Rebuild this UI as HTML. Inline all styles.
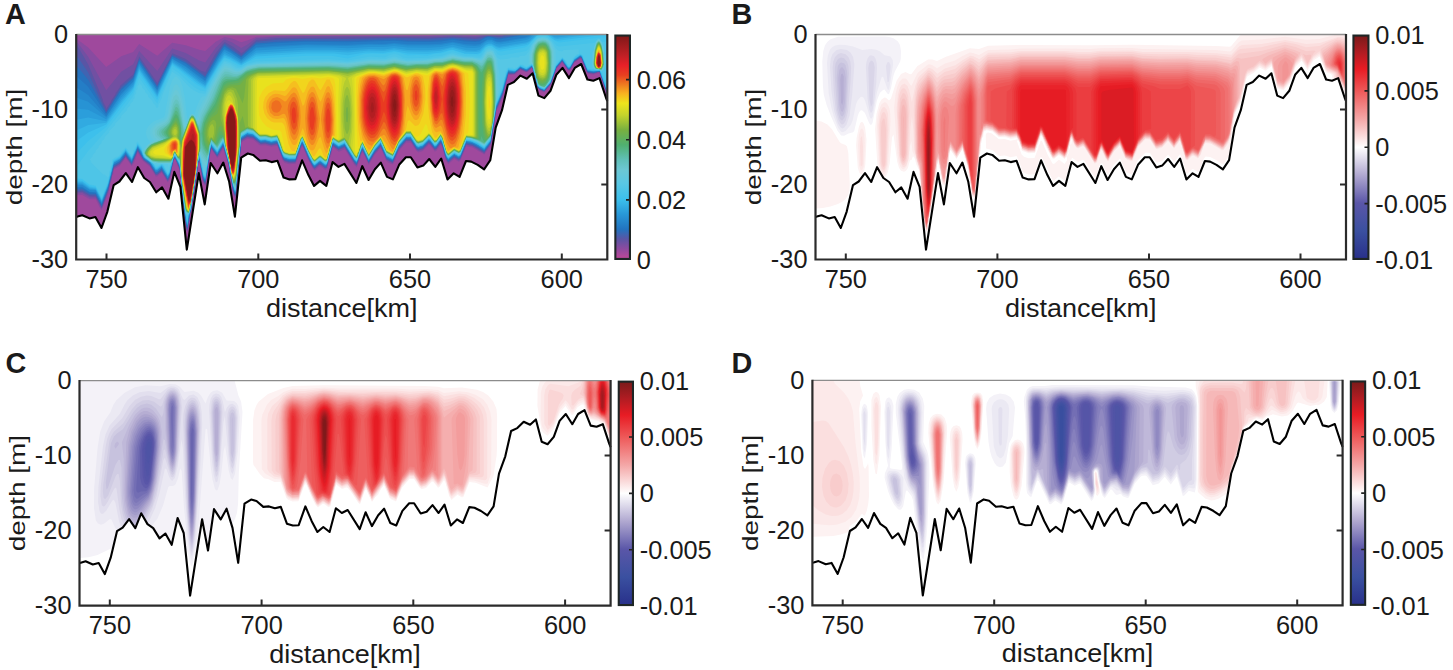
<!DOCTYPE html><html><head><meta charset="utf-8"><style>html,body{margin:0;padding:0;background:#fff;width:1453px;height:670px;overflow:hidden}</style></head><body><svg width="1453" height="670" viewBox="0 0 1453 670" style="display:block;font-family:'Liberation Sans', sans-serif;fill:#1a1a1a">
<rect width="1453" height="670" fill="#fff"/>
<path d="M106.5,259.5 v-6 M258.3,259.5 v-6 M410.0,259.5 v-6 M561.8,259.5 v-6 M76.2,109.5 h6 M607.3000000000001,109.5 h-6 M76.2,184.5 h6 M607.3000000000001,184.5 h-6" stroke="#2b2b2b" stroke-width="2" fill="none"/>
<g transform="translate(76.2,34.5)">
<clipPath id="clipA"><polygon points="0,0 531.1,0 531.1,66.5 531.1,66.5 529.7,63.0 523.3,43.6 517.1,46.2 511.2,45.0 505.0,29.5 498.6,33.4 492.8,43.6 486.3,33.4 480.1,40.3 474.3,56.3 468.1,63.6 462.2,61.1 456.4,38.8 450.6,44.2 444.2,41.1 437.8,47.5 431.6,50.4 425.8,75.7 419.5,93.1 414.1,125.7 407.9,134.8 401.5,130.4 395.0,127.1 389.8,126.5 383.4,142.4 377.5,138.8 371.3,144.9 365.0,124.0 359.1,132.4 353.0,124.5 347.1,131.1 341.2,132.9 334.6,122.7 329.7,122.7 322.9,130.3 316.7,144.9 310.8,142.4 304.6,128.1 298.7,134.7 292.4,145.5 286.1,131.7 280.2,148.5 268.2,129.4 262.3,132.4 256.4,127.6 250.1,151.4 243.8,146.4 237.9,151.4 232.2,140.6 225.9,125.8 219.2,144.6 213.3,144.9 207.4,143.1 201.3,126.3 195.4,127.6 189.5,125.8 183.8,126.3 177.0,120.4 171.6,119.0 165.0,123.1 158.7,182.2 153.0,147.3 147.1,128.1 141.2,138.8 134.5,128.5 128.5,169.9 122.6,138.6 110.6,215.1 104.2,152.4 98.1,137.4 92.2,164.2 85.9,152.9 80.0,157.8 73.7,147.5 68.0,143.5 61.7,132.7 55.8,147.5 49.6,138.6 43.2,147.0 37.5,150.6 31.2,177.1 25.3,193.5 19.2,182.5 13.3,183.9 6.1,180.7 1.3,182.1 0.0,182.3"/></clipPath>
<g clip-path="url(#clipA)">
<rect x="-1" y="-1" width="533.1" height="227.0" fill="#c04898"/><path d="M0.0 0.0l534 0.0 0 226.5 -534 0.0z" fill="#9f499d"/><path d="M0.0 160.8l0 -156.9 12 9.1 18 19.5 15 -10.8 12 -4.3 6 -7.8 18 11.7 15 -13.1 13.5 2.6 13.5 4.5 6 1.2 10.5 -9.2 9 -4.9 7.5 1.7 9 3.7 6 -1.7 9 -3.8 21 -0.9 153 -0.5 22.5 -0.6 22.5 0.6 8.9 -0.7 126.1 0.0 0 60.4 -3 -0.5 -1.3 -1.4 -1.7 -6.6 -0.9 -0.9 -0.6 -3.6 -0.9 -0.9 -0.6 -3.6 -1.3 -2.4 -0.2 -2.2 -4.4 0.7 -1.6 1.0 -6 -1.3 -2.7 -4.3 -3.3 -9.6 -1.5 -1.1 -6 4.4 -0.5 1.8 -4 5.9 -1.6 0.1 -5.9 -8.1 -6 6.5 -0.3 3.1 -1.2 1.2 -0.4 3.3 -1.1 1.1 -1.8 6.4 -7.2 8.3 -3 -1.2 -4.3 -4.0 -0.2 -3.7 -1.4 -2.3 -0.1 -3.4 -1.1 -1.1 -0.4 -4.8 -1.2 -1.2 -0.3 -3.1 -4.5 4.3 -1.5 0.4 -6 -2.2 -4.5 4.2 -7.5 0.8 -0.4 3.1 -1.1 1.5 -0.4 4.5 -1 1.2 -0.5 4.8 -1 1.1 -0.6 4.9 -6.9 15.6 -0.3 5.4 -1.2 2.1 -0.3 6.9 -1.2 2.2 -0.2 6.8 -1.3 2.3 -0.3 6.7 -7.2 10.3 -12.3 -7.3 -5.7 -0.8 -6 14.4 -1.5 0.9 -4.5 -2.7 -6 5.2 -2.5 -3.4 -3.5 -13.7 -1.5 -2.4 -4.5 6.3 -1.5 0.4 -4.5 -5.9 -1.5 -0.7 -6 6.2 -4.5 1.4 -2.5 -2.1 -5 -7.9 -4.5 0.0 -7.5 8.6 -3.8 9.8 -2.2 3.8 -4.5 -1.9 -2.2 -1.9 -5.3 -12.8 -6 6.7 -6 10.2 -6 -12.7 -1.5 2.2 -0.7 3.3 -3.8 9.5 -2.3 -2.0 -9.7 -16.0 -6 2.5 -6 -4.5 -1.9 9.1 -1.1 1.9 -0.5 4.1 -1 1.4 -0.6 4.6 -2.4 1.8 -4.5 -3.7 -1.5 0.1 -4.5 3.9 -2.3 -2.1 -4.7 -9.0 -5 -12.5 -1.5 1.0 -3.6 11.5 -2.1 4.5 -6.3 0.5 -4.5 -1.4 -2.1 -2.1 -5.4 -15.1 -6 1.1 -6 -1.6 -4.5 0.4 -1.5 -0.6 -6 -5.3 -6 -0.9 -6 3.7 -0.2 10.9 -1.3 3.0 -0.3 12.0 -1.2 2.1 -0.3 11.4 -1.2 2.6 -0.2 10.9 -1.3 3.2 -2.6 -6.2 -0.4 -7.0 -1.2 -2.0 -0.3 -6.9 -1.2 -2.1 -0.3 -7.0 -1.3 -2.0 -0.2 -3.3 -1.1 -1.2 -0.4 -3.6 -0.9 -0.9 -2.1 -8.5 -3.5 7.0 -2.5 3.2 -6 -9.1 -0.4 4.4 -1.1 1.3 -0.5 9.2 -1 1.2 -0.3 7.8 -1.2 2.7 -0.3 7.8 -1.2 2.6 -2.6 -4.1 -0.4 -6.2 -1 -1.3 -2 -14.0 -0.2 3.5 -1.3 2.0 -0.4 8.5 -1.1 1.1 -0.2 7.9 -1.3 1.3 -0.2 7.7 -1.3 2.3 -0.4 8.2 -1.1 1.1 -0.3 7.9 -1.2 1.3 -0.4 7.7 -1.1 1.6 -0.3 7.4 -1.2 2.2 -1.2 -2.2 -0.3 -6.5 -1.2 -2.5 -0.3 -12.2 -1.3 -2.8 -0.2 -11.5 -1.2 -2.0 -0.3 -12.5 -1.3 -2.5 -0.2 -7.1 -2.5 -4.9 -2 -6.1 -1.5 1.0 -0.5 5.2 -1.1 1.5 -0.3 4.5 -1.2 1.9 -0.5 5.6 -2.5 3.5 -6 -9.9 -4.5 3.8 -1.5 0.0 -6 -9.8 -6.9 -5.7 -5.1 -8.5 -3.5 10.0 -2.5 3.9 -6 -8.5 -6 8.1 -6 3.6 -0.6 4.9 -0.9 1.2 -0.5 4.8 -1 1.3 -2 10.7 -7 17.7 -2 -2.7 -4 -8.2 -6 -0.0 -7.5 -4.2z" fill="#884ba0"/><path d="M0.0 159.0l0 -152.4 12 15.7 18 33.5 15 -18.6 12 -7.4 6 -13.4 18 20.1 15 -22.5 13.5 4.4 13.5 7.7 6 1.9 10.4 -14.5 7.3 -7.5 1.8 -1.0 7.5 3.1 9 5.5 6 -3.3 9 -6.6 19.5 -1.5 31.5 -0.7 123 -0.0 22.5 -0.7 22.5 0.7 13.5 -1.3 13.5 0.6 0.9 -0.7 107.1 0.0 0 59.7 -3 -0.2 -0.9 -1.0 -2.1 -7.4 -1.1 -1.6 -0.4 -3.0 -1.1 -1.5 -0.4 -3.0 -1.1 -1.5 -0.4 -3.0 -1.9 0.0 -4.1 1.9 -6 -1.0 -2.3 -3.8 -3.7 -10.5 -1.5 -0.7 -6 4.4 -4.5 7.8 -1.5 0.1 -6 -8.7 -6 7.0 -5.2 15.5 -6.8 7.4 -4.5 -1.8 -2.6 -2.6 -0.4 -4.5 -1.2 -1.5 -0.3 -4.1 -1.2 -1.9 -0.3 -3.8 -1.5 -4.1 -4.5 4.1 -1.5 0.4 -6 -2.7 -6 5.2 -6 0.1 -5.2 20.2 -6.8 16.1 -5.3 33.4 -6.7 9.4 -12 -7.3 -6 -1.0 -6 14.5 -1.5 0.8 -4.5 -2.7 -6 5.1 -2.4 -3.8 -3.6 -13.2 -1.5 -2.5 -4.5 6.3 -1.5 0.4 -4.5 -5.8 -1.5 -0.7 -6 6.2 -4.5 1.4 -1.7 -1.0 -5.8 -9.0 -4.5 0.0 -7.5 8.6 -6 13.5 -6 -3.1 -6 -13.5 -6 6.8 -6 10.1 -6 -12.8 -1.5 2.3 -4.5 12.7 -2.3 -2.4 -9.7 -15.7 -6 2.7 -6 -4.4 -6 21.9 -1.5 0.8 -4.5 -3.6 -1.5 0.1 -4.5 3.8 -1.5 -1.1 -4.8 -8.9 -5.7 -13.5 -1.5 1.0 -6 16.3 -6 0.2 -4.5 -1.4 -1.5 -1.5 -6 -15.6 -6 1.1 -6 -1.6 -4.5 0.4 -7.5 -5.8 -6 -1.0 -6 3.8 -0.4 10.4 -1.1 3.5 -0.5 11.5 -1 2.6 -0.4 10.9 -1.1 3.1 -0.4 10.4 -1.1 3.6 -2.5 -6.6 -2 -15.3 -1.2 -2.7 -0.3 -6.3 -0.9 -1.2 -0.6 -3.9 -4.5 -14.5 -6 10.3 -6 -8.9 -0.4 3.5 -1.1 2.2 -0.5 8.3 -1 1.9 -0.4 7.1 -1.1 3.2 -0.7 8.8 -0.8 1.6 -2.4 -4.6 -3.6 -20.8 -0.5 4.3 -1 1.2 -0.4 7.8 -1.1 2.0 -0.3 7.0 -1.2 2.5 -0.4 8.0 -1.1 1.4 -0.3 7.6 -1.2 2.1 -0.3 6.9 -1.2 2.3 -2 15.7 -1 2.7 -2.6 -11.7 -0.4 -11.5 -1.2 -3.5 -0.3 -10.9 -1.1 -2.6 -0.4 -11.7 -1.1 -1.8 -0.4 -8.0 -4.5 -10.6 -1.5 0.5 -3.6 18.1 -2.4 4.0 -6 -9.8 -4.5 3.7 -1.5 0.0 -6 -9.7 -6 -4.8 -6 -9.5 -6 13.9 -6 -8.5 -6 8.0 -6 3.7 -5.2 22.4 -6.8 17.9 -6 -11.0 -6 -0.1 -7.5 -4.3z" fill="#7150a2"/><path d="M534.0 0.0l0 59.3 -3 -0.2 -7.5 -21.9 -2.8 0.3 -3.2 1.3 -6 -0.9 -6 -14.3 -1.5 -0.7 -6 4.3 -4.5 7.9 -1.5 0.1 -6 -8.6 -6 7.0 -5.6 15.9 -6.4 7.2 -4.5 -1.8 -2.3 -2.3 -0.6 -4.5 -1.1 -1.5 -0.5 -4.5 -1.1 -1.5 -0.4 -4.3 -1.5 -3.9 -4.5 4.0 -1.5 0.5 -6 -2.6 -6 5.0 -6 -0.0 -5.6 20.9 -6.4 15.3 -5.2 32.7 -6.8 10.1 -11.4 -7.1 -6.6 -1.3 -6 14.5 -1.5 0.9 -4.5 -2.6 -6 5.0 -2 -2.9 -4 -14.0 -1.5 -2.6 -4.5 6.3 -1.5 0.5 -4.5 -5.9 -1.5 -0.8 -6 6.2 -4.5 1.3 -1.5 -0.8 -6 -9.1 -4.5 0.1 -7.5 8.7 -6 13.5 -6 -3.1 -6 -13.4 -6 6.8 -6 10.1 -6 -12.9 -1.5 2.4 -4.5 12.6 -1.8 -1.5 -10.2 -16.7 -1.5 0.2 -4.5 2.6 -6 -4.3 -6 22.0 -1.5 0.6 -4.5 -3.6 -1.5 0.1 -4.5 3.8 -1.5 -1.1 -3.6 -6.6 -6.9 -15.8 -1.5 0.9 -6 16.3 -6 0.1 -4.5 -1.4 -1.5 -1.5 -6 -15.5 -6 1.1 -6 -1.6 -4.5 0.4 -7.5 -5.9 -6 -1.1 -6 3.9 -0.4 9.6 -1.1 4.2 -0.5 10.8 -1 3.2 -0.4 10.3 -1.1 3.8 -0.4 9.7 -1.1 4.2 -2.4 -7.2 -2.1 -14.3 -1 -2.2 -0.5 -6.8 -6 -19.8 -6 10.2 -6 -8.7 -1.5 5.7 -0.6 7.5 -0.9 2.7 -0.7 7.8 -2.3 12.8 -2.1 -3.8 -3.9 -21.4 -1.5 5.7 -0.6 8.2 -0.9 1.5 -0.4 7.5 -1.1 2.1 -0.4 6.9 -1.1 2.6 -0.5 7.9 -1 1.6 -0.5 7.4 -1 1.9 -3 18.0 -2.5 -12.4 -0.5 -10.5 -1 -3.0 -0.5 -11.4 -1.1 -3.6 -0.3 -10.5 -1.1 -3.0 -0.4 -7.1 -4.5 -10.3 -1.5 0.5 -4 18.4 -2 3.2 -6 -9.8 -4.5 3.7 -1.5 0.0 -6 -9.7 -6 -4.5 -6 -9.8 -6 14.0 -6 -8.5 -6 7.9 -6 3.7 -5.6 23.3 -6.4 16.8 -6 -11.1 -6 -0.2 -7.5 -4.5 -6 0.5 0 -148.5 12 21.0 14.4 34.5 0.6 3.0 2.5 4.5 0.5 3.0 0.2 -1.5 4.3 -6.0 0.2 -1.5 4.3 -6.0 0.3 -1.5 4.2 -6.0 0.3 -1.5 13.2 -11.6 6 -17.8 18 26.7 15 -29.9 13.5 5.9 15 11.6 4.5 1.2 9.6 -17.5 7.7 -10.5 2.2 -1.9 8.6 4.9 7.9 6.4 3 -2.0 12 -11.3 20.7 -2.1 117.3 -0.9 36 0.4 22.5 -0.8 22.5 0.9 12 -1.8 15 0.5 1.5 -1.1z" fill="#5955a5"/><path d="M534.0 0.0l0 59.0 -3.2 -0.5 -7.3 -21.5 -6 1.5 -6 -1.0 -6 -14.2 -1.5 -0.8 -6 4.3 -4.5 7.9 -1.5 0.1 -6 -8.6 -6 7.0 -5.1 14.8 -6.9 8.4 -4.5 -1.8 -2.1 -2.0 -2.3 -10.5 -1 -1.5 -0.6 -4.5 -1.5 -4.0 -4.5 3.9 -1.5 0.5 -6 -2.6 -6 5.0 -6 -0.1 -5.4 19.9 -6.6 16.1 -5.4 33.4 -6.6 9.4 -6 -4.3 -6 -3.1 -6 -1.0 -6 14.5 -1.5 0.8 -4.5 -2.6 -6 5.1 -2.2 -3.8 -3.8 -13.2 -1.5 -2.5 -4.5 6.3 -1.5 0.4 -4.5 -5.8 -1.5 -0.7 -6 6.2 -4.5 1.4 -1.5 -0.9 -6 -9.1 -4.5 0.1 -7.5 8.7 -6 13.5 -6 -3.1 -6 -13.4 -6 6.8 -6 10.1 -6 -12.8 -1.5 2.3 -4.5 12.7 -2.3 -2.4 -9.7 -15.9 -6 2.8 -6 -4.2 -6 21.9 -1.5 0.8 -4.5 -3.7 -1.5 0.1 -4.5 3.8 -1.5 -1.1 -4 -7.4 -6.5 -15.0 -1.5 1.0 -6 16.3 -6 0.1 -4.5 -1.4 -1.5 -1.5 -6 -15.6 -6 1.1 -6 -1.6 -4.5 0.4 -7.5 -5.9 -6 -1.0 -6 3.8 -0.5 10.4 -1 3.5 -2.1 25.0 -0.9 3.1 -0.6 10.4 -0.9 3.4 -2.2 -6.4 -2.3 -14.9 -1.1 -3.1 -0.4 -5.8 -6 -20.0 -6 10.2 -6 -8.6 -1.5 5.7 -4.5 30.4 -2.2 -4.4 -3.8 -20.4 -1.5 5.8 -0.4 7.1 -1.1 2.6 -0.4 6.4 -1.1 3.2 -0.5 7.3 -1 2.2 -1.9 15.8 -1.1 2.9 -3 17.7 -2.3 -11.6 -0.6 -10.5 -1.1 -4.5 -0.5 -10.5 -1 -3.0 -0.4 -10.5 -1 -3.0 -0.6 -7.7 -4.5 -10.1 -1.5 0.6 -3.9 17.2 -2.1 4.0 -6 -9.8 -4.5 3.7 -1.5 0.0 -6 -9.7 -6 -4.4 -6 -10.0 -6 13.9 -6 -8.5 -6 7.9 -6 3.6 -5.6 22.7 -6.4 17.2 -6 -11.2 -6 -0.3 -7.5 -4.6 -6 0.4 0 -136.2 12 17.7 18 39.1 15 -24.5 12 -10.5 6 -18.0 18 26.9 15 -30.4 13.5 6.2 19.5 14.6 11 -19.9 6.8 -10.5 1.8 -1.6 16.5 11.8 15 -13.9 21 -1.9 28.5 -1.1 42 0.3 46.5 -1.0 34.5 0.8 24 -1.3 22.5 1.4 4.5 -0.4 7.5 -2.4 12 0.9 13.8 -2.1z" fill="#4064b2"/><path d="M534.0 0.0l0 58.6 -3 -0.2 -7.5 -21.5 -6 1.3 -6 -1.0 -6 -14.2 -1.5 -0.7 -6 4.3 -4.5 7.9 -1.5 0.1 -6 -8.6 -6 7.0 -5.2 15.1 -6.8 8.1 -4.5 -1.9 -1.9 -1.8 -5.6 -20.8 -4.5 3.8 -1.5 0.5 -6 -2.6 -6 4.9 -6 -0.3 -5.7 20.5 -6.3 15.4 -5.7 34.1 -6.3 8.7 -6 -4.3 -5.7 -2.9 -6.3 -1.1 -6 14.5 -1.5 0.9 -4.5 -2.6 -6 5.0 -2 -3.1 -4 -13.8 -1.5 -2.6 -4.5 6.3 -1.5 0.5 -4.5 -5.9 -1.5 -0.8 -6 6.2 -4.5 1.4 -1.5 -0.8 -6 -9.1 -4.5 0.1 -7.5 8.7 -6 13.4 -6 -3.1 -6 -13.4 -6 6.8 -6 10.1 -6 -12.8 -1.5 2.3 -4.5 12.6 -1.9 -1.7 -10.1 -16.6 -6 2.8 -6 -4.2 -6 22.0 -1.5 0.6 -4.5 -3.6 -1.5 0.1 -4.5 3.8 -1.5 -1.1 -3.7 -6.8 -6.8 -15.6 -1.5 0.9 -6 16.2 -6 0.2 -4.5 -1.4 -1.5 -1.5 -6 -15.6 -6 1.1 -6 -1.6 -4.5 0.4 -7.5 -5.9 -6 -1.1 -6 3.9 -0.5 9.5 -1 4.3 -2.1 24.2 -2.4 17.7 -2 -5.7 -4 -24.2 -6 -20.1 -6 10.2 -6 -8.5 -1.5 5.6 -4.5 30.2 -1.9 -3.7 -4.1 -20.9 -1.5 5.9 -0.6 7.5 -0.9 2.3 -0.5 6.7 -1 2.8 -3.5 25.7 -1 2.6 -3 17.2 -2.3 -12.3 -5.2 -48.8 -4.5 -9.8 -1.5 0.6 -4.1 17.6 -1.9 3.3 -6 -9.8 -4.5 3.7 -1.5 0.0 -6 -9.6 -6 -4.3 -6 -10.2 -6 14.0 -6 -8.5 -6 7.9 -6 3.6 -5.9 23.5 -6.1 16.2 -6 -11.3 -6 -0.4 -7.5 -4.7 -6 0.3 0 -124.0 12 14.4 18 33.2 15 -23.9 12 -11.1 6 -18.0 18 26.8 15 -30.7 13.5 6.7 19.5 14.6 13.1 -23.0 4.9 -7.6 1.5 -1.2 16.5 11.3 15 -13.4 19.5 -1.7 30 -1.2 42 0.3 46.5 -1.2 13.5 0.9 21 0.1 12 -0.5 12 -1.5 12 1.7 10.5 0.4 4.5 -0.5 6 -2.9 3 -0.7 10.5 1.9 22.6 -3.7z" fill="#2672be"/><path d="M534.0 0.0l0 58.2 -3 -0.2 -7.5 -21.4 -6 1.2 -6 -1.0 -6 -14.3 -1.5 -0.7 -6 4.3 -4.5 7.9 -1.5 0.1 -6 -8.6 -6 7.0 -5.4 15.5 -6.6 7.9 -4.5 -1.9 -2.4 -3.0 -3.5 -15.0 -1.7 -4.6 -4.5 3.8 -1.5 0.5 -6 -2.6 -6 4.9 -6 -0.5 -5.9 21.0 -6.1 14.7 -6 35.0 -6 7.9 -10.5 -6.6 -3 -1.2 -4.5 -0.5 -6 14.6 -1.5 0.8 -4.5 -2.6 -6 5.0 -1.8 -2.6 -4.2 -14.3 -1.5 -2.6 -4.5 6.2 -1.5 0.5 -4.5 -5.8 -1.5 -0.8 -6 6.2 -4.5 1.4 -1.5 -0.8 -6 -9.1 -4.5 0.1 -7.5 8.7 -6 13.4 -6 -3.1 -6 -13.3 -6 6.9 -6 10.1 -6 -12.8 -1.5 2.3 -4.5 12.6 -2.5 -2.7 -9.5 -15.6 -6 2.8 -6 -4.2 -6 21.9 -1.5 0.7 -4.5 -3.6 -1.5 0.1 -4.5 3.8 -1.5 -1.1 -4.2 -7.8 -6.3 -14.6 -1.5 0.9 -6 16.3 -6 0.1 -4.5 -1.4 -1.5 -1.5 -6 -15.5 -6 1.1 -6 -1.7 -4.5 0.4 -7.5 -5.9 -6 -1.1 -6 3.8 -0.6 10.1 -1 4.5 -0.5 9.0 -3.9 32.1 -1.8 -5.1 -1.9 -9.0 -2.3 -15.6 -6 -20.4 -6 10.2 -6 -8.4 -1.5 5.6 -4.5 29.9 -1.7 -2.9 -4.3 -21.3 -1.5 6.0 -6.6 45.4 -3.9 19.1 -2.2 -11.6 -5.3 -49.4 -4.5 -9.6 -1.5 0.5 -4.4 17.9 -1.6 2.6 -6 -9.9 -4.5 3.7 -1.5 0.0 -6 -9.5 -6 -4.1 -6 -10.5 -6 13.9 -6 -8.5 -6 7.9 -6 3.5 -6 23.8 -6 15.7 -6 -11.4 -6 -0.5 -7.5 -4.8 -6 0.2 0 -111.8 12 11.0 18 27.3 15 -23.4 12 -11.6 6 -18.0 18 26.7 15 -31.1 13.5 7.1 19.5 14.5 13.5 -23.4 4.5 -6.9 1.5 -1.2 16.5 10.8 15 -12.8 19.5 -1.6 30 -1.4 42 0.4 46.5 -1.4 13.5 1.0 21 0.1 12 -0.5 12 -1.7 12 1.9 10.5 0.4 4.5 -0.5 6 -3.4 3 -0.8 3 0.1 4.5 1.8 3 0.3 29.2 -5.2z" fill="#247dc6"/><path d="M534.0 0.0l0 57.9 -3 -0.2 -7.5 -21.3 -6 1.1 -6 -0.9 -5.9 -14.0 -1.6 -1.0 -6 4.3 -4.5 7.9 -1.5 0.1 -6 -8.6 -6 7.0 -5.5 15.8 -6.5 7.6 -4.5 -1.8 -2.3 -2.8 -3.5 -15.0 -1.7 -4.8 -4.5 3.7 -1.5 0.5 -6 -2.6 -4.5 4.2 -1.5 0.6 -6 -0.6 -6 21.1 -6 14.6 -5.6 33.9 -6.4 9.0 -6 -4.3 -6 -2.9 -6 -1.0 -6 14.5 -1.5 0.9 -4.5 -2.6 -6 5.0 -2.2 -3.7 -3.8 -13.3 -1.5 -2.5 -4.5 6.3 -1.5 0.4 -4.5 -5.9 -1.5 -0.7 -6 6.2 -4.5 1.4 -1.5 -0.9 -6 -9.1 -4.5 0.1 -7.5 8.8 -6 13.4 -6 -3.1 -6 -13.4 -6 6.8 -6 10.0 -6 -12.7 -1.5 2.2 -4.5 12.7 -2.2 -2.2 -9.8 -16.1 -6 2.8 -6 -4.1 -6 21.9 -1.5 0.7 -4.5 -3.7 -1.5 0.1 -4.5 3.9 -1.5 -1.1 -4 -7.3 -6.5 -15.1 -1.5 1.0 -6 16.3 -6 0.1 -4.5 -1.4 -1.5 -1.5 -6 -15.6 -6 1.1 -6 -1.6 -4.5 0.4 -1.5 -0.6 -6 -5.3 -6 -1.1 -6 3.8 -6 55.6 -2 -5.9 -4 -23.4 -6 -20.5 -6 10.2 -6 -8.3 -1.6 6.1 -4.4 29.2 -1.9 -3.7 -4.1 -20.3 -1.5 6.1 -6.7 45.7 -2.3 9.0 -1.5 9.4 -3.9 -25.9 -0.5 -9.0 -1 -4.5 -0.4 -9.0 -1.7 -12.4 -4.5 -9.3 -1.5 0.5 -4.5 17.9 -1.5 2.2 -6 -9.9 -4.5 3.7 -1.5 0.0 -5.9 -9.2 -6.1 -4.1 -3 -6.3 -3 -4.5 -6 13.9 -6 -8.5 -6 7.9 -6 3.5 -6 23.8 -6 15.6 -6 -11.5 -6 -0.6 -7.5 -4.9 -6 0.1 0 -99.7 12 7.7 18 21.4 15 -22.9 12 -12.1 6 -18.0 18 26.6 15 -31.4 13.5 7.5 19.5 14.5 13.5 -23.4 4.5 -6.8 1.5 -1.2 6 3.2 10.5 7.1 15 -12.2 19.5 -1.5 30 -1.5 42 0.5 21 -0.9 15 0.1 10.5 -0.9 13.5 1.2 21 0.1 12 -0.6 12 -1.9 12 2.2 10.5 0.5 4.5 -0.6 7.5 -4.4 4.5 -0.2 4.5 2.0 3 0.4 25.5 -4.2 6.4 -2.6z" fill="#2588cd"/><path d="M534.0 0.0l0 57.6 -3.2 -0.6 -7.3 -20.9 -6 1.0 -6 -1.0 -5.7 -13.7 -1.8 -1.3 -6 4.3 -4.5 7.9 -1.5 0.1 -6 -8.6 -6 7.0 -5.7 16.1 -6.3 7.4 -4.5 -1.8 -2.1 -2.6 -5.4 -20.1 -6 4.1 -6 -2.6 -4.5 4.2 -1.5 0.6 -6 -0.7 -6 20.9 -6 14.6 -6 35.3 -6 7.7 -6 -4.2 -5.8 -2.8 -6.2 -1.1 -6 14.5 -1.5 0.9 -4.5 -2.6 -6 5.0 -2 -3.2 -4 -13.7 -1.5 -2.6 -4.5 6.3 -1.5 0.5 -4.5 -5.9 -1.5 -0.8 -6 6.2 -4.5 1.4 -1.5 -0.8 -6 -9.1 -4.5 0.1 -7.5 8.8 -6 13.4 -6 -3.1 -6 -13.3 -6 6.8 -6 10.1 -6 -12.8 -1.5 2.3 -4.5 12.6 -1.9 -1.8 -10.1 -16.6 -6 2.9 -6 -4.2 -6 21.9 -1.5 0.7 -4.5 -3.6 -1.5 0.1 -4.5 3.8 -1.5 -1.1 -3.8 -6.9 -6.7 -15.5 -1.5 0.9 -6 16.2 -6 0.1 -4.5 -1.4 -1.5 -1.5 -6 -15.6 -6 1.1 -6 -1.6 -4.5 0.4 -7.5 -6.0 -6 -1.1 -6 3.8 -6 55.5 -3.7 -14.4 -2.3 -14.8 -6 -20.7 -6 10.1 -6 -8.1 -1.7 6.5 -4.3 28.5 -1.7 -3.0 -4.3 -20.7 -1.5 6.1 -6.8 46.1 -2.4 9.0 -1.3 8.8 -3.8 -25.3 -3.7 -35.5 -4.5 -9.1 -1.5 0.5 -4.5 17.6 -1.5 2.2 -6 -9.9 -4.5 3.7 -1.5 0.0 -5.6 -8.6 -6.4 -4.5 -2.7 -6.0 -3.3 -5.0 -6 13.9 -6 -8.5 -6 7.9 -6 3.4 -6 23.7 -6 15.5 -6 -11.6 -6 -0.7 -7.5 -5.0 -6 0.0 0 -87.5 12 4.4 18 15.5 15 -22.3 12 -12.7 6 -18.0 18 26.5 15 -31.8 13.5 7.9 13.5 10.5 6 3.8 13.5 -23.3 4.5 -6.7 1.5 -1.2 6 3.0 10.5 6.9 15 -11.6 49.5 -3.0 42 0.6 21 -1.1 15 0.2 10.5 -1.0 13.5 1.4 21 0.2 12 -0.7 12 -2.1 13.5 2.7 9 0.4 4.5 -0.7 7.5 -5.0 4.5 -0.2 4.5 2.2 4.5 0.3 25.5 -4.3 3 -1.2 3.6 -2.7z" fill="#2793d4"/><path d="M534.0 0.0l0 57.3 -3 -0.3 -7.4 -21.0 -6.1 0.8 -6 -1.0 -5.5 -13.3 -2 -1.6 -6 4.3 -4.5 7.9 -1.5 0.1 -6 -8.6 -6 7.0 -5.9 16.4 -6.1 7.1 -4.5 -1.8 -2 -2.4 -5.5 -20.3 -6 4.0 -6 -2.6 -3 3.0 -3 1.7 -6 -0.9 -6 20.8 -6 14.6 -6 35.4 -6 7.7 -6 -4.2 -4.9 -2.3 -7.1 -1.5 -5.5 13.5 -2 1.9 -4.5 -2.6 -6 5.0 -1.8 -2.8 -4.2 -14.1 -1.5 -2.6 -4.5 6.2 -1.5 0.5 -4.5 -5.9 -1.5 -0.8 -6 6.2 -4.5 1.4 -1.5 -0.8 -6 -9.1 -4.5 0.1 -7.5 8.8 -6 13.4 -6 -3.1 -6 -13.3 -6 6.8 -6 10.1 -6 -12.8 -1.5 2.3 -4.5 12.6 -1.7 -1.4 -10.3 -16.9 -6 2.9 -6 -4.2 -6 21.9 -1.5 0.6 -4.5 -3.6 -1.5 0.1 -4.5 3.8 -1.5 -1.1 -3.6 -6.5 -6.9 -15.8 -1.5 0.9 -6 16.3 -6 0.1 -4.5 -1.4 -1.5 -1.5 -6 -15.5 -6 1.1 -6 -1.6 -4.5 0.4 -7.5 -6.0 -6 -1.2 -6 3.8 -6 55.5 -3.6 -13.9 -2.4 -15.1 -6 -20.9 -6 10.1 -6 -8.0 -1.8 6.9 -4.2 27.9 -1.5 -2.3 -4.5 -21.2 -1.5 6.2 -6.6 44.9 -2.8 10.5 -1.1 8.1 -3.9 -26.1 -3.6 -34.5 -4.5 -8.8 -1.5 0.6 -4.5 17.3 -1.5 2.2 -6 -9.9 -4.5 3.7 -1.5 0.0 -5.3 -7.9 -6.7 -4.9 -2.3 -5.6 -3.7 -5.7 -6 13.9 -6 -8.5 -6 7.9 -6 3.4 -6 23.6 -6 15.4 -6 -11.6 -6 -0.8 -7.5 -5.1 -6 -0.1 0 -75.5 12 1.1 18 9.6 15 -21.8 12 -13.2 6 -18.0 18 26.4 15 -32.1 13.5 8.3 13.5 10.5 6 3.7 13.5 -23.2 4.5 -6.6 1.5 -1.2 6 2.8 10.5 6.6 15 -11.0 49.5 -3.0 27 -0.0 15 0.7 21 -1.3 15 0.2 10.5 -1.1 13.5 1.6 21 0.2 12 -0.8 12 -2.3 13.5 3.0 9 0.4 4.5 -0.8 6 -4.8 3 -1.0 3 0.1 4.5 2.4 3 0.5 27 -4.5 3 -1.3 5 -4.2 19.1 0.0 4.4 0.8 6.2 -0.8z" fill="#2b9edb"/><path d="M534.0 0.0l0 57.0 -3 -0.2 -7.3 -20.7 -7.7 0.5 -4.5 -0.9 -6 -14.2 -1.5 -0.7 -6 4.3 -4.5 7.9 -1.5 0.1 -6 -8.6 -6.1 7.2 -5.9 16.5 -6 7.0 -4.5 -1.8 -1.9 -2.1 -5.6 -20.6 -4.5 3.5 -1.5 0.5 -6 -2.6 -3 3.0 -3 1.7 -6 -1.0 -1.9 5.0 -4.1 15.7 -6 14.6 -6 35.5 -6 7.6 -6 -4.1 -7.5 -3.3 -4.5 -0.4 -5.6 13.8 -1.9 1.5 -4.5 -2.5 -6 5.0 -1.7 -2.5 -4.3 -14.4 -1.5 -2.6 -4.5 6.2 -1.5 0.5 -4.5 -5.9 -1.5 -0.8 -6 6.2 -4.5 1.4 -1.5 -0.8 -6 -9.1 -4.5 0.1 -7.5 8.8 -6 13.4 -6 -3.1 -6 -13.3 -6 6.9 -6 10.0 -6 -12.8 -1.5 2.3 -4.5 12.6 -2.4 -2.6 -9.6 -15.8 -6 2.9 -6 -4.1 -6 21.9 -1.5 0.7 -4.5 -3.6 -1.5 0.1 -4.5 3.8 -1.5 -1.1 -4.1 -7.7 -6.4 -14.7 -1.5 0.9 -6 16.3 -6 0.1 -4.5 -1.4 -1.5 -1.5 -6 -15.5 -6 1.1 -6 -1.7 -4.5 0.4 -7.5 -6.0 -6 -1.2 -6 3.7 -6 55.4 -3.5 -13.4 -2.5 -15.4 -6 -21.0 -6 10.1 -6 -8.0 -1.6 5.8 -4.4 28.7 -1.5 -2.3 -4.5 -20.9 -1.5 6.3 -6.7 45.2 -2.9 10.5 -0.9 7.4 -3.8 -25.4 -3.7 -35.0 -4.5 -8.6 -1.5 0.6 -4.5 17.0 -1.5 2.2 -6 -9.9 -4.5 3.6 -1.5 0.0 -4.9 -7.3 -7.1 -5.3 -1.9 -5.2 -4.1 -6.3 -6 13.9 -6 -8.5 -6 7.9 -6 3.3 -6 23.5 -6 15.3 -6 -11.7 -6 -0.8 -7.5 -5.3 -6 -0.1 0 -63.4 12 -2.2 18 3.8 15 -21.2 12 -13.8 6 -18.0 18 26.2 15 -32.5 9.5 6.0 17.5 13.3 6 3.6 13.5 -23.1 4.5 -6.5 1.5 -1.2 6 2.6 10.5 6.4 15 -10.4 49.5 -3.0 27 -0.0 15 0.9 21 -1.5 15 0.3 10.5 -1.3 13.5 1.9 19.5 0.3 13.5 -1.0 12 -2.5 13.5 3.4 9 0.5 4.5 -0.9 6 -5.3 3 -1.1 3 0.1 4.5 2.6 3 0.6 27 -4.5 3 -1.3 6.4 -5.7 15.3 0.0 3.7 2.0 3 0.4 16.5 -2.4z" fill="#31aae1"/><path d="M534.0 0.0l0 56.7 -3 -0.2 -7.1 -20.4 -7.9 0.2 -4.5 -0.9 -6 -14.3 -1.5 -0.7 -6 4.3 -4.5 7.9 -1.5 0.1 -6 -8.6 -6.3 7.6 -5.7 16.3 -6 7.0 -4.5 -1.8 -1.8 -1.9 -5.7 -20.8 -6 3.9 -6 -2.7 -4.5 4.2 -1.5 0.5 -6 -1.1 -2.1 5.5 -3.9 15.1 -6 14.7 -6 35.7 -6 7.6 -9.2 -5.5 -4.3 -1.7 -4.5 -0.4 -5.8 14.2 -1.7 1.2 -4.5 -2.6 -6 5.0 -2.1 -3.7 -3.9 -13.3 -1.5 -2.5 -4.5 6.2 -1.5 0.4 -4.5 -5.9 -1.5 -0.7 -6 6.2 -4.5 1.4 -1.5 -0.9 -6 -9.1 -4.5 0.1 -7.5 8.8 -6 13.4 -6 -3.1 -6 -13.3 -6 6.8 -6 10.0 -6 -12.7 -1.5 2.2 -4.5 12.7 -2.2 -2.2 -9.8 -16.2 -6 2.9 -6 -4.1 -6 21.9 -1.5 0.7 -4.5 -3.7 -1.5 0.1 -4.5 3.9 -1.5 -1.1 -4 -7.3 -6.5 -15.1 -1.5 1.0 -6 16.3 -6 0.1 -4.5 -1.4 -1.5 -1.5 -6 -15.6 -6 1.1 -6 -1.6 -4.5 0.4 -1.5 -0.6 -6 -5.4 -6 -1.2 -6.1 4.1 -5.9 55.0 -2.2 -7.0 -3.8 -21.7 -6 -21.2 -6 10.0 -6 -7.9 -1.7 6.2 -4.3 28.1 -1.5 -2.3 -4.5 -20.7 -1.5 6.4 -6.8 45.6 -2.7 9.0 -1 8.3 -3.7 -24.8 -3.8 -35.5 -4.5 -8.4 -1.5 0.5 -4.5 16.6 -1.5 2.2 -6 -10.0 -4.5 3.6 -1.5 0.0 -4.6 -6.7 -6.4 -4.5 -1.8 -3.0 -0.7 -3.0 -4.4 -7.0 -6 13.9 -6 -8.5 -6 7.9 -6 3.3 -6 23.4 -6 15.3 -6 -11.8 -6 -0.9 -7.5 -5.4 -6 -0.2 0 -51.4 12 -5.6 18 -2.1 15 -20.7 12 -14.3 6 -18.0 18 26.1 15 -32.8 9.6 6.3 17.4 13.4 6 3.5 13.5 -23.1 4.5 -6.5 1.5 -1.2 6 2.4 10.5 6.1 15 -9.6 49.5 -3.0 27 -0.0 15 1.0 21 -1.8 15 0.3 10.5 -1.5 13.5 2.1 19.5 0.3 13.5 -1.1 9 -2.5 3 -0.2 13.5 3.7 10.5 0.4 3 -0.8 6 -5.8 3 -1.2 3 0.1 4.5 2.8 3 0.8 27 -4.5 3 -1.4 8 -7.2 11.9 0.0 5.6 3.5 3 0.5 28.5 -4.0z" fill="#37b6e7"/><path d="M534.0 0.0l0 56.4 -3 -0.2 -7 -20.1 -8 -0.2 -4.5 -0.8 -5.6 -13.9 -1.9 -1.0 -6 4.3 -4.5 7.9 -1.5 0.1 -4 -6.8 -2 -1.9 -6.5 7.9 -5.5 16.1 -6 7.0 -4.5 -1.8 -1.7 -1.7 -5.8 -21.0 -6 3.9 -6 -2.7 -4.5 4.2 -1.5 0.4 -6 -1.2 -2.3 5.9 -3.7 14.5 -6 14.7 -6 35.8 -6 7.5 -6 -4.0 -5.9 -2.6 -6.1 -1.0 -6 14.5 -1.5 0.9 -4.5 -2.6 -6 5.0 -2 -3.3 -4 -13.6 -1.5 -2.5 -4.5 6.3 -1.5 0.5 -4.5 -5.9 -1.5 -0.8 -6 6.2 -4.5 1.4 -1.5 -0.8 -6 -9.1 -4.5 0.1 -7.5 8.8 -6 13.4 -6 -3.1 -6 -13.3 -6 6.8 -6 10.0 -6 -12.8 -1.5 2.3 -4.5 12.6 -2 -1.9 -10 -16.5 -6 2.9 -6 -4.1 -6 21.9 -1.5 0.7 -4.5 -3.6 -1.5 0.1 -4.5 3.8 -1.5 -1.1 -3.8 -7.0 -6.7 -15.3 -1.5 0.9 -6 16.2 -6 0.1 -4.5 -1.4 -1.5 -1.5 -6 -15.6 -6 1.1 -6 -1.6 -4.5 0.4 -1.5 -0.6 -6 -5.4 -6 -1.2 -6 3.7 -6 55.3 -2.4 -8.0 -3.6 -20.5 -6 -21.4 -6 10.0 -6 -7.8 -1.8 6.6 -4.2 27.4 -1.5 -2.3 -4.5 -20.5 -1.5 6.5 -6.9 45.9 -2.9 9.0 -0.7 7.7 -3.7 -24.2 -3.8 -35.9 -4.5 -8.2 -1.5 0.5 -4.5 16.4 -1.5 2.1 -4.2 -7.9 -1.8 -2.0 -4.5 3.5 -1.5 0.0 -2.7 -4.6 -3.3 -3.0 -4.7 -3.0 -2 -3.0 -0.8 -3.5 -4.5 -7.1 -6 13.9 -6 -8.5 -6 7.9 -6.1 3.4 -5.9 23.3 -6 15.2 -6 -11.9 -6 -1.0 -7.5 -5.5 -6 -0.3 0 -39.4 12 -8.9 18 -8.0 15 -20.1 12 -14.8 6 -18.0 18 25.9 15 -33.2 7.8 5.2 17.7 14.0 7.5 4.4 13.5 -23.0 4.5 -6.4 1.5 -1.2 6 2.3 10.5 5.7 15 -8.7 49.5 -3.0 28.5 0.0 13.5 1.7 18 -2.6 18 0.2 10.5 -1.7 13.5 2.4 19.5 0.4 13.5 -1.3 9 -2.7 3 -0.2 12 3.7 12 0.5 3.3 -0.8 5.7 -6.1 3 -1.3 3 0.1 4.5 3.1 3 0.9 27 -4.5 3 -1.5 7 -7.2 3 -1.5 7.9 0.1 7.5 4.9 3 0.7 43 -5.6z" fill="#3dc0ec"/><path d="M534.0 2.8l0 53.3 -3 -0.3 -5.2 -16.8 -2.3 -3.6 -12 -0.8 -5.2 -13.6 -2.3 -1.3 -4.5 2.6 -1.6 1.7 -4.4 7.9 -1.5 0.1 -3.7 -6.5 -2.3 -2.3 -6.7 8.3 -5.3 15.8 -6 7.0 -4.5 -1.8 -1.6 -1.5 -4.1 -16.5 -1.8 -4.8 -6 3.8 -6 -2.8 -4.5 4.3 -3 0.2 -4.5 -1.2 -2.2 5.0 -3.8 15.5 -6 14.7 -6 36.0 -6 7.5 -7.5 -4.6 -6 -2.4 -4.5 -0.5 -6 14.6 -1.5 0.9 -4.5 -2.6 -6 4.9 -1.9 -3.0 -4.1 -13.9 -1.5 -2.6 -4.5 6.3 -1.5 0.5 -4.5 -5.9 -1.5 -0.8 -6 6.2 -4.5 1.4 -1.5 -0.8 -6 -9.1 -4.5 0.1 -7.5 8.8 -6 13.4 -6 -3.1 -6 -13.3 -6 6.8 -6 10.1 -6 -12.8 -1.5 2.3 -4.5 12.6 -1.8 -1.5 -10.2 -16.8 -6 2.9 -6 -4.1 -6 21.9 -1.5 0.6 -4.5 -3.6 -1.5 0.1 -4.5 3.8 -1.5 -1.1 -3.7 -6.7 -6.8 -15.6 -1.5 0.9 -6 16.2 -6 0.1 -4.5 -1.4 -1.5 -1.5 -6 -15.5 -6 1.1 -6 -1.6 -4.5 0.4 -7.5 -6.0 -6 -1.3 -6 3.7 -6 55.2 -2.3 -7.6 -3.7 -20.8 -6 -21.5 -6 10.0 -6 -7.7 -1.9 7.0 -4.1 26.8 -1.5 -2.3 -2.3 -12.6 -2.2 -7.7 -1.5 6.5 -6.9 46.2 -1.5 6.0 -1.2 1.5 -0.8 8.6 -3.6 -23.6 -3.8 -36.0 -4.6 -8.4 -1.5 0.5 -3.6 10.8 -0.9 5.2 -1.5 2.1 -3.9 -7.3 -2.1 -2.4 -4.5 3.4 -1.5 0.0 -2.3 -4.0 -8.2 -6.1 -2 -2.9 -2 -6.0 -3.6 -5.2 -6 13.9 -6 -8.6 -6 7.9 -6.5 4.0 -5.5 22.5 -6 15.1 -6 -12.0 -6 -1.1 -7.5 -5.6 -6 -0.4 0 -25.7 12 -12.3 18 -14.1 27 -35.0 6 -18.0 18 25.9 15 -34.1 6 3.6 18 15.2 9 4.3 13.5 -23.0 4.5 -6.4 1.5 -1.2 4.5 1.4 9 5.0 3 0.9 6 -3.6 9 -3.2 51 -3.0 24 -0.1 16.5 2.8 17 -4.5 7 -0.6 12 0.6 10.5 -2.0 4.5 0.6 9 2.9 9 -0.5 10.5 0.7 7.5 -2.0 7.5 -0.4 6 -2.3 4.5 -0.7 12 3.6 13.5 0.5 3 -1.2 4.5 -5.7 3 -1.4 3 0.1 6 4.5 3 0.9 24 -4.0 3 -1.6 9 -9.7 4.5 -1.6 6 0.5 7.5 5.6 4.5 1.8 37.5 -4.5 1.5 -0.7z" fill="#46c3e9"/><path d="M534.0 6.9l0 48.9 -3 -0.3 -0.4 -3.0 -1.2 -1.5 -0.3 -3.0 -1.2 -1.5 -0.3 -3.0 -1.2 -1.5 -0.2 -3.0 -2.6 -3.7 -9 -0.5 -3 -0.8 -4.5 -10.5 -0.4 -2.5 -2.6 -2.0 -4.5 2.6 -2.3 2.4 -3.7 7.6 -1.5 0.1 -3.3 -6.2 -2.7 -2.6 -6.9 8.6 -5.1 15.6 -6 7.0 -4.5 -1.8 -1.5 -1.4 -4.1 -16.5 -1.9 -5.0 -6 3.7 -4.5 -2.7 -1.5 -0.2 -4.5 4.4 -3 0.1 -4.5 -1.3 -2.6 5.5 -3.4 14.9 -6.1 15.1 -5.9 35.8 -6 7.5 -7.5 -4.5 -6 -2.3 -4.5 -0.5 -6 14.6 -1.5 0.9 -4.5 -2.5 -6 5.0 -1.8 -2.7 -4.2 -14.2 -1.5 -2.6 -4.5 6.2 -1.5 0.5 -4.5 -5.9 -1.5 -0.8 -6 6.2 -4.5 1.4 -1.5 -0.8 -6 -9.1 -4.5 0.1 -7.5 8.8 -6 13.4 -6 -3.1 -6 -13.3 -6 6.8 -6 10.0 -6 -12.8 -1.5 2.3 -4.5 12.6 -1.6 -1.3 -10.4 -17.1 -6 2.9 -6 -4.1 -6 21.9 -1.5 0.7 -4.5 -3.6 -1.5 0.1 -4.5 3.8 -1.5 -1.1 -3.5 -6.4 -7 -15.9 -1.5 0.9 -6 16.3 -6 0.1 -4.5 -1.4 -1.5 -1.5 -6 -15.5 -6 1.1 -6 -1.6 -4.5 0.4 -7.5 -6.1 -6 -1.3 -6 3.6 -6 55.2 -2.3 -7.1 -3.7 -21.1 -6 -21.6 -6 10.0 -6 -7.6 -2 7.4 -3.5 19.5 -0.6 6.7 -1.5 -2.3 -2.4 -13.5 -2.1 -6.6 -8.5 53.1 -1.5 6.0 -1.6 1.5 -0.4 8.0 -0.3 -6.5 -1.2 -2.2 -2 -14.3 -3.8 -36.0 -4.7 -8.6 -1.5 0.5 -3.9 11.1 -0.6 4.7 -1.5 2.1 -4.4 -8.3 -1.6 -1.4 -4.5 3.2 -1.5 0.0 -1.9 -3.4 -8.6 -6.4 -1.8 -2.6 -1.7 -6.0 -4 -5.8 -6 13.9 -6 -8.7 -6.3 8.2 -5.7 3.1 -1 1.4 -0.5 4.2 -1.1 1.8 -3.4 15.7 -6 15.0 -6 -12.0 -6 -1.2 -7.5 -5.7 -6 -0.6 0 -11.2 12 -15.8 18 -20.3 21 -26.4 6 -8.6 6 -18.0 18 25.8 15 -34.7 6 3.6 10.5 10.1 6.1 4.9 5.9 3.2 4.5 0.6 13.3 -23.2 4.7 -6.6 1.5 -1.2 6 2.0 7.5 4.3 3 0.5 6 -3.6 9 -2.3 72 -2.1 19.5 1.5 22.5 -4.1 14.2 1.0 6.8 -3.0 3 -0.5 3.5 0.4 5.2 3.0 4.8 0.9 21 -0.6 6 -1.5 6.3 -0.3 10.2 -3.5 3 0.2 10.5 3.1 15 0.7 1.5 -0.8 4.5 -6.3 1.5 -1.1 3 -0.6 3 1.1 2.6 2.5 1.9 3.2 3 1.2 25.5 -4.6 1.5 -1.2 7.5 -10.7 3 -2.3 4.5 -0.9 3 0.2 3 1.4 5.2 4.8 2.3 3.1 3 1.2 36 -3.9 0.8 -2.0 2.2 -2.1 1.9 0.6 2.6 2.7z" fill="#4ec5e7"/><path d="M502.5 15.0l0 4.5 -1.5 0.0 -4.5 4.5 0 1.5 -3 4.5 -1.5 0.0 -1.5 -1.5 -0 -1.5 -4.5 -4.5 -4.4 4.5 -2.8 4.5 -4.9 15.4 -6 7.0 -4.5 -1.7 -1.5 -1.4 -4 -16.3 -2 -5.2 -6 3.2 -3 -2.3 -3 -0.2 -3 3.0 -1.5 0.0 -1.5 1.5 -1.5 -1.5 -4.5 0.0 -1.5 1.5 -0 1.6 -1.1 1.4 -0.3 4.5 -1.2 1.5 -0.3 3.9 -1.3 2.1 -0.2 3.3 -0.9 1.2 -5.3 15.0 -5.8 35.4 -6 7.4 -7.5 -4.4 -6 -2.3 -4.5 -0.4 -6 14.6 -1.5 0.8 -4.5 -2.5 -6 5.0 -1.7 -2.5 -4.3 -14.5 -1.5 -2.6 -4.5 6.2 -1.5 0.5 -4.5 -5.9 -1.5 -0.8 -6 6.2 -4.5 1.4 -1.5 -0.8 -6 -9.1 -4.5 0.1 -7.5 8.8 -6 13.4 -6 -3.1 -6 -13.3 -6 6.9 -6 10.0 -6 -12.8 -1.5 2.3 -4.5 12.6 -1.5 -1.2 -10.5 -17.2 -6 2.9 -6 -4.1 -6 21.9 -1.5 0.7 -4.5 -3.6 -1.5 0.1 -4.5 3.8 -1.5 -1.1 -4.1 -7.6 -6.4 -14.7 -1.5 0.9 -6 16.3 -6 0.1 -4.5 -1.4 -1.5 -1.5 -6 -15.5 -6 1.1 -6 -1.7 -4.5 0.4 -7.5 -6.1 -6 -1.3 -6 3.6 -6 55.1 -2.2 -6.7 -3.8 -21.3 -6 -21.8 -6 9.9 -6 -7.5 -2.1 7.7 -2.4 16.2 -0.9 1.8 -0.6 7.7 -1.5 -2.3 -2.2 -12.8 -2.3 -6.9 -8.6 53.4 -1.9 6.9 -1.5 0.6 -0 6.0 -0 -6.0 -1.5 -1.5 -2 -13.5 -3.8 -36.0 -4.7 -8.9 -1.5 0.6 -4.1 11.3 -0.4 3.9 -1.5 2.3 -3.3 -7.7 -1.9 -1.5 -1.5 0.0 -2.4 1.5 -3 -0.0 -10.5 -8.2 -2.1 -3.8 -1 -6.0 -4.4 -5.9 -1.4 1.4 -0.1 3.0 -1.5 1.5 -0 1.5 -1.5 1.5 -0 3.0 -1.5 1.5 -3 -3.0 -0 -1.5 -3 -3.0 -4.5 4.5 -0 1.5 -3 3.0 -1.5 0.0 -4.5 3.0 0 4.5 -1.5 1.5 0 4.5 -1.5 1.5 0 4.5 -1.5 1.5 -3 -3.0 -1.5 0.0 -12 -12.0 0 -1.5 -1.5 -1.5 3 -3.0 0 -1.5 3 -3.0 0 -1.5 3 -3.0 0 -1.5 3 -3.0 0 -1.5 3 -3.0 0 -1.5 4.5 -4.5 0 -1.5 6 -6.0 0 -1.5 6 -6.0 0 -1.5 6 -6.0 0 -1.5 3 -3.0 0 -1.5 3 -3.0 0 -1.5 1.5 -1.5 0 -3.0 1.5 -1.5 0 -3.0 1.5 -1.5 0 -3.0 1.5 -1.5 0 -3.0 0 1.5 3 3.0 0 1.5 3 3.0 0 1.5 3 3.0 0 1.5 4.5 4.5 0 1.5 3 3.0 0.2 1.5 1.3 1.1 1.1 -1.1 0.4 -3.0 1.4 -1.5 0.1 -1.7 1.2 -1.3 1.7 -6.0 9.1 -21.7 7.5 4.8 9 9.8 4.5 3.8 6 3.0 6 0.6 12 -22.2 4.5 -6.8 3 -3.1 5.8 1.8 6.2 4.3 3 0.6 1.5 -0.2 6 -3.6 9 -2.1 72 -1.8 19.5 1.1 22.5 -3.1 15 0.5 9 -2.9 12 3.5 19.5 -0.5 16.5 -2.2 7.5 -2.9 3 -0.3 10.5 2.8 16.5 1.4 1.5 -0.5 4.5 -6.7 1.5 -1.1 3 -0.6 3 1.2 4.5 7.6 3 1.7 9 -1.0 1.4 -1.0 7.6 -0.0 1.4 -1.5 4.6 -0.3 1.5 -0.8 3 -4.0 2.2 -5.4 3.8 -5.2 3 -2.4 4.5 -1.0 3 0.2 4 2.4 2.9 3.0 3.6 6.4 3 1.9 3 0.5 1.5 -1.4zM522.0 4.6l1.5 0.2 2.8 4.2 0.2 2.0 1.5 1.0 0 7.5 1.5 1.5 0 10.5 -1.5 1.5 0 1.5 -3 3.0 -1.5 -2.3 -4.5 -0.0 -3 -2.1 0 -15.0 1.5 -1.5 0 -4.5 1.5 -1.9 0.4 -2.6z" fill="#56c7e5"/><path d="M466.5 2.7l4.5 0.9 4.3 3.9 4.2 9.0 0.2 12.0 -3.9 13.5 -1.8 4.7 -6 7.0 -4.5 -1.7 -1.5 -1.4 -3.9 -16.1 -2.1 -5.4 -1.5 1.0 -2.2 -0.0 0.1 -9.0 3.8 -10.5 4.4 -5.8 3 -1.6zM522.0 4.9l1.5 0.2 2.5 3.8 0.5 3.4 0.9 1.1 0.6 7.9 1 2.6 -0.3 7.5 -1.2 3.0 -2.4 2.5 -1.5 -1.9 -5.6 -0.6 -1.5 -3.0 0.1 -10.5 1 -2.9 0.6 -6.1 0.9 -1.0 0.8 -3.5zM421.3 25.5l2 15.0 0.1 15.0 -3.8 13.5 -5.6 35.0 -6 7.4 -7.5 -4.3 -6 -2.3 -4.5 -0.4 -6 14.6 -1.5 0.9 -4.5 -2.5 -6 5.0 -1.6 -2.2 -4.4 -14.7 -1.5 -2.5 -4.5 6.2 -1.5 0.4 -4.5 -5.9 -1.5 -0.7 -6 6.2 -4.5 1.4 -1.5 -0.8 -6 -9.1 -4.5 0.1 -7.5 8.9 -6 13.4 -6 -3.1 -6 -13.3 -6 6.9 -6 10.0 -6 -12.8 -1.5 2.2 -4.5 12.6 -1.5 -1.2 -10.5 -17.2 -6 2.9 -6 -4.1 -6 21.9 -1.5 0.7 -4.5 -3.7 -1.5 0.1 -4.5 3.8 -1.5 -1.1 -4 -7.4 -6.5 -15.0 -1.5 1.0 -6 16.3 -6 0.1 -4.5 -1.4 -1.5 -1.5 -6 -15.6 -6 1.1 -6 -1.6 -4.5 0.4 -1.5 -0.6 -6 -5.5 -6 -1.3 -6.2 4.3 -5.8 54.3 -2.1 -6.3 -3.9 -21.6 -6 -22.0 -6 9.9 -6 -7.5 -1.9 6.6 -2.6 17.2 -1.2 2.3 -0.3 6.4 -1.5 -1.8 -0.3 -4.7 -1.2 -2.5 -0.5 -5.0 -2.5 -7.3 -8.6 53.8 -1.9 6.7 -1.5 0.4 -1.5 -1.6 -5.9 -50.5 -4.6 -7.6 -1.5 0.6 -3 9.0 -1.3 1.1 -0.2 4.6 -1.4 -6.1 -13.6 -0.3 -9 -6.7 -1.9 -3.5 0 -3.0 0.8 -1.5 5.8 -6.0 -0 -1.5 -2.4 -3.0 -1.2 -3.0 -0.3 -3.0 0.6 -3.0 1.6 -3.0 3 -3.2 3 -2.0 9 -3.8 1.5 -1.9 5.3 -29.6 2.2 -6.0 3 -3.4 1.5 0.2 3.3 3.2 2.4 6.0 2.5 12.0 2.3 21.1 1.5 -1.2 0.4 -1.9 2.6 -2.2 2.8 0.7 2.7 -9.0 3.6 -7.7 1.5 -1.3 3 -0.4 12.5 -23.6 4 -6.0 3 -2.8 4.5 1.0 6 4.1 3 0.9 3 -0.4 6 -3.8 10.5 -2.2 70.5 -1.7 19.5 1.0 22.5 -2.8 13.5 0.6 10.5 -2.3 12 2.7 19.5 -0.7 9 -1.6 7.5 -0.5 7.5 -2.7 3 -0.4 10.5 2.5 9 0.3 7.5 1.5 1.5 -0.4 1.3 -1.4 3.2 -5.6 1.5 -1.2 3 -0.6 3.1 1.4z" fill="#5dc8e1"/><path d="M466.5 3.5l4.5 0.9 3.4 3.1 3.6 9.0 0.2 16.5 -4.3 13.5 -6 7.0 -4.5 -1.7 -1.5 -1.4 -5.3 -20.5 -0.7 -1.2 -1.5 0.4 -0.9 -0.7 0.1 -7.5 3.1 -10.5 3.7 -4.9 3 -1.7zM522.0 5.3l1.5 0.3 2.1 3.4 1.7 6.0 1.3 10.5 0 4.5 -1.8 4.5 -1.9 2.0 -1.5 -1.6 -5.3 -0.4 -1.7 -4.5 0.2 -7.5 1.4 -9.0 2.1 -6.0zM420.1 25.5l1.3 12.0 0.5 21.0 -2.4 10.5 -5.5 34.6 -6 7.4 -8.1 -4.5 -5.4 -2.0 -4.5 -0.4 -6 14.5 -1.5 0.9 -4.5 -2.6 -6 5.0 -1.5 -2.1 -4.5 -14.9 -1.5 -2.5 -4.5 6.2 -1.5 0.5 -4.5 -5.9 -1.5 -0.8 -6 6.2 -4.5 1.4 -1.5 -0.8 -6 -9.1 -4.5 0.1 -7.5 8.9 -6 13.4 -6 -3.1 -6 -13.3 -6 6.8 -6 10.0 -6 -12.8 -1.5 2.2 -4.5 12.6 -1.5 -1.2 -10.5 -17.3 -6 2.9 -6 -4.0 -6 21.9 -1.5 0.7 -4.5 -3.7 -1.5 0.1 -4.5 3.8 -1.5 -1.1 -3.9 -7.1 -6.6 -15.2 -1.5 0.9 -6 16.3 -6 0.1 -4.5 -1.4 -1.5 -1.5 -6 -15.6 -6 1.1 -6 -1.6 -4.5 0.4 -1.5 -0.6 -6 -5.5 -6 -1.4 -6 3.6 -6 54.9 -2.1 -5.9 -3.9 -21.8 -6 -22.1 -6 9.9 -6 -7.4 -2 7.0 -2.5 16.7 -1.2 1.3 -0.3 3.2 -3 -5.1 -0.5 -5.7 -2.5 -6.2 -8.4 52.7 -1.8 7.5 -1.7 0.7 -1.5 -1.7 -1.8 -12.5 -4 -37.5 -4.7 -7.8 -1.5 0.5 -3 8.8 -16.5 -0.6 -9 -6.7 -1.7 -3.2 0.2 -2.8 3.4 -4.7 4.1 -3.6 3.1 -0.9 -2.7 -3.0 -1.5 -3.0 -0.1 -4.5 1.3 -3.0 4.4 -4.1 7.8 -3.4 2.8 -3.0 1.3 -4.5 2.5 -16.5 3.6 -10.0 1.5 -1.5 1.5 -0.2 1.5 1.1 2.4 4.7 2.8 12.0 2.3 19.7 1.5 0.4 1.9 -5.1 2.6 -2.8 1.5 0.2 2.9 2.6 0.1 1.2 2.4 -8.7 4.3 -9.0 3.8 -5.2 12 -22.7 3 -4.4 3 -2.8 4.5 1.0 6 3.7 3 0.4 3 -0.6 6 -3.9 10.5 -2.2 70.5 -1.6 19.5 1.0 22.5 -2.7 13.5 0.5 10.5 -2.0 12 2.3 19.5 -0.7 9 -1.6 7.5 -0.4 7.5 -2.5 3 -0.3 12 2.4 7.5 0.1 7.5 1.9 1.5 -0.2 1.5 -1.4 3.1 -5.8 1.4 -1.2 3 -0.7 1.5 0.3 1.5 1.7z" fill="#63c8dc"/><path d="M466.5 4.2l4.5 1.0 2.5 2.3 3.1 7.5 0.7 6.0 -0.3 16.5 -3 8.7 -6 7.2 -4.5 -1.7 -1.5 -1.4 -5.2 -20.3 -0.8 -1.4 -1.1 -0.1 -0 -9.0 2.7 -9.0 4.4 -5.2zM522.0 5.7l1.5 0.3 2.3 4.5 1.5 6.0 1.2 10.5 -1.1 6.0 -2.4 3.1 -1.5 -1.2 -4.9 -0.3 -1.9 -4.5 0.1 -6.0 1.6 -10.5 1.5 -4.5zM419.3 25.5l1.5 15.0 0.3 21.0 -1.7 7.5 -5.3 34.3 -6 7.3 -7.3 -4.1 -6.2 -2.2 -4.5 -0.5 -6 14.6 -1.5 0.9 -4.5 -2.6 -6 5.0 -1.5 -2.1 -4.5 -14.9 -1.5 -2.6 -4.5 6.3 -1.5 0.5 -4.5 -5.9 -1.5 -0.8 -6 6.2 -4.5 1.4 -1.5 -0.8 -6 -9.1 -4.5 0.1 -7.5 8.9 -6 13.4 -6 -3.1 -6 -13.3 -6 6.8 -6 10.0 -6 -12.8 -1.5 2.3 -4.5 12.6 -1.5 -1.2 -10.5 -17.3 -6 2.9 -6 -4.1 -6 21.9 -1.5 0.7 -4.5 -3.6 -1.5 0.1 -4.5 3.8 -1.5 -1.1 -3.7 -6.9 -6.8 -15.5 -1.5 0.9 -6 16.2 -6 0.1 -4.5 -1.4 -1.5 -1.5 -6 -15.6 -6 1.1 -6 -1.6 -4.5 0.4 -1.5 -0.6 -6 -5.5 -6 -1.4 -6 3.6 -0.5 1.3 -5.5 53.5 -2 -5.5 -4 -22.1 -6 -22.3 -6 9.8 -6 -7.3 -3.9 16.3 -0.6 7.0 -1.5 0.9 -3 -4.1 -2.2 -8.2 -0.8 -0.5 -8.5 53.0 -2 7.9 -1.8 -0.4 -1.5 -3.0 -5.5 -48.0 -4.8 -8.1 -1.5 0.5 -3 8.6 -12 -0.2 -6 -1.1 -7.4 -5.8 -1.6 -3.0 0 -2.2 3.8 -5.3 5.2 -3.8 2.6 -0.7 1.1 -1.5 -2.9 -3.0 -1.1 -3.0 0.2 -3.0 1.6 -3.0 3 -2.6 7.5 -3.5 2.5 -2.9 1.4 -4.5 3 -16.5 2.1 -5.4 1.5 -1.7 1.5 -0.2 1.5 1.2 2.6 6.1 1.6 7.5 2.7 21.0 0.6 0.4 0.2 -1.9 1.3 -1.6 2.1 -5.9 2.4 -2.6 1.5 0.2 2.3 2.3 0.7 3.2 1.2 -0.2 3.5 -10.5 15.2 -30.0 4.4 -7.5 4.3 -4.6 4.5 0.9 6 3.2 3 0.1 3 -0.8 6 -4.0 10.5 -2.3 70.5 -1.6 19.5 1.1 22.5 -2.7 15 0.3 9 -1.7 13.5 2.1 21 -1.0 6 -1.4 7.5 -0.4 10.5 -2.7 10.5 2.1 9 0.2 9 2.1 1.5 -1.2 4.5 -7.2 3 -0.6 1.5 0.6 1.5 2.0z" fill="#69c8d7"/><path d="M466.5 5.0l3 0.4 3.2 2.2 3.6 9.0 0.2 21.0 -0.9 4.5 -3 6.0 -4.6 5.2 -4.5 -1.7 -1.5 -1.4 -3.6 -15.6 -3 -7.5 0.3 -7.5 2.6 -9.0 3.8 -4.4zM522.0 6.1l1.5 0.3 2.1 4.1 1.5 6.0 1.1 10.5 -1 6.0 -2.2 2.8 -1.5 -1.1 -4.6 -0.2 -2 -4.5 1.4 -15.0 1.7 -6.0zM418.5 25.5l1.4 12.0 0.6 24.0 -6.5 41.4 -6 7.3 -6.5 -3.7 -7 -2.5 -4.5 -0.5 -6 14.6 -1.5 0.9 -4.5 -2.5 -6 4.9 -1.5 -2.0 -4.5 -14.9 -1.5 -2.6 -4.5 6.2 -1.5 0.5 -4.5 -5.9 -1.5 -0.8 -6 6.2 -4.5 1.4 -1.5 -0.8 -6 -9.1 -4.5 0.1 -7.5 8.9 -6 13.4 -6 -3.1 -6 -13.3 -6 6.8 -6 10.0 -6 -12.8 -1.5 2.3 -4.5 12.6 -1.5 -1.2 -10.5 -17.3 -6 2.9 -6 -4.1 -6 21.9 -1.5 0.6 -4.5 -3.6 -1.5 0.1 -4.5 3.8 -1.5 -1.1 -3.6 -6.6 -6.9 -15.7 -1.5 0.9 -6 16.2 -6 0.1 -4.5 -1.4 -1.5 -1.5 -6 -15.5 -6 1.1 -6 -1.6 -4.5 0.4 -7.5 -6.2 -6 -1.4 -6 3.5 -0.6 1.6 -0.6 10.5 -1 4.5 -3.8 38.2 -1.9 -5.2 -4.1 -22.3 -6 -22.4 -6 9.8 -6 -7.3 -2.2 7.7 -0.8 6.9 -1.1 2.1 -0.4 6.0 -4.4 -6.0 -1.8 -4.5 -1.3 -0.9 -8.5 53.4 -2 7.7 -1.5 -0.3 -1.7 -2.9 -5.8 -49.5 -2.6 -3.0 -2 -3.8 -1.5 0.5 -3 8.5 -12 -0.1 -6 -1.1 -7.1 -5.5 -1.7 -3.0 -0.2 -1.6 4.5 -6.2 4.5 -3.0 7 -2.7 -2.5 -1.7 -2.1 -2.8 -0.2 -4.5 2.3 -3.3 7.5 -4.1 3 -3.0 1.7 -4.6 2.8 -14.3 1.5 -4.0 1.5 -2.0 1.5 -0.3 1.5 1.4 1.8 4.2 1.7 7.5 2.5 18.9 1.5 0.3 3.8 -10.2 2.2 -2.3 1.5 0.2 1.6 2.0 1.4 3.7 1.1 0.8 0.8 3.0 2.8 -10.5 7.5 -15.0 4.3 -10.5 7.1 -13.5 4.9 -5.6 3 0.3 4.7 2.3 4.3 0.8 4.5 -1.0 6 -4.1 10.5 -2.4 70.5 -1.5 19.5 1.1 22.5 -2.8 15 0.3 9 -1.7 13.5 2.1 21 -1.0 6 -1.4 7.5 -0.4 10.5 -2.6 12 2.1 7.5 0.0 9 2.7 1.5 -1.1 4.5 -6.9 3 -0.7 2.4 2.1z" fill="#69c6ce"/><path d="M466.5 5.7l3 0.4 3.3 2.9 2.7 7.5 0.4 6.0 -0.6 19.5 -2.9 5.8 -4.5 5.2 -4.5 -1.7 -1.5 -1.4 -3.5 -15.4 -2.5 -7.5 0.2 -7.5 2.6 -9.0 3.1 -3.6zM522.0 6.5l1.5 0.3 1.5 2.8 2.1 8.4 0.7 12.0 -0.8 3.0 -2 2.6 -1.5 -1.0 -4.5 -0.3 -1.8 -4.3 1.4 -15.0 1.8 -6.0zM417.8 25.5l1.7 13.5 0.5 25.5 -6 38.1 -6 7.3 -6 -3.5 -7.5 -2.6 -4.5 -0.5 -6 14.6 -1.5 0.9 -4.5 -2.5 -6 4.9 -1.5 -2.0 -4.5 -14.9 -1.5 -2.6 -4.5 6.2 -1.5 0.5 -4.5 -5.9 -1.5 -0.8 -6 6.2 -4.5 1.4 -1.5 -0.8 -6 -9.1 -4.5 0.1 -7.5 8.9 -6 13.3 -6 -3.1 -6 -13.3 -6 6.8 -6 10.0 -6 -12.8 -1.5 2.3 -4.5 12.6 -1.5 -1.2 -10.5 -17.3 -6 2.9 -6 -4.0 -6 21.9 -1.5 0.7 -4.5 -3.6 -1.5 0.1 -4.5 3.8 -1.5 -1.1 -4.2 -7.9 -6.3 -14.5 -1.5 0.9 -6 16.3 -6 0.1 -4.5 -1.4 -1.5 -1.5 -6 -15.5 -6 1.1 -6 -1.6 -4.5 0.4 -7.5 -6.2 -6 -1.4 -6 3.5 -0.7 2.0 -0.6 10.5 -1 4.5 -3.7 37.8 -1.8 -4.8 -4.1 -22.5 -6 -22.6 -6 9.8 -6 -7.2 -2 6.5 -0.9 7.5 -1 1.5 -0.6 4.5 -3.3 -4.5 -2.7 -5.9 -0.4 1.4 -1.1 0.3 -8.6 53.7 -1.9 7.5 -1.5 -0.3 -1.6 -2.7 -5.7 -49.5 -2.6 -3.0 -2.1 -4.0 -1.5 0.5 -3 8.3 -12 -0.0 -6 -1.0 -6.7 -5.3 -1.8 -3.0 -0.1 -1.5 1.2 -2.0 4.5 -5.1 9 -4.1 3.4 -0.7 -4.9 -4.5 -0.6 -1.5 0.3 -3.0 2.5 -3.0 5.4 -3.0 3.1 -3.0 1.9 -4.5 3.1 -13.5 2.1 -4.1 1.5 -0.3 1.5 1.6 1.5 3.8 4.5 26.6 0.3 -2.2 1.2 -1.2 4.1 -10.8 1.9 -2.0 1.8 0.5 2 3.0 2.3 6.8 1.5 -0.6 2.6 -9.2 9.1 -18.0 6.4 -15.8 4.5 -7.5 3 -2.9 3 0.3 6 2.3 3 0.1 4.5 -1.3 6 -4.2 10.5 -2.5 70.5 -1.4 19.5 1.2 21 -2.9 15 0.3 10.5 -1.8 13.5 2.0 21 -1.1 6 -1.4 7.5 -0.4 10.5 -2.6 12 2.1 7.5 0.0 9 3.3 1.5 -1.1 4.5 -6.7 1.5 -0.7 3 0.8z" fill="#64c3c1"/><path d="M466.5 6.5l3 0.4 3 2.9 2.5 6.7 0.4 4.5 -0.6 21.0 -0.8 3.1 -6 7.7 -4.5 -1.7 -1.5 -1.4 -5.5 -22.8 0.3 -7.5 2.8 -9.0 2.5 -2.8zM522.0 6.9l1.5 0.3 1.5 3.0 1.9 7.8 0.7 12.0 -0.9 3.0 -1.8 2.4 -1.5 -0.9 -4.5 -0.5 -1.7 -5.5 1.5 -13.5 1.7 -5.9zM417.5 27.0l1.6 13.5 0.5 24.0 -5.6 37.8 -6 7.2 -6 -3.4 -7.5 -2.6 -4.5 -0.4 -6 14.6 -1.5 0.9 -4.5 -2.5 -6 4.9 -1.5 -2.1 -4.5 -14.9 -1.5 -2.6 -4.5 6.2 -1.5 0.5 -4.5 -5.9 -1.5 -0.8 -6 6.2 -4.5 1.4 -1.5 -0.8 -6 -9.1 -4.5 0.1 -7.5 8.9 -6 13.3 -6 -3.1 -6 -13.3 -6 6.9 -6 10.0 -6 -12.8 -1.5 2.3 -4.5 12.6 -1.5 -1.2 -10.5 -17.3 -6 3.0 -6 -4.0 -6 21.9 -1.5 0.7 -4.5 -3.7 -1.5 0.1 -4.5 3.8 -1.5 -1.1 -4.1 -7.7 -6.4 -14.7 -1.5 0.9 -6 16.3 -6 0.1 -4.5 -1.4 -1.5 -1.5 -6 -15.5 -6 1.1 -6 -1.6 -4.5 0.4 -1.5 -0.6 -6 -5.5 -6 -1.4 -6 3.5 -0.8 2.3 -0.5 10.5 -1 4.5 -3.7 37.2 -0.5 -2.7 -1.2 -1.5 -4.2 -22.5 -6.1 -23.0 -6 9.8 -6 -7.2 -2.2 6.9 -0.8 7.7 -1.2 1.3 -0.3 1.8 -3.3 -4.8 -2.7 -7.2 -0.3 4.2 -1.2 1.4 -1.6 7.6 -5.3 36.0 -3.6 17.9 -1.5 -0.4 -1.5 -2.5 -5.6 -49.5 -2.6 -3.0 -2.2 -4.3 -1.5 0.6 -1.5 5.4 -1.5 2.8 -12 0.1 -6 -1.0 -6.4 -5.1 -1.9 -3.0 0.9 -3.0 4.5 -5.2 4.5 -2.4 8.9 -2.9 0.2 -1.5 -3.1 -2.2 -1.4 -2.3 0.4 -3.0 1.2 -1.5 5.9 -3.9 3 -3.6 4.5 -15.4 1.5 -2.6 1.5 -0.4 1.5 1.8 1.1 3.1 4.4 24.0 0.5 0.1 5.8 -15.1 1.7 -1.7 1.5 0.3 2 3.0 2.5 7.4 1.3 1.6 0.2 2.2 1.8 -8.2 2.2 -6.0 9.4 -18.0 7.6 -18.8 1.5 -2.3 3 -2.6 3 -0.0 6 1.7 3 -0.2 4.5 -1.6 6 -4.3 12 -2.7 69 -1.2 19.5 1.2 21 -3.0 15 0.4 10.5 -1.8 13.5 2.1 9 -0.9 12 -0.2 6 -1.4 7.5 -0.4 10.5 -2.6 12 2.0 7.5 0.0 9 4.2 1.5 -1.1 4.5 -6.7 1.5 -0.7 3 0.8z" fill="#5fbfb2"/><path d="M466.5 7.2l3 0.5 3 3.4 1.9 5.4 0.5 6.0 -0.1 13.5 -1.2 9.0 -5.6 7.6 -4.3 -1.6 -1.7 -1.4 -0.7 -4.6 -1 -1.5 -0.2 -3.0 -1.3 -3.0 -0.5 -4.5 -0.9 -1.5 -0.4 -4.5 0.3 -7.5 2.2 -7.5 2.5 -3.5zM522.0 7.3l1.5 0.3 1.5 3.1 1.9 8.8 0.6 10.5 -0.9 3.0 -1.6 2.1 -6 -1.4 -1.4 -3.7 1 -13.5 1.8 -6.9zM417.0 27.5l1.8 14.5 0.5 22.5 -1.9 18.0 -3.3 19.4 -6 7.1 -6 -3.2 -7.5 -2.5 -4.5 -0.4 -6 14.6 -1.5 0.9 -4.5 -2.5 -6 5.0 -1.5 -2.1 -4.5 -14.9 -1.5 -2.6 -4.5 6.2 -1.5 0.4 -4.5 -5.9 -1.5 -0.8 -6 6.2 -4.5 1.4 -1.5 -0.8 -6 -9.1 -4.5 0.1 -7.5 8.9 -6 13.3 -6 -3.1 -6 -13.3 -6 6.9 -6 10.0 -6 -12.8 -1.5 2.2 -4.5 12.6 -1.5 -1.2 -10.5 -17.3 -6 3.0 -6 -4.0 -6 21.9 -1.5 0.7 -4.5 -3.7 -1.5 0.1 -4.5 3.8 -1.5 -1.1 -4.5 -8.4 -6 -14.0 -1.5 0.9 -6 16.3 -6 0.1 -4.5 -1.5 -1.5 -1.5 -6 -15.6 -6 1.1 -6 -1.6 -4.5 0.4 -1.5 -0.6 -6 -5.6 -6 -1.5 -6 3.5 -0.9 2.6 -0.5 10.5 -1 4.5 -3.6 36.2 -0.1 -1.7 -1.6 -1.5 -4.2 -22.5 -6.1 -23.3 -6 9.6 -6 -7.0 -2.3 7.2 -0.7 7.1 -1.5 1.2 -3.9 -6.8 -2.1 -8.6 -0.3 8.6 -1.3 3.0 -1.6 7.5 -5.2 36.0 -3.6 17.7 -1.5 -0.4 -1.5 -2.5 -3.3 -25.3 -2.2 -24.0 -2.6 -3.0 -2.4 -4.5 -1.5 0.6 -1.5 5.4 -1.5 2.7 -12 0.0 -6 -0.9 -6.1 -4.8 -2 -3.0 1.1 -3.0 4.1 -4.8 4.5 -2.5 9.8 -3.2 1.8 -1.5 -3.8 -3.0 -1 -3.0 0.8 -1.7 7.6 -7.3 5.9 -15.7 1.5 -0.4 1.5 2.1 3.7 17.0 0.8 10.2 0.3 -2.7 1.2 -0.9 5.3 -14.1 2.2 -2.9 1.5 0.3 1.7 2.6 3.6 9.0 0.6 3.2 1 -0.2 3.5 -13.0 9.9 -18.5 5.2 -13.5 3.1 -6.0 2.8 -2.6 1.5 -0.4 7.5 0.6 3 -0.4 4.5 -2.2 4.5 -3.6 6 -2.2 7.5 -1.3 69 -1.2 19.5 1.3 21 -3.2 15 0.4 10.5 -1.9 13.5 2.1 9 -1.0 10.5 0.0 7.5 -1.7 7.5 -0.3 10.5 -2.6 12 2.1 7.5 0.0 4.5 1.9 4.5 3.6 1.5 -1.1 4.5 -7.3 1.5 -0.7 1.5 -0.0 1.5 0.9z" fill="#5aba9c"/><path d="M466.5 8.0l3 0.6 2.7 3.4 1.6 4.5 0.6 6.0 -0 12.0 -1 9.0 -0.8 3.0 -3 4.5 -1.5 1.2 -3.7 -1.2 -2.3 -1.8 -0.6 -4.2 -1.1 -1.5 -0.5 -4.5 -0.9 -1.5 -0.4 -4.5 -0.9 -1.5 0.3 -12.0 1.7 -6.0 2.5 -4.1zM522.0 7.7l1.5 0.4 1.5 3.2 1.7 8.2 0.6 10.5 -2.3 4.9 -4.5 -0.6 -1.5 -0.9 -1.2 -3.4 1 -13.5 1.7 -6.3zM416.5 28.5l1.8 12.0 0.6 24.0 -0.4 8.6 -4.5 28.5 -6 6.9 -4.5 -2.6 -9 -2.8 -4.5 -0.4 -6 14.6 -1.5 0.9 -4.5 -2.5 -6 5.0 -1.5 -2.1 -4.5 -14.9 -1.5 -2.5 -4.5 6.2 -1.5 0.4 -4.5 -5.9 -1.5 -0.8 -6 6.2 -4.5 1.4 -1.5 -0.8 -6 -9.1 -4.5 0.1 -7.5 8.9 -6 13.3 -6 -3.1 -6 -13.3 -6 6.8 -6 9.9 -6 -12.8 -1.5 2.3 -4.5 12.5 -1.5 -1.2 -10.5 -17.3 -6 3.0 -6 -4.0 -6 21.9 -1.5 0.7 -4.5 -3.7 -1.5 0.1 -4.5 3.8 -1.5 -1.1 -3.9 -7.2 -6.6 -15.2 -1.5 0.9 -6 16.2 -6 0.1 -4.5 -1.5 -1.5 -1.5 -6 -15.6 -6 1.1 -6 -1.6 -4.5 0.4 -1.5 -0.6 -6 -5.6 -6 -1.5 -6 3.5 -0.8 1.4 -0.7 12.0 -1.1 4.5 -1.9 22.5 -1.6 10.7 -1.5 0.3 -4.3 -23.0 -6.2 -23.7 -2.4 2.7 -3.6 6.6 -6 -6.6 -2.5 7.5 -0.5 6.4 -1.3 -0.4 -1.7 -2.4 -2.7 -6.6 -1.2 -10.5 1.6 -10.5 3.1 -7.5 8.6 -15.0 7.4 -18.0 1.2 -1.7 3 -1.7 9 -0.4 3 -0.9 7.5 -5.8 6 -2.2 7.5 -1.4 69 -1.2 19.5 1.4 21 -3.3 15 0.4 10.5 -2.0 13.5 2.3 9 -1.2 10.5 0.1 7.5 -1.7 7.5 -0.3 10.5 -2.6 12 2.1 7.5 0.1 4.7 2.3 4.3 4.7 1.5 -1.0 4.5 -8.1 3 -0.7 1.5 1.0zM100.5 76.2l1.5 2.4 2.7 11.3 0.7 12.0 1.1 0.4 7 -18.4 2 -2.6 1.5 0.3 1.5 2.3 5.8 15.0 -0.3 15.0 -2.8 10.5 -5.2 36.0 -3.5 17.6 -2 -1.1 -1 -2.3 -3.3 -24.7 -2.1 -24.0 -0.6 -1.6 -2 -1.4 -2.5 -4.7 -1.5 0.5 -1.5 5.5 -1.5 2.5 -12 -0.0 -6 -0.8 -6 -4.7 -1.9 -2.8 2.3 -4.5 4.2 -4.0 16.3 -6.5 -3.1 -3.0 -1.1 -3.0 6 -7.5 5.9 -13.3z" fill="#55b586"/><path d="M466.5 8.7l1.9 0.3 2.1 1.5 2.8 6.0 0.6 16.5 -0.9 9.0 -2 6.0 -3 2.8 -3 0.2 -3 -2.4 -0.4 -3.6 -1.2 -1.5 -0.4 -4.5 -1 -1.5 -0.9 -6.0 0.1 -9.0 0.9 -5.8 1.9 -4.7 2.6 -2.7zM522.0 8.2l1.5 0.4 1.5 3.3 1.6 7.6 0.6 10.5 -2.1 4.7 -4.5 -0.5 -1.6 -1.1 -1 -3.0 1 -13.5 1.5 -5.8zM418.0 43.5l0.5 28.5 -4.5 29.3 -4.5 5.4 -1.5 0.8 -3 -6.1 -0.4 3.6 -1.1 0.3 -9 -2.4 -4.5 -0.4 -6 14.6 -1.5 0.9 -4.5 -2.5 -6 4.9 -1.5 -2.1 -4.4 -14.8 -1.6 -2.7 -4.5 6.2 -1.5 0.5 -4.5 -5.9 -1.5 -0.8 -6 6.2 -4.5 1.4 -1.5 -0.8 -6 -9.1 -4.5 0.1 -7.5 9.0 -6 13.3 -6 -3.2 -6 -13.3 -6 6.8 -6 10.0 -6 -12.8 -1.7 2.5 -4.3 12.3 -1.5 -1.2 -10.5 -17.4 -6 3.0 -6 -4.0 -6 21.9 -1.5 0.7 -4.5 -3.7 -1.5 0.1 -4.5 3.8 -1.5 -1.1 -3.8 -7.0 -6.7 -15.4 -1.5 0.9 -6 16.2 -6 0.1 -4.5 -1.5 -1.5 -1.5 -6 -15.6 -6 1.1 -6 -1.6 -4.5 0.4 -1.5 -0.6 -6 -5.6 -6 -1.5 -6 3.4 -1 1.7 -0.4 10.5 -1.2 6.0 -1.9 22.5 -1.5 9.8 -1.5 0.9 -4.3 -22.7 -6.2 -24.1 -1.5 1.7 -1.5 0.5 -3 6.2 -1.5 -0.2 -4.5 -5.4 -2.7 7.9 -0.3 5.1 -2.6 -3.6 -1.9 -4.5 -1.4 -10.5 1.8 -10.5 4.1 -8.8 6.8 -10.7 8.2 -20.1 1.5 -1.5 3 -1.2 7.5 -0.6 3 -0.9 9 -7.2 12 -2.9 69 -1.2 19.5 1.4 21 -3.4 15 0.4 10.5 -2.1 13.5 2.4 9 -1.2 10.5 0.1 7.5 -1.9 7.5 -0.3 10.5 -2.6 10.5 1.9 9 0.3 5 3.1 4 6.6 1.5 -1.7 4.5 -9.3 3 -0.8 1.5 1.5zM100.5 80.0l1.5 2.5 2.6 10.5 0.3 6.0 -0.6 4.5 0.7 3.9 0.6 -3.9 0.9 -0.7 7.2 -18.8 1.8 -2.3 1.5 0.3 1.5 2.4 5.4 14.5 -0.1 15.0 -2.7 10.5 -5.2 36.0 -3.5 17.4 -1.8 -0.9 -1.2 -2.9 -3.2 -24.1 -2 -24.0 -0.7 -2.1 -1.5 -0.4 -3 -5.4 -1.5 0.5 -1.5 5.5 -1.5 2.4 -16.5 -0.5 -3 -1.2 -4.5 -3.8 -1.7 -2.6 2.5 -4.5 3.7 -3.6 17.3 -6.9 -2.9 -4.5 -0.1 -1.5 5.7 -9.0 4 -8.2z" fill="#50b071"/><path d="M522.0 8.6l1.5 0.4 1.3 3.0 1.7 8.4 0.5 9.6 -2 4.4 -4.5 -0.5 -1.4 -1.0 -1 -3.0 0.9 -12.4 1.5 -6.3zM466.5 9.7l3 1.0 3 5.1 1 12.8 -0.4 9.0 -1.1 6.0 -2.6 5.0 -3 1.2 -3 -0.5 -1.5 -1.2 -0.3 -3.0 -1.3 -1.5 -0.4 -4.5 -1.1 -1.5 -0.5 -9.0 0.3 -9.0 1.7 -5.5 2.7 -3.5zM403.1 37.5l0.5 27.0 -0.4 39.0 -1.3 1.2 -7.5 -2.0 -4.5 -0.4 -6 14.6 -1.5 0.9 -4.5 -2.5 -6 4.9 -1.5 -2.1 -4.3 -14.5 -1.7 -2.9 -4.5 6.2 -1.5 0.5 -4.5 -5.9 -1.5 -0.8 -6 6.2 -4.5 1.4 -1.5 -0.8 -6 -9.1 -4.5 0.1 -7.5 9.0 -6 13.3 -6 -3.2 -6 -13.3 -6 6.8 -6 10.0 -6 -12.8 -1.8 2.7 -4.2 12.0 -1.5 -1.2 -10.5 -17.4 -6 3.0 -6 -4.0 -6 21.9 -1.5 0.7 -4.5 -3.7 -1.5 0.1 -4.5 3.8 -1.5 -1.1 -4.5 -8.4 -6 -13.9 -1.5 0.9 -6 16.2 -6 0.1 -4.5 -1.5 -1.5 -1.5 -6 -15.6 -6 1.1 -6 -1.6 -4.5 0.4 -1.5 -0.6 -6 -5.6 -6 -1.6 -6 3.3 -1.1 2.1 -0.3 10.5 -1.1 4.5 -2.1 24.0 -1.3 9.0 -1.5 1.5 -4.2 -22.4 -6.3 -25.0 -3 -0.7 -4.5 9.3 -4.5 -5.4 -1.5 5.4 -1.1 1.3 -0.4 4.2 -2.7 -4.2 -1.5 -4.5 -0.7 -9.0 1.8 -8.8 3 -6.4 7.5 -10.7 7.9 -20.6 4.1 -2.9 10.5 -1.8 9 -7.6 8.4 -2.7 3.6 -0.6 69 -1.3 19.5 1.5 21 -3.6 15 0.5 10.5 -2.1 13.5 2.5 9 -1.2 10.5 0.2 7.5 -2.1 7.5 -0.3 10.5 -2.6 12 2.1 7.5 0.1 4.5 3.1zM412.5 27.9l1.5 0.2 1.5 2.1 1.6 7.4 0.9 13.5 0.2 21.0 -4.2 29.0 -4.5 4.7 -0.8 -0.7 -1.4 -4.5 -1.6 -13.5 -0.2 -34.5 1.6 -15.0 3.8 -8.7zM115.5 82.0l1.5 0.3 1.5 2.6 5.1 14.1 0.1 15.0 -2.5 10.5 -4.9 34.5 -3.7 18.8 -1.6 -0.8 -1.4 -3.7 -3.2 -23.3 -1.9 -24.0 -0.9 -2.6 -1.5 -0.1 -3 -5.4 -1.5 0.5 -1.5 5.6 -1.5 2.3 -15 -0.3 -4.5 -1.3 -4.5 -3.9 -1.4 -2.3 2.6 -4.5 3.3 -3.2 18.1 -7.3 -2 -4.5 0.3 -3.0 7.6 -12.6 1.5 -0.2 1.5 2.4 1.5 4.9 0.8 6.9 -0.7 6.0 1.4 4.8 0.6 -3.3 8.4 -21.3z" fill="#5cb062"/><path d="M522.0 9.1l1.5 0.4 1.5 3.7 1.4 7.8 0.4 9.0 -1.8 4.1 -4.5 -0.3 -1.2 -0.8 -1 -3.0 0.8 -12.0 1.4 -6.1zM466.5 10.7l3 1.1 2.7 4.8 0.9 12.0 -0.4 9.0 -1.3 6.0 -1.9 3.5 -3 1.3 -3 -0.5 -1.5 -1.4 -0.1 -1.4 -1.4 -1.9 -0.3 -4.1 -0.9 -1.5 -0.4 -9.0 0.3 -9.0 1.2 -4.0 3 -4.1zM402.1 37.5l0.1 66.0 -3.2 0.3 -4.5 -1.4 -4.5 -0.4 -6 14.6 -1.5 0.9 -4.5 -2.5 -6 4.9 -1.5 -2.1 -4.2 -14.3 -1.8 -3.1 -4.5 6.2 -1.5 0.5 -4.5 -5.9 -1.5 -0.8 -6 6.2 -4.5 1.4 -1.5 -0.8 -6 -9.1 -4.5 0.1 -7.5 9.0 -6 13.3 -6 -3.2 -6 -13.2 -6 6.8 -6 10.0 -6 -12.8 -1.9 3.0 -4.1 11.8 -1.5 -1.2 -10.5 -17.4 -6 3.1 -6 -3.9 -6 21.9 -1.5 0.6 -4.5 -3.7 -1.5 0.1 -4.5 3.8 -1.5 -1.1 -4.5 -8.4 -6 -13.9 -1.5 0.9 -6 16.2 -6 0.1 -4.5 -1.5 -1.5 -1.5 -6 -15.5 -6 1.1 -6 -1.6 -4.5 0.4 -1.5 -0.6 -6 -5.6 -6 -1.6 -7 4.2 -0.5 12.1 -1.1 4.4 -3.4 32.0 -1.5 1.9 -9.2 -44.4 -2.8 -6.9 -1.5 -0.4 -1.5 2.3 -3 9.1 -1.5 -0.1 -3 -3.5 -3 8.8 -3 -6.3 -0.8 -8.9 1.5 -7.5 3.7 -7.6 5.4 -5.9 1.8 -3.0 5.7 -18.0 2 -3.6 4.5 -2.5 9 -1.3 3 -1.9 6 -6.2 10.5 -3.7 70.5 -1.5 19.5 1.7 21 -3.8 15 0.5 10.5 -2.2 12 2.6 10.5 -1.3 10.5 0.3 7.5 -2.3 7.5 -0.3 10.5 -2.6 12 2.2 7.5 0.1 4.2 3.3zM412.5 29.9l1.5 0.3 1.5 2.3 1.5 7.7 0.9 31.7 -0.8 10.5 -3 18.1 -3 3.4 -1.3 -0.5 -1.1 -3.0 -1.4 -9.0 -0.5 -36.0 1.2 -16.5 3.2 -8.0zM115.5 82.3l1.5 0.4 1.5 2.7 4.7 13.7 0.2 15.0 -2.4 10.5 -4.9 34.5 -3.6 18.6 -1.5 -0.7 -1.5 -4.3 -2.2 -19.5 -0.9 -3.0 -1.9 -24.0 -1 -3.2 -1.5 0.3 -3 -5.4 -1.5 0.5 -1.5 5.6 -1.5 2.2 -15 -0.4 -4.5 -1.1 -5 -4.4 -0.5 -1.5 2.4 -4.2 3.5 -3.3 13 -4.8 5.2 -2.7 0.1 -1.5 -1.3 -3.0 0.2 -3.0 6.3 -10.1 1.5 0.0 2.5 5.5 0.8 6.0 -0.8 6.0 2 5.9 0.9 -4.4 8.1 -20.9z" fill="#68b054"/><path d="M522.0 9.6l1.5 0.4 1.5 3.9 1.8 14.6 -0.5 3.0 -1.3 2.3 -3 0.2 -2.4 -1.0 -1.2 -4.5 1.2 -12.0zM466.5 11.8l3 1.2 2.1 3.6 1 12.0 -0.3 7.5 -1.3 6.6 -1.5 2.8 -3 1.5 -3 -0.6 -2.7 -4.4 -1.1 -6.0 -0.1 -15.0 1.1 -4.5 2.8 -4.1zM401.3 37.5l0.2 64.5 -0.9 1.7 -10.5 -1.9 -6 14.6 -1.5 0.9 -4.5 -2.5 -6 4.9 -1.5 -2.1 -4.1 -14.1 -1.9 -3.3 -4.5 6.2 -1.5 0.5 -4.5 -5.9 -1.5 -0.8 -6 6.2 -4.5 1.4 -1.5 -0.8 -6 -9.1 -4.5 0.1 -7.5 9.0 -6 13.3 -6 -3.2 -6 -13.2 -6 6.8 -6 9.9 -6 -12.8 -2 3.2 -4 11.6 -1.5 -1.2 -10.5 -17.4 -1.5 0.3 -4.5 2.8 -6 -3.9 -6 21.9 -1.5 0.7 -4.5 -3.7 -1.5 0.1 -4.5 3.8 -1.5 -1.1 -4.5 -8.4 -6 -14.0 -1.6 1.0 -5.9 16.1 -6 0.1 -4.5 -1.5 -1.5 -1.5 -4 -11.7 -2 -3.8 -6 1.1 -6 -1.6 -4.5 0.4 -1.5 -0.6 -6 -5.7 -6 -1.6 -4.5 1.8 -2.9 2.6 -0.3 12.0 -4.3 35.5 -1.5 2.3 -4.1 -21.3 -3.9 -15.0 -2.5 -15.1 -1.5 -3.3 -1.5 -1.5 -1.5 1.5 -3.9 14.0 -0.6 0.3 -3 -3.2 -1 1.3 -0.5 3.7 -1.5 1.3 -2.1 -5.0 -0.6 -6.0 1.2 -7.5 1.5 -3.7 3 -4.6 6 -4.1 5.5 -20.7 2 -4.2 4.5 -3.1 10.5 -0.7 7.5 -8.9 10.5 -4.4 70.5 -1.5 19.5 1.9 21 -4.0 15 0.5 10.5 -2.2 12 2.7 10.5 -1.4 10.5 0.4 7.5 -2.4 7.5 -0.2 10.5 -2.8 12 2.3 7.5 0.1 3.2 2.6zM412.5 32.0l1.5 0.3 1.5 2.6 1 5.5 0.9 12.0 0.2 19.5 -0.5 10.2 -1 3.3 -0.5 6.5 -1 2.5 -0.5 5.7 -3 3.3 -2.1 -6.0 -1.3 -9.0 -0.4 -31.5 1.3 -16.5 2.5 -7.2zM115.5 82.6l1.5 0.4 1.5 2.7 4 11.7 0.9 4.5 -0.2 12.0 -2.3 10.5 -4.9 34.5 -3.6 18.5 -2.1 -2.0 -0.9 -3.9 -4.7 -36.6 -0.3 -10.5 -1 -2.5 -1.5 0.8 -3 -5.4 -1.5 0.5 -1.5 5.6 -1.5 2.0 -13.5 -0.3 -6 -1.3 -4.7 -3.9 -0.2 -1.5 2.7 -4.5 3.5 -3.0 10.7 -3.8 7.3 -3.7 0.5 -1.5 -1.2 -3.0 0.2 -3.0 2.2 -4.5 3 -3.5 1.5 0.3 1.7 3.2 0.9 6.0 -0.7 6.0 1.6 3.0 1 4.8 1.1 -6.3 7.5 -19.5z" fill="#74b045"/><path d="M522.0 10.1l1.5 0.4 1.5 4.1 1.6 13.9 -0.5 3.0 -1.1 2.0 -3 0.4 -2.2 -0.9 -1.3 -4.5 1.3 -12.0zM466.5 12.9l3 1.3 1.5 2.4 1.1 11.9 -1.1 12.0 -1.5 3.3 -3 1.7 -3 -0.7 -1.9 -2.9 -1.2 -4.5 -0.5 -9.0 0.4 -9.0 1.1 -3.0 2.1 -2.9zM400.0 36.0l0.6 3.0 -0 63.0 -1.6 1.1 -9 -1.5 -6 14.6 -1.5 0.9 -4.5 -2.5 -6 4.9 -1.5 -2.1 -4 -13.9 -2 -3.5 -4.5 6.2 -1.5 0.5 -4.5 -5.9 -1.5 -0.8 -6 6.2 -4.5 1.4 -1.5 -0.8 -6 -9.1 -4.5 0.1 -7.5 9.0 -6 13.3 -6 -3.2 -6 -13.2 -6 6.9 -6 9.9 -6 -12.8 -2.2 3.4 -3.8 11.4 -1.5 -1.2 -10.5 -17.4 -1.5 0.2 -4.5 2.9 -6 -3.9 -6 21.9 -1.5 0.7 -4.5 -3.7 -1.5 0.1 -4.5 3.8 -1.5 -1.1 -4.5 -8.4 -6 -14.0 -1.7 1.3 -5.8 15.9 -6 0.1 -4.5 -1.5 -1.5 -1.5 -3.9 -11.5 -2.1 -4.1 -6 1.1 -6 -1.7 -4.5 0.4 -1.5 -0.6 -6 -5.7 -6 -2.2 -2 0.8 -2.5 -11.7 -3 6.8 -0.5 21.3 -4 34.5 -1.5 2.8 -1.9 -7.2 -2.2 -13.5 -3.9 -15.0 -2.6 -18.8 -2.5 -8.2 -0.2 -7.5 1.5 -10.5 2.7 -9.3 3 -3.1 4.5 -1.0 3.8 1.4 6.7 14.6 1.5 -5.8 2 -17.9 2.7 -3.0 4.2 -2.3 6 -1.9 69 -1.4 19.5 2.1 21 -4.4 15 0.6 10.5 -2.3 12 2.8 10.5 -1.5 9 0.5 3 -0.4 6 -2.3 7.5 -0.2 6 -2.1 4.5 -0.8 12 2.5 7.5 0.2 2.1 1.8zM271.5 72.4l-1.5 0.9 -0.4 6.2 0.4 7.4 1.5 1.0 0.6 -8.4zM412.5 34.3l1.5 0.4 2 5.9 1 11.4 0.2 15.6 -0.2 13.8 -0.9 2.7 -0.6 7.7 -1.2 2.8 -0.3 5.1 -1.5 2.4 -1.6 -1.5 -2.2 -9.0 -1 -24.0 1.1 -24.0 2 -7.5zM115.5 83.0l1.5 0.4 1.5 2.8 3.9 11.2 0.9 4.5 -0.1 9.0 -7.1 48.0 -3.6 18.3 -1.5 -1.1 -0.9 -2.2 -2.1 -13.0 -3.1 -26.0 -0.7 -13.5 -0.7 -0.4 -1.5 1.5 -3 -5.4 -1.5 0.5 -1.5 5.6 -1.5 1.9 -13.5 -0.4 -6 -1.3 -4.3 -3.5 -0.1 -1.5 2.7 -4.5 3.2 -2.6 12 -4.4 6.5 -3.5 1 -1.5 -1.2 -3.0 0.1 -3.0 1.3 -3.0 2.8 -3.1 1.5 0.5 1.5 3.3 0.4 3.8 -0.6 6.0 1.9 3.0 1.3 7.8 1.4 -9.3 7.4 -19.5zM138.0 85.5l1.4 1.5 0.7 3.0 -1.1 10.5 -1.2 4.5 -1.3 0.3 -1 -1.8 -0.9 0.0 -0.8 1.5 -0.2 3.1 -1.5 -1.5 -1.3 -4.6 0.4 -7.5 2.4 -6.3 3 -2.9z" fill="#86b73c"/><path d="M522.0 10.6l1.5 0.5 1.5 4.3 1.5 13.1 -1.5 4.7 -3 0.6 -2 -0.9 -1.3 -4.5 1.3 -12.0zM466.5 14.0l3 1.4 1.4 2.5 0.7 10.5 -0.3 7.5 -1.1 4.5 -2 3.0 -1.7 0.6 -3 -0.8 -1.5 -2.3 -1.2 -5.0 -0.4 -7.5 0.3 -7.5 0.8 -3.0 2 -3.2zM399.6 37.5l0.1 64.5 -2.2 0.6 -7.5 -1.2 -6 14.6 -1.5 0.9 -4.5 -2.4 -6 4.9 -1.6 -2.3 -3.8 -13.5 -2.2 -3.7 -4.5 6.2 -1.5 0.4 -4.5 -5.9 -1.5 -0.8 -6 6.1 -4.5 1.4 -1.5 -0.8 -6 -9.1 -4.5 0.2 -7.5 9.0 -6 13.3 -6 -3.2 -6 -13.2 -6 6.9 -6 9.9 -6 -12.8 -2.3 3.6 -3.7 11.1 -1.5 -1.3 -7.9 -14.4 -2.4 -3.0 -1.7 0.2 -4.5 2.9 -6 -3.9 -6 21.8 -1.5 0.7 -4.5 -3.7 -1.5 0.1 -4.5 3.8 -1.5 -1.1 -4.5 -8.4 -6 -14.0 -1.9 1.5 -5.6 15.7 -6 0.1 -4.5 -1.5 -1.5 -1.5 -3.7 -11.3 -2.3 -4.3 -6 1.0 -6 -1.6 -4.5 0.4 -1.5 -0.6 -6 -6.0 -3.2 -0.9 -1.9 -1.5 -0.3 -21.0 0.8 -25.5 2.7 -3.0 6.4 -3.2 70.5 -1.7 9 0.7 10.5 1.8 21 -4.9 15 0.6 10.5 -2.4 12 2.9 10.5 -1.5 10.5 0.6 7.5 -2.7 7.5 -0.1 6 -2.3 4.5 -0.8 12 2.7 7.5 0.3 2.3 2.4zM271.5 60.8l-1.5 0.3 -1.5 5.1 -0.9 13.2 0.9 14.3 1.5 5.2 1.5 0.4 1.6 -4.9 1 -13.5 -0.8 -13.5zM412.5 36.6l1.5 0.4 1.7 5.0 1.2 25.5 -0.2 13.5 -1.2 10.1 -1.1 1.9 -0.4 6.0 -1.5 0.7 -1.5 -1.9 -1.7 -7.8 -1 -22.5 0.9 -21.0 1.5 -7.5zM154.5 54.7l3 1.2 3.4 8.6 0.9 6.0 0.2 16.6 0.8 5.9 -0.1 16.5 -3.7 33.3 -1.5 3.1 -1.8 -6.4 -2.5 -15.0 -3.5 -13.5 -1.1 -13.0 -2.8 -18.5 0.5 -10.5 2 -9.0 3.2 -4.3zM115.5 83.4l1.5 0.4 1.5 2.9 4.1 12.3 0.3 15.0 -2.1 10.5 -4.8 34.5 -3.5 18.2 -1.5 -1.2 -0.7 -1.9 -3.8 -24.5 -0.6 -10.0 -1 -4.5 0.2 -19.5 1 -9.0 7.8 -21.0zM136.5 89.7l1.5 3.3 -0.2 6.0 -1.3 4.8 -1.5 -1.3 -1.3 1.0 -0.2 1.3 -1.4 -4.3 0.2 -4.5 1.1 -3.8 1.5 -2.1zM100.5 92.7l1.1 4.8 -1 4.5 2.8 4.5 0.8 4.5 0.3 6.0 -1.5 4.5 -1 0.8 -3 -5.3 -1.5 0.6 -1.5 5.7 -1.5 1.7 -16.5 -1.0 -3 -0.8 -3.7 -3.1 0.7 -3.2 3.8 -4.3 12.7 -5.0 8.8 -5.5 -1.5 -3.0 0.1 -3.0 1.6 -3.1 1.5 -1.1z" fill="#9dc236"/><path d="M522.0 11.3l1.5 0.5 1.5 4.6 1.3 12.2 -1.4 4.5 -3 0.8 -1.8 -0.8 -1.4 -4.5 1.3 -12.0zM466.5 15.2l1.5 0.3 2.1 2.4 0.9 10.5 -1.2 10.5 -1.8 3.0 -1.5 0.5 -3 -1.0 -1.3 -2.5 -1.1 -10.5 1 -10.2 1.5 -2.2zM398.8 37.5l-0.1 64.5 -8.7 -0.9 -6 14.6 -1.5 0.8 -4.5 -2.4 -6 4.9 -1.5 -2.1 -3.7 -13.5 -2.3 -4.0 -4.5 6.2 -1.5 0.4 -4.5 -5.9 -1.5 -0.7 -6 6.1 -4.5 1.4 -1.5 -0.9 -6 -9.1 -4.5 0.2 -7.6 9.3 -5.9 13.1 -6 -3.2 -6 -13.2 -6 6.9 -6 9.9 -6 -12.8 -2.4 3.8 -3.6 10.9 -1.5 -1.3 -6 -10.8 -0.8 -3.3 2.3 -9.0 0.8 -19.5 -1.1 -16.5 -1.2 -6.1 -1.5 -2.8 -1.5 0.2 -1.5 3.2 -2 13.0 -0.2 18.0 1.7 15.0 -1.2 1.5 -4.3 2.8 -6 -3.7 -6 21.8 -1.5 0.7 -4.5 -3.7 -1.5 0.1 -4.5 3.9 -1.5 -1.1 -4.5 -8.3 -6 -14.0 -2.1 1.7 -5.4 15.5 -6 0.1 -4.5 -1.5 -1.5 -1.5 -3.6 -11.0 -2.4 -4.5 -6 1.0 -6 -1.6 -4.5 0.4 -2.2 -1.2 -5.3 -5.5 -1.8 -0.5 -0.8 -1.5 0.3 -46.5 2.7 -3.0 4.1 -2.2 70.5 -1.8 10.3 1.0 9.2 2.1 9 -3.0 10.5 -2.4 6 -0.5 10.5 0.9 10.5 -2.5 3 0.3 9 2.8 10.5 -1.6 10.5 0.7 7.5 -2.9 7.5 -0.1 7.5 -2.9 3 -0.4 12 3.0 7.5 0.3zM412.5 39.2l1.5 0.5 1.5 4.8 1 22.9 -1 22.8 -1.3 2.7 -0.2 3.3 -1.5 0.5 -1.5 -2.3 -1.4 -7.6 -0.7 -19.5 0.9 -19.5 1.2 -6.6zM153.0 57.3l1.5 -0.0 1.5 1.2 2.6 6.0 1.9 15.0 1.1 1.5 0.8 12.0 0.1 16.5 -3.4 32.2 -1.5 3.4 -1.8 -5.6 -2.2 -13.5 -3.8 -15.0 -2.8 -31.5 0.1 -7.9 1.5 -8.2 1.5 -3.5zM115.5 83.7l1.5 0.5 1.5 3.0 3.9 11.8 0.3 15.0 -6.7 45.0 -3.5 18.0 -1.5 -1.4 -4.5 -26.6 -0.7 -11.0 -0.8 -3.0 0.3 -19.5 1 -9.0 7.7 -20.7zM99.0 94.2l1.5 1.8 0 3.0 -1.5 1.9 -1.5 -1.1 -0.5 -2.3 0.5 -2.0zM103.1 106.5l0.8 9.0 -0.8 4.5 -1.1 2.0 -3 -5.3 -1.5 0.5 -1.5 5.7 -1.5 1.5 -16.5 -1.2 -4.5 -1.7 -1.6 -1.6 0 -1.5 1.5 -2.9 3 -2.9 13.5 -5.4 7.5 -4.7 1.5 -0.3 1.5 0.7z" fill="#b4cc30"/><path d="M522.0 11.9l1.5 0.5 1.5 5.0 1.2 11.1 -1.4 4.5 -2.8 0.7 -1.5 -0.7 -0.9 -1.5 -0.5 -3.0 1.3 -12.0zM466.5 16.6l1.5 0.4 1.5 1.9 0.8 9.7 -0.8 8.7 -1.5 2.7 -1.5 0.7 -1.5 -0.1 -1.5 -1.1 -0.8 -1.9 -1 -9.0 0.7 -9.0 1.1 -1.9zM396.4 34.5l1.7 4.5 -0 61.5 -0.7 1.5 -7.5 -1.1 -2.2 4.1 -3.8 10.5 -1.5 0.8 -4.5 -2.4 -6 4.9 -1.5 -2.2 -3.6 -13.2 -2.4 -4.2 -4.5 6.2 -1.5 0.3 -4.5 -6.0 -1.5 -0.6 -6 6.1 -4.5 1.4 -1.5 -1.0 -6 -9.0 -4.5 0.2 -7.8 9.6 -5.7 12.9 -6 -3.2 -6 -13.2 -6 6.9 -6 9.8 -6 -12.7 -2.6 4.0 -1.9 6.5 -1 1.0 -0.5 3.2 -1.5 -1.3 -3 -5.1 -1.6 -4.3 1.9 -18.0 0.1 -21.0 -1.5 -18.0 -3 -10.5 8.6 -4.4 13.5 -3.1 13.5 1.0 10.5 -2.7 3 0.3 9 3.1 10.5 -1.8 10.5 1.0 7.5 -3.2 7.5 0.0 7.5 -3.0 3 -0.4 3 0.4 9 3.0zM269.7 43.5l0 1.5 -1.3 2.1 -1.5 5.4 -1.7 13.5 -0.4 16.5 0.9 21.0 -3.2 2.3 -6 -3.5 -5.3 17.7 -0.7 4.1 -1.5 0.7 -4.5 -3.8 -1.5 0.1 -4.5 4.0 -1.5 -1.2 -4.5 -8.3 -6 -14.0 -2.2 2.0 -5.3 15.3 -6 0.1 -4.5 -1.5 -1.5 -1.5 -3.4 -10.8 -2.6 -4.9 -6 1.1 -4.5 -1.4 -7.5 -0.3 -6.2 -6.4 -0.2 -46.5 1.1 -3.0 3.8 -2.6 72 -2.0 10.4 1.6zM412.5 42.4l1.5 0.6 1.5 6.3 0.6 18.1 -0.6 19.1 -1.5 6.4 -1.5 0.6 -1.5 -2.8 -0.8 -5.3 -0.7 -18.0 0.8 -18.0 0.7 -4.3zM153.0 60.7l1.5 0.7 1.8 3.1 1.4 6.0 1.1 1.5 0.2 3.0 1.1 1.5 1.6 7.5 0.3 28.5 -3 28.0 -1.5 3.8 -1.7 -4.8 -2.5 -15.0 -3.5 -13.5 -1.6 -22.5 0.3 -19.4 1.5 -5.4 1.5 -2.4zM115.5 84.1l1.5 0.5 1.5 3.1 3.7 11.3 0.3 15.0 -6.6 45.0 -3.5 17.7 -1.9 -2.7 -4.1 -25.5 -1.3 -13.5 0.3 -19.5 1 -9.0 7.5 -20.3zM102.8 106.5l0.7 7.5 -0.7 6.0 -0.8 1.8 -3 -5.2 -1.5 0.5 -1.5 5.7 -1.5 1.3 -15 -1.2 -4.8 -1.3 -1.6 -1.5 0.4 -3.0 3 -3.4 12 -4.9 7.5 -4.7 3 -0.9 3 1.8z" fill="#c9d62a"/><path d="M522.0 12.6l1.5 0.6 1 3.3 1.5 12.0 -1.4 4.5 -2.6 0.7 -1.4 -0.7 -0.9 -1.5 -0.5 -3.0 1.3 -11.8zM466.5 18.0l1.5 0.7 0.9 2.3 0.7 7.5 -1 7.5 -0.6 1.5 -1.5 0.9 -1.5 -0.1 -1.5 -1.6 -1 -8.1 1 -9.0zM396.0 35.2l1.4 3.8 -0 61.5 -1.3 0.7 -6 -0.5 -2.4 4.3 -4 10.5 -1.1 0.6 -4.5 -2.4 -6 5.0 -1.5 -2.2 -3.5 -12.9 -2.5 -4.4 -4.5 6.2 -1.5 0.2 -4.5 -6.0 -1.5 -0.5 -6 6.1 -4.5 1.4 -3 -3.1 -4.5 -7.0 -4.5 0.2 -8 9.9 -5.5 12.7 -6 -3.2 -3.7 -9.5 -2.3 -3.7 -6 6.9 -6 9.7 -6 -12.6 -2.2 2.7 -2.3 7.7 -1.2 1.3 -0.3 2.9 -1.5 -1.2 -3 -6.1 1.4 -13.5 0.3 -19.5 -0.7 -22.5 -1.4 -15.0 1.4 -1.5 7.2 -3.0 8.3 -2.1 4.5 -0.3 10.5 1.1 10.5 -2.8 3 0.3 9 3.3 10.5 -1.9 10.5 1.2 7.5 -3.5 7.5 0.1 7.5 -3.1 3 -0.5 3.9 0.6 9.6 3.4zM179.8 43.5l3.2 -1.7 69 -1.9 9 1.3 2.8 0.9 2 1.5 -2.2 27.0 0.8 33.0 -0.9 1.5 -2.4 0.1 -4.5 -3.0 -3.8 11.9 -0.7 4.4 -1 1.6 -0.5 3.8 -1.5 0.8 -4.5 -3.9 -1.5 0.1 -4.5 4.1 -1.5 -1.2 -4.5 -8.3 -6 -14.0 -2.4 2.2 -5.1 15.1 -6 0.1 -4.5 -1.5 -1.5 -1.5 -2.1 -7.6 -3.9 -8.3 -6 1.2 -4.5 -1.4 -7.5 -0.2 -3.1 -3.2 -1.3 -3.0 0 -46.5zM412.5 46.1l1.5 0.8 0.8 4.1 0.8 16.5 -0.7 16.5 -0.9 5.1 -1.5 0.8 -1.7 -5.9 -0.6 -16.5 0.7 -16.5zM153.0 65.6l3 2.7 2.3 3.7 3.1 12.0 0.3 28.5 -2.8 26.8 -1.5 4.1 -1.7 -3.9 -2.5 -15.0 -3.5 -13.5 -0.6 -6.0 -0.5 -24.0 0.9 -3.0 0.4 -8.0 1.5 -3.7zM115.5 84.5l1.5 0.5 1.5 3.2 3.6 10.8 0.3 15.0 -3.3 25.5 -6.5 36.9 -1.7 -2.4 -4.3 -26.5 -1.1 -12.5 0.3 -19.5 1 -9.0 7.3 -19.8zM102.5 106.5l0.7 6.0 -1.2 8.9 -3 -5.1 -1.6 0.7 -1.4 5.5 -1.5 1.0 -6 -1.3 -10.5 -0.7 -3.3 -1.6 -0.4 -1.5 0.5 -1.5 2.9 -3.0 9.3 -3.6 9 -5.9 3 -0.7 1.5 0.5z" fill="#d8dc24"/><path d="M522.0 13.4l1.5 0.6 2.4 14.5 -1.4 4.5 -2.4 0.6 -2.2 -2.1 -0.6 -3.0 0.4 -6.0zM466.5 20.8l1.5 1.9 0.4 5.8 -0.4 4.8 -1.5 1.9 -1.8 -0.7 -1.2 -6.0 0.8 -6.0 0.7 -1.5zM396.0 36.8l0.6 2.2 -0.2 61.5 -6.4 -0.3 -2.6 4.8 -3.4 9.7 -1.5 1.1 -4.5 -2.4 -6 4.9 -1.5 -2.2 -3.9 -14.1 -2.1 -3.2 -4.5 6.3 -1.5 0.2 -3.4 -4.8 -2.6 -2.2 -6 6.3 -4.5 1.3 -1.5 -0.8 -6 -8.9 -4.5 0.2 -8.1 10.1 -5.4 12.5 -6 -3.2 -3.6 -9.3 -2.4 -3.9 -6.1 6.9 -5.9 9.6 -6 -12.5 -2.5 2.9 -0.5 3.2 -1.3 1.3 -0.2 3.0 -1.4 1.5 -0.1 2.0 -0.7 -0.5 -1.2 -4.5 0.4 -24.0 -0.8 -48.0 1.6 -1.5 12.8 -4.4 6 -0.2 9 1.2 10.5 -3.0 3.2 0.4 8.8 3.7 10.5 -2.2 10.5 1.7 7.5 -4.1 7.5 0.2 7.5 -3.3 3 -0.5 4.5 0.9 9 3.7zM181.5 44.0l1.5 -0.6 24 -0.5 10.5 -1.3 9 0.6 9 -0.9 9 0.6 7.5 -0.9 6.7 1.1 3.5 1.5 0.7 1.5 -0.9 21.0 0.5 37.5 -1.4 0.9 -4.6 -2.4 -2.9 10.7 -0.9 1.3 -0.6 4.1 -1.1 1.9 -0.4 3.5 -1.5 0.6 -4.5 -3.8 -1.5 0.0 -4.5 4.2 -1.5 -1.2 -4.5 -8.4 -6 -13.9 -2.5 2.5 -5 14.6 -4.5 0.4 -5.4 -1.5 -2.1 -2.1 -0.2 -2.4 -1.3 -1.5 -0.2 -3.0 -1.3 -1.3 -0.4 -3.2 -2.6 -4.2 -6 1.3 -3 -1.3 -8.7 -0.3 -1.6 -1.5 -1 -3.0 -0.4 -21.0 0.4 -27.0zM412.5 50.9l1.6 1.6 0.8 15.0 -0.9 16.4 -1.5 1.2 -1.5 -7.2 -0.2 -10.5 0.2 -9.4zM154.5 68.3l1.5 0.9 1.9 2.8 3.2 10.5 0.5 30.0 -2.6 25.5 -1.5 4.5 -1.6 -3.0 -2.5 -15.0 -3.5 -13.5 -1 -18.0 0.1 -12.0 3.1 -10.5zM115.5 84.9l1.5 0.5 4.9 13.5 0.3 15.0 -3.2 25.5 -6.5 36.6 -1.5 -2.1 -4.5 -27.6 -0.9 -11.4 0.3 -19.5 1 -9.0 7.1 -19.4zM102.2 106.5l0.8 4.5 -0.9 9.4 -1.5 -1.1 -1.5 -3.1 -1.8 0.9 -1.2 5.3 -1.5 0.8 -7.5 -2.4 -8 -0.7 -2.2 -1.5 0.3 -1.5 1.5 -1.5 8.4 -3.7 9 -7.0 3 -0.7 1.5 0.5z" fill="#e8e21e"/><path d="M522.0 14.3l1.5 0.6 1.2 4.6 1 9.0 -1.4 4.5 -2.3 0.5 -2 -2.0 -0.6 -3.0 0.4 -6.0zM392.1 39.0l1.5 28.5 -1.5 30.0 -0.5 1.5 -1.7 0.2 -1 1.3 -2 6.2 -1.1 1.3 -0.4 3.0 -1.2 1.5 -0.3 1.8 -1.3 1.2 -4.7 -2.3 -6 4.7 -1.5 -2.0 -0.4 -3.3 -1.2 -1.5 -2.1 -9.0 -2.4 -3.7 -4.5 6.2 -1.5 0.5 -4.5 -6.7 -1.2 -0.8 -1.8 -6.8 -1.5 -1.2 -4.5 9.3 -1.5 1.9 -3 1.8 -1.5 -1.1 -4.5 -6.2 -4.5 0.8 -8.3 10.4 -5.2 12.2 -6 -3.2 -1.9 -6.1 -4.1 -7.1 -6.4 7.1 -5.6 9.3 -6 -12.7 -2.8 3.4 -0.2 2.4 -1.5 0.6 -1.6 -22.6 -0.5 -30.0 0.4 -15.0 0.5 -1.5 1.9 -1.5 9.9 -3.6 6 -0.2 9 1.4 10.5 -3.3 4.5 0.9 7.5 3.8 10.5 -2.6 10.5 2.8 7.5 -5.3 7.5 0.4 6.5 -3.2 4 -0.8 4.5 1.0zM189.9 52.5l6.6 -3.4 10.5 -0.8 2.9 -3.2 6.1 -1.8 4.5 0.0 6 1.3 9 -1.9 9 1.2 7.5 -1.5 4.5 1.0 1.5 1.2 1 5.1 1.1 16.5 0.4 36.0 -1 1.2 -3 -1.7 -1.5 5.5 -0.9 1.1 -0.6 4.5 -1.1 1.5 -0.5 3.8 -1.2 2.2 -0.3 3.3 -1.5 0.3 -4.5 -3.6 -1.5 0.0 -4.5 3.8 -1.5 -0.8 -7.5 -15.1 -1.9 -6.0 -1.1 -1.2 -2.7 2.7 -4.8 14.0 -6 -0.2 -3.8 -1.9 -4 -18.0 -1.6 -1.5 -7.1 -1.1 -6 -3.0 -4.5 -5.0 -2.9 -6.0 -0.6 -9.0 0.6 -8.9 3 -6.1zM412.5 59.6l1.4 7.9 -0.2 4.5 -1.2 4.4zM154.5 69.1l1.5 0.4 2.3 4.0 2.6 9.0 0.4 4.5 0.1 25.5 -2.5 24.1 -1.5 5.3 -1.6 -2.4 -2.4 -15.0 -3.5 -13.5 -1 -18.0 0.2 -12.0 2.7 -9.0zM115.5 85.4l1.5 0.6 4.7 13.0 0.3 15.0 -3 25.5 -6.5 36.4 -1.5 -2.6 -4.5 -27.9 -0.8 -10.4 0.3 -19.5 1 -9.0 6.9 -18.8zM99.0 104.5l1.5 0.5 1.8 3.0 -0.3 10.9 -1.5 0.1 -1.5 -3.1 -1.5 0.5 -1.1 2.0 -0.4 3.5 -1.5 0.3 -5.7 -3.8 -0.8 -3.0 1.1 -3.0 3.5 -4.5 3.4 -2.7z" fill="#f1d51d"/><path d="M522.0 15.3l1.5 0.8 1.1 3.4 1 9.0 -1.5 4.5 -2.1 0.4 -1.8 -1.9 -0.6 -3.0 0.4 -6.0zM376.5 32.8l5.8 1.7 5.9 4.5 1.6 18.0 -0.2 24.0 -2 19.5 -3.7 13.1 -1.5 1.3 -4.5 -2.0 -6 4.5 -1.5 -1.8 -0.2 -3.1 -1.3 -1.7 -1.9 -8.8 -2.6 -4.1 -4.5 5.6 -1.5 -0.8 -2.5 -5.2 -3 -15.0 -1.4 -15.0 -0 -10.5 1.6 -15.0 2 -3.0 3.3 -2.4 7.5 0.6 6 -3.2zM344.9 40.5l1.9 1.5 2.2 12.0 0.2 10.5 -2.1 15.0 -3.7 9.5 -1.5 1.7 -3 0.7 -6 -5.9 -1.5 1.5 -1.5 7.5 -8.4 12.0 -5.1 12.0 -6 -4.0 -1.7 -5.0 -4.3 -7.3 -6.7 7.3 -5.3 8.8 -4.5 -9.2 -0.7 -2.7 -0.8 -1.0 -1.5 1.6 -0.8 -0.7 -1.8 -10.5 -1 -13.5 -0.2 -16.5 0.9 -15.0 1.5 -7.5 4.5 -2.8 4.5 -1.5 6 -0.3 9 1.7 10.5 -3.7 4.5 1.0 7.5 5.0 1.5 0.1 7.5 -3.7 3 0.0zM192.6 58.5l5.4 -2.8 10.5 0.8 2.7 -2.5 3.3 -5.2 3 -2.4 1.5 0.2 1.7 1.4 5.8 10.6 1.5 -0.9 4.5 -10.1 3 -2.7 1.5 0.1 1.5 1.2 4.5 8.4 1.5 1.2 5.9 -10.9 3.1 0.0 3 7.3 1.7 10.6 1 16.5 -0.1 18.0 -0.6 4.5 -2 -0.9 -0.7 0.9 -0.8 4.5 -1.1 1.5 -0.5 4.1 -1.2 1.9 -0.3 3.4 -1.1 1.1 -0.4 4.5 -1.5 0.1 -1.4 -1.6 -3.1 -7.5 -1.5 0.2 -4.5 7.6 -1.5 0.1 -4.5 -7.7 -3.3 -9.2 -2.7 -4.5 -2.4 1.5 -0.6 3.3 -1.1 1.2 -0.4 3.1 -1.3 1.4 -0.2 2.8 -1.4 1.7 -0.1 1.4 -3 -0.4 -1.5 -1.8 -2.1 -5.2 -3.9 -17.7 -1.5 -2.7 -1.5 -0.8 -7.5 0.0 -3 -1.1 -3.9 -3.2 -2.7 -4.5 -1.4 -6.0 0.5 -6.0 1.6 -4.5zM154.5 69.4l1.5 0.4 2.1 3.7 2.6 9.0 0.5 4.5 0.1 25.5 -2.5 24.0 -1.3 4.8 -1.5 -1.5 -2.5 -15.2 -3.4 -13.5 -1 -18.0 0.3 -12.0 2.7 -9.0zM115.5 85.9l1.5 0.6 4.5 12.5 0.3 15.0 -2.9 25.5 -6.4 36.1 -1.5 -3.3 -4.5 -28.1 -0.6 -9.2 0.7 -25.5 1.1 -4.5 6.2 -16.8zM99.0 104.9l1.5 0.7 1.5 2.4 0.3 4.5 -0.7 6.0 -1.1 0.4 -1.5 -3.1 -1.5 0.5 -1.2 2.2 -0.3 3.2 -1.5 -0.2 -3 -3.1 -0.7 -3.0 0.2 -3.0 1.3 -3.0 2.7 -3.0z" fill="#f5bf1f"/><path d="M522.0 16.5l1.5 1.1 0.9 1.9 1 9.0 -1.5 4.5 -1.9 0.4 -1.7 -1.9 -0.7 -3.0 0.5 -6.0zM376.5 33.5l3 0.5 3.7 1.9 3 3.0 1.9 19.5 -0.2 21.0 -1.9 18.0 -3.8 15.0 -1.2 1.0 -3 -0.8 -1.5 0.5 -4.5 3.1 -1.5 -2.2 -0.4 -3.1 -1.1 -1.4 -0.2 -3.1 -1.3 -2.0 -0.1 -2.5 -2.9 -5.3 -4.5 1.2 -1.5 -1.1 -2.3 -5.3 -2.8 -18.0 -0.2 -18.0 1.4 -13.5 1.8 -3.0 3.6 -1.9 6 1.3 6.4 -3.9zM343.5 41.4l1.5 2.1 1.1 4.5 1.1 15.0 -1.6 13.5 -3.1 7.5 -2 1.6 -1.5 -0.1 -1.5 -1.1 -2.1 -3.3 -3.9 -10.1 -1.5 6.7 -2.1 18.4 -1.2 3.0 -5.3 7.5 -4.9 11.0 -3 -2.0 -4.5 -8.0 -1.5 -1.0 -0.3 -1.5 -2.7 -3.0 -7.1 7.5 -0.4 1.6 -3 3.8 -1.5 -0.3 -3 -3.6 -3.5 -7.6 -3 -16.5 -0.6 -12.0 0.3 -13.5 1.2 -10.5 2 -7.5 3.5 -2.3 4.5 -1.3 4.5 0.0 9 2.1 9 -4.1 4.5 0.2 4.1 2.4 2.6 3.0 2.2 11.4 1.5 0.9 3.2 -12.4 1.3 -1.5 3.1 -1.4zM193.5 62.3l3 -2.3 3 -0.8 3 0.3 6 2.1 1.5 -0.5 6 -7.5 1.5 -0.8 1.5 0.3 1.5 1.5 1.9 3.8 4.1 13.2 1.5 -1.6 3.8 -13.1 2.9 -4.5 2.3 -0.4 1.5 1.5 4.5 11.6 1.5 2.2 6 -14.9 1.5 -0.8 1.5 1.0 2.2 5.8 1.7 10.5 0.7 13.5 -0.6 18.0 -2 1.5 -0.6 4.5 -1.2 1.5 -0.3 3.6 -1.3 2.4 -0.2 3.1 -1.4 1.4 -0.1 1.0 -2 -4.0 -4 -13.1 -1.5 1.2 -4.5 10.8 -1.5 1.5 -1.5 0.2 -1.5 -1.1 -2.7 -5.5 -3.3 -13.0 -1.5 -2.8 -6 15.4 -1.5 1.4 -1.5 0.2 -1.5 -1.1 -2.8 -6.1 -3.2 -15.3 -1.5 -3.5 -1.5 -1.0 -6 1.0 -4.5 -0.8 -3 -2.3 -2.3 -3.7 -1.1 -4.5 0.2 -4.5 0.9 -3.0zM154.5 69.7l1.5 0.4 1.9 3.4 2.6 9.0 0.5 4.5 0.1 25.5 -2.3 22.5 -1.4 5.6 -1.5 -1.1 -2.4 -15.0 -3.3 -13.5 -0.9 -16.5 0.1 -12.0 3.1 -10.5zM115.5 86.4l1.5 0.6 4.5 12.7 0 20.2 -1 3.0 -1.6 16.5 -3.1 19.5 -3.3 16.1 -1.5 -4.0 -4.5 -28.1 -0.1 -27.5 1.5 -10.5 6.1 -16.2zM99.0 105.4l1.8 1.1 1.1 3.0 -0.5 7.5 -0.9 1.7 -1.5 -3.2 -2.5 1.5 -0.5 4.4 -2.8 -2.9 -0.8 -6.0 1.8 -4.5 1.8 -1.7z" fill="#f6a620"/><path d="M522.0 17.1l2.2 2.4 1 9.0 -1.5 4.5 -1.8 0.3 -1.5 -1.8 -0.7 -3.0 0.5 -6.0zM376.5 34.2l5.2 1.8 1.8 1.5 1.6 3.0 1.5 15.0 0.2 16.5 -1.1 16.5 -2.8 15.0 -3.5 8.3 -1.5 0.1 -3 1.8 -1.5 -0.4 -3 -5.1 -4.5 -15.3 -1.5 -2.0 -4.5 2.7 -1.5 -1.1 -1.5 -3.1 -2.4 -12.9 -0.6 -16.5 0.9 -13.5 0.8 -4.5 1.3 -2.4 3 -1.6 6 2.0 6 -4.5zM292.5 41.2l6 -0.3 9 3.9 7.5 -5.5 4.5 -0.7 4.3 2.0 2.4 3.0 1.7 10.5 0.8 12.0 -1.2 22.5 -1.7 10.5 -4.6 7.5 -3.3 7.7 -1.5 0.1 -1.5 -1.6 -6 -11.7 -1.5 -0.9 -1.5 1.0 -1.5 -0.0 -9 10.1 -3 -1.4 -1.5 -1.6 -3.8 -7.6 -1.9 -7.5 -1.3 -10.5 0.1 -21.0 1.3 -9.0 2 -7.5 2.1 -2.5zM340.5 41.9l2.2 1.6 1.7 4.5 1.4 13.5 -0.5 7.5 -1.2 6.0 -2 4.5 -1.7 1.4 -1.5 -0.2 -1.5 -1.5 -1.9 -4.3 -1.6 -7.5 -0.3 -6.0 0.5 -7.5 1.8 -8.0 1.5 -2.9zM217.5 58.0l1.5 0.5 1.5 1.9 1.7 4.2 1.8 9.0 0.5 9.0 -0.5 7.5 -1.8 9.0 -1.7 4.3 -1.5 1.8 -1.5 0.2 -1.5 -1.3 -1.5 -3.2 -3.7 -16.7 -1.9 -4.5 -1.9 -0.5 -4.5 2.3 -4.5 0.0 -3.9 -3.3 -1.7 -6.0 1 -4.8 3 -3.7 4.5 -1.1 3 1.1 4.5 3.2 1.5 -0.2 4.8 -6.6zM235.5 57.4l1.5 0.3 1.5 1.8 1.9 5.0 3.3 19.5 -1.3 10.5 -2 9.0 -2 5.1 -1.5 1.8 -1.5 0.2 -2.2 -2.6 -2.1 -6.0 -1.4 -7.5 -0.8 -10.5 0.7 -10.5 1.4 -7.5 2.1 -6.0zM252.0 57.5l1.5 1.2 2.2 7.3 1.5 19.5 -0.6 13.5 -1.4 3.0 -0.3 3.6 -1.3 2.4 -0.2 3.2 -1.3 1.3 -0.2 2.0 -1.5 -1.0 -2.5 -7.0 -3.1 -21.0 0.4 -6.0 2.8 -15.0 2.3 -6.0zM154.5 70.0l1.5 0.4 1.7 3.1 2.6 9.0 0.6 4.5 0.1 25.5 -2.3 22.5 -1.2 4.9 -1.5 -0.8 -2.3 -14.7 -3.2 -13.5 -1 -16.5 0.1 -12.0 3.2 -10.5zM115.5 86.9l1.5 0.7 4.4 12.9 0.1 12.9 -2.6 26.1 -4.7 28.5 -1.3 3.0 -0.4 3.5 -1.5 -4.8 -4.4 -27.2 -0 -25.5 1.4 -11.5 6 -16.1zM99.0 106.0l1.5 0.9 0.9 2.6 -0.9 8.7 -0.9 -2.7 -2.1 0.4 -1.2 1.1 -0.3 3.3 -2 -3.3 -0.3 -6.0 2.3 -3.9z" fill="#f28a20"/><path d="M522.0 17.6l2.1 1.9 1.1 9.0 -0.5 3.0 -1 1.5 -1.6 0.2 -1.4 -1.7 -0.7 -3.0 0.5 -6.0zM376.5 35.0l4.5 1.6 2.4 2.4 2 13.5 0.6 15.0 -0.8 16.5 -2.1 13.5 -3.1 9.0 -1.9 2.7 -1.5 0.8 -1.5 -0.2 -1.5 -1.2 -2.2 -3.7 -5.3 -19.1 -1.5 -0.9 -3 4.2 -1.5 0.8 -1.7 -1.5 -2.5 -9.0 -1.2 -16.5 0.8 -13.5 2.1 -9.0 2.5 -1.5 1.5 0.5 4.5 5.3 1.8 -4.3 2.6 -3.0 3.1 -1.9zM292.5 42.4l4.5 -0.7 4.5 1.6 4.5 6.8 1.5 0.8 1.5 -1.8 2.1 -5.6 3.9 -3.4 3 -0.9 3 0.6 3 2.3 0.9 1.5 1.6 9.0 1 12.0 -0.8 22.5 -2.4 13.5 -4.8 9.7 -1.5 0.7 -3 -2.6 -6 -13.5 -1.5 -1.0 -1.5 1.4 -4.7 8.3 -4.3 3.6 -3 -0.4 -1.5 -1.1 -3.9 -6.5 -1.8 -6.0 -1.5 -9.0 -0.4 -18.0 1 -9.0 1.8 -7.5 1.8 -4.5zM340.5 45.3l1.5 1.5 1.5 4.0 1.1 10.7 -1.1 9.7 -1.5 4.0 -1.5 1.5 -1.5 -0.2 -1.9 -3.0 -1.5 -6.0 -0.4 -6.0 0.3 -6.0 1.3 -6.0 2.2 -3.9zM217.5 62.4l1.5 0.7 2.1 4.4 1.3 6.0 0.5 7.5 -1.4 13.5 -2.5 5.5 -1.5 0.3 -1.5 -1.7 -1.5 -4.2 -3.1 -19.4 0.6 -4.5 1.2 -3.0 2.8 -4.4zM235.5 62.3l1.5 0.3 1.3 1.9 1.5 4.5 1.7 15.0 -0.4 7.5 -1.3 7.5 -1.5 4.5 -1.3 1.9 -1.5 0.3 -1.5 -1.6 -1.8 -5.1 -1.6 -15.0 1.6 -15.0 1.8 -5.1zM252.0 62.7l1.5 1.5 1.5 5.2 1.3 16.1 -1.3 17.2 -1.5 5.1 -1.5 1.5 -1.5 -1.2 -1.9 -6.1 -1.6 -16.5 1.7 -16.5 1.7 -5.1zM199.5 65.7l2.2 0.3 2.1 1.5 1.9 4.5 -1.8 4.5 -3 1.8 -3 -0.5 -1.5 -1.3 -1.3 -3.0 0.5 -4.5 0.9 -1.6zM154.5 70.3l1.5 0.4 1.5 2.8 2.7 9.0 0.6 4.5 0 25.5 -2.3 22.5 -1 4.3 -1.5 -0.5 -2.3 -14.3 -3.1 -13.5 -1 -16.5 0.1 -12.0 2.7 -9.0zM115.5 87.5l1.5 0.7 3.8 10.7 0.6 4.5 -0.2 9.0 -2.4 27.0 -4.7 28.5 -1.4 3.0 -0.3 3.0 -5.9 -33.0 0.2 -24.0 1.2 -10.8 6 -16.2zM99.0 106.6l1.5 1.2 0.4 1.7 -0.4 7.1 -0.2 -1.1 -1.3 -0.7 -2.9 2.2 -0.1 1.6 -1.1 -3.1 -0.3 -4.5 1.2 -3.0z" fill="#ee6e20"/><path d="M522.0 18.1l1.9 1.4 1.1 9.0 -0.5 3.0 -1 1.4 -1.5 0.2 -1.2 -1.6 -0.7 -3.0 0.5 -6.0zM376.5 35.8l4.3 1.7 1.9 3.0 1.9 13.5 0.5 13.5 -0.6 13.5 -2 13.3 -3 8.9 -3 3.0 -1.5 -0.2 -1.5 -1.3 -2.2 -4.2 -5.3 -22.1 -1.5 0.8 -3 6.6 -1.5 1.0 -1.5 -1.1 -2.4 -9.2 -0.8 -13.5 0.9 -13.5 0.9 -5.0 1.5 -3.5 1.5 -0.7 2.1 1.7 3.9 9.9 4.2 -12.9 3.3 -2.6zM293.7 43.5l3.3 -0.3 3 1.5 6 11.4 1.5 1.5 1.5 -2.1 3.7 -12.0 1.2 -1.5 2.6 -1.6 3 -0.2 3 1.6 1.2 1.7 2.6 16.5 0 21.0 -2.7 18.0 -2.6 6.5 -1.5 1.6 -1.5 0.3 -3 -2.8 -6 -16.0 -1.5 -1.3 -5.9 11.8 -3.1 3.8 -3 0.9 -1.5 -0.6 -2.5 -2.6 -2 -3.8 -2 -6.7 -1.2 -7.5 -0.2 -16.5 0.9 -7.5 1.9 -7.5 2.1 -4.8zM340.5 49.8l2 4.2 0.7 7.5 -1 7.5 -1.8 3.2 -1.5 -0.3 -1.4 -2.9 -1 -7.5 0.9 -8.2 1.5 -3.2zM217.5 66.9l1.5 1.0 1.5 3.8 1 9.3 -1 10.3 -1.5 3.5 -1.5 0.4 -1.5 -2.2 -1.2 -4.5 -1.3 -12.0 1 -6.0 1.4 -2.7zM235.5 67.1l1.5 0.4 1.5 3.1 1.6 13.3 -1.6 13.4 -1.5 3.1 -1.5 0.4 -1.5 -2.1 -1.2 -4.2 -0.9 -10.5 0.9 -10.5 1.2 -4.3zM252.0 67.8l1.5 2.0 0.8 3.7 1 12.0 -0.8 12.0 -1 4.7 -1.5 2.0 -1.5 -1.6 -1.3 -5.1 -0.9 -12.0 1.1 -12.0 1.1 -4.1zM154.5 70.6l1.5 0.5 1.5 2.9 3.1 13.0 -0 25.5 -3.1 26.1 -1.5 -0.2 -2.2 -14.0 -2.3 -9.0 -1.7 -19.5 0.1 -13.5 2.7 -9.0zM115.5 88.2l1.5 0.8 3.9 11.5 -0.1 18.0 -2 21.0 -4.7 28.5 -1.1 1.5 -0.5 3.5 -5.7 -32.0 0.3 -22.5 1 -11.3zM99.0 107.5l1.4 2.0 -0.2 4.5 -2.7 1.2 -1.5 -0.4 -0 -5.3 1.5 -1.8z" fill="#ea5220"/><path d="M522.0 18.4l1.5 0.7 0.7 1.9 0.7 7.5 -0.5 3.0 -0.9 1.2 -1.5 0.3 -1.8 -4.6 0.5 -6.0zM376.5 36.7l3 1.0 2 2.8 2 12.0 0.7 15.0 -0.7 13.5 -1.6 10.5 -2.5 7.9 -3 3.3 -1.5 -0.2 -1.5 -1.4 -3 -7.3 -2.4 -12.7 -1.7 -16.5 4.2 -24.0 2.8 -3.0zM318.0 41.0l3 0.8 1.5 1.7 1.9 7.5 1.2 10.5 -0.2 21.0 -1.1 9.0 -1.8 7.2 -3 5.1 -1.5 0.4 -2.4 -2.2 -2.6 -6.0 -3.9 -15.7 -1.5 -3.2 -6 18.3 -3 4.1 -3 1.0 -3 -2.0 -1.5 -2.4 -2.2 -6.0 -1.4 -7.5 -0.3 -16.5 1.1 -7.5 1.7 -6.0 2.3 -4.5 1.8 -1.8 1.5 -0.6 3 1.0 3.9 6.0 5.1 15.2 6 -22.9 2 -2.8zM360.0 42.4l1.5 1.6 1.8 5.4 2.4 15.0 -2 12.0 -2.2 6.0 -1.5 1.4 -1.5 -1.2 -1.5 -4.9 -1.2 -14.7 1.2 -14.7 1.5 -4.8zM340.5 55.8l0.9 5.7 -0.9 4.7 -1.5 -0.8 -0.5 -3.9 0.5 -4.9zM154.5 71.0l1.8 1.0 2.7 7.2 1.4 6.3 0.2 25.5 -0.9 12.0 -2.2 15.0 -1.5 0.1 -5 -27.1 -1.3 -22.5 0.2 -4.5 3.2 -10.9zM217.5 72.5l1.5 1.8 0.8 6.7 -0.8 7.0 -1.5 1.0 -1.5 -3.9 -0.5 -5.6 0.5 -5.1zM235.5 72.6l1.5 0.6 1.7 10.8 -1.7 10.8 -1.5 0.6 -1.5 -3.4 -0.7 -7.9 0.7 -7.9zM252.0 73.5l1.5 3.2 0.7 8.8 -0.7 9.8 -1.5 3.1 -1.5 -2.4 -0.9 -10.5 0.9 -9.5zM115.5 89.0l1.5 0.8 3.6 10.7 -0.2 19.5 -1.7 19.5 -4.8 29.0 -1.2 1.0 -0.3 2.1 -5.6 -30.6 0.3 -22.5 0.9 -10.5zM99.0 109.0l0.5 2.0 -0.4 3.0 -1.6 0.1 -0.2 -4.6z" fill="#e83b21"/><path d="M522.0 18.7l1.5 0.7 0.6 1.6 0.7 7.5 -0.5 3.0 -0.7 1.1 -1.5 0.4 -1.7 -4.5 0.5 -6.0zM376.5 37.7l3 1.4 1.7 4.4 1.7 10.5 0.6 13.5 -0.6 12.0 -1.6 10.5 -1.8 5.7 -1.5 2.6 -1.5 1.1 -1.5 -0.2 -1.5 -1.6 -2.8 -7.6 -2 -12.0 -0.7 -12.0 0.7 -10.5 2.5 -13.5 1.7 -3.0zM318.0 42.2l3.1 1.3 1.7 4.5 1.8 10.5 0.6 12.0 -0.5 12.0 -1.7 10.5 -2 5.9 -1.5 1.9 -1.5 0.4 -1.5 -1.0 -1.5 -2.4 -2.2 -6.3 -1.9 -9.0 -0.9 -10.5 0.8 -10.5 2 -10.5 2.1 -6.5 1.5 -1.8zM360.0 45.3l1.5 2.0 1.4 5.2 1.1 12.0 -1.2 10.5 -1.3 4.2 -1.5 1.8 -1.5 -1.4 -1.2 -4.6 -0.9 -12.0 0.9 -12.0 1.2 -4.4zM295.5 48.6l3 1.1 3.4 5.8 2.1 7.5 1 10.5 -1 9.0 -2.6 8.9 -3 4.8 -3 1.1 -3 -2.3 -2.3 -5.0 -1.7 -7.5 -0.6 -9.0 0.5 -9.0 1.5 -7.5 2.6 -6.0zM154.5 71.3l1.6 0.7 2.9 7.7 1.2 5.8 0.3 7.5 -0.8 28.5 -2.2 15.8 -1.5 0.3 -4.8 -26.6 -1.3 -22.5 1.2 -9.0 2 -6.0zM115.5 89.8l1.5 0.9 3.3 9.8 -0.4 28.5 -5.9 39.0 -1.6 1.7 -2.3 -9.2 -3.2 -19.5 0 -13.5 1.1 -18.0z" fill="#e82c25"/><path d="M522.0 19.0l1.5 0.7 1.1 8.8 -0.5 3.0 -2.1 1.3 -1.5 -4.3zM376.5 38.9l2.3 1.6 2.2 6.7 1.4 9.8 0.4 10.5 -0.5 10.5 -1.3 8.8 -1.5 5.3 -1.5 2.9 -1.5 1.2 -1.5 -0.2 -1.5 -1.7 -2.1 -5.8 -1.8 -10.5 -0.6 -12.0 0.6 -10.5 1.9 -10.5 1.7 -4.5 1.8 -1.4zM318.0 43.8l1.5 0.4 1.5 2.1 1.5 4.4 1.5 9.3 0.5 10.5 -0.6 11.7 -1.5 9.1 -1.5 4.4 -1.5 2.1 -1.5 0.4 -2.2 -2.3 -2.3 -6.2 -1.8 -10.3 -0.4 -7.5 0.5 -9.0 1.8 -10.4 2.1 -6.1zM360.0 48.3l1.9 4.2 1.1 10.5 -1 10.5 -2 4.5 -1.5 -1.6 -0.7 -2.9 -0.9 -10.5 1.6 -13.2zM295.5 51.7l3 1.2 2.9 5.6 1.7 7.5 0.5 7.5 -0.7 7.5 -1.9 7.5 -2.5 4.6 -3 1.3 -3 -2.7 -1.5 -3.4 -1.6 -7.2 -0.5 -7.5 0.4 -7.5 1.5 -7.5 1.7 -4.1zM154.5 71.7l1.5 0.5 3 8.1 1.3 12.7 -0.7 28.5 -2 15.0 -1.5 0.5 -4.5 -24.5 -1.5 -24.0 1.2 -9.0 1.8 -5.5zM115.5 90.9l1.5 0.9 3.1 8.7 -0.2 28.5 -5.8 39.0 -1.5 0.9 -2.1 -8.4 -3.2 -19.5 0.1 -13.5 1.7 -19.5z" fill="#e52028"/><path d="M522.0 19.3l1.5 0.8 0.9 8.4 -0.4 3.0 -2 1.1 -1.4 -4.1zM376.5 40.9l2.1 2.6 1.9 6.0 1.2 9.0 0.3 9.0 -1.5 16.5 -1.8 6.0 -2.3 3.1 -1.5 -0.3 -1.5 -2.0 -1.5 -4.2 -1.5 -8.7 -0.6 -10.5 0.5 -10.5 1.7 -9.7 1.5 -4.2 1.5 -2.0zM318.0 46.6l1.5 0.5 1.5 2.4 1.3 4.6 1.6 16.5 -1.4 16.8 -1.5 5.3 -1.5 2.4 -1.5 0.5 -2.2 -2.5 -2 -6.0 -1.7 -15.0 0.4 -9.0 1.2 -7.5 1.9 -6.0zM360.0 51.5l1.5 3.6 0.7 7.9 -0.7 8.4 -1.5 3.4 -1.5 -2.1 -0.9 -9.7 0.9 -9.6zM295.5 54.8l1.5 0.2 1.5 1.3 1.5 2.7 1.8 7.0 0.5 7.5 -0.7 7.5 -1.7 6.0 -1.8 3.0 -2.7 1.2 -1.7 -1.2 -2.2 -4.5 -1.7 -12.0 1.4 -12.0 1.9 -4.5zM154.5 72.1l1.5 0.5 3 8.3 1.1 12.1 -0.7 28.5 -1.9 14.3 -1.5 0.6 -4.3 -23.9 -1.5 -24.0 1.2 -9.0zM115.5 92.3l1.5 0.8 2.8 8.9 -0.2 27.0 -1 10.5 -1 3.0 -3.7 25.2 -1.5 0.6 -5.2 -27.3 0.1 -13.5 0.9 -15.0 1.2 -5.1z" fill="#d32026"/><path d="M522.0 19.6l1.7 1.4 0.6 7.5 -0.4 3.0 -1.9 0.8 -1.2 -3.8zM376.5 44.0l1.5 1.6 1.8 5.4 1.1 7.5 0.4 9.0 -1.4 15.0 -1.9 5.9 -1.5 1.6 -1.5 -0.3 -2.6 -5.7 -1.3 -7.5 -0.5 -9.0 1.5 -16.5 1.4 -4.5 1.4 -2.2zM318.0 49.4l1.5 0.5 2.2 5.6 1.5 15.0 -0.4 9.0 -1.2 7.5 -2.1 5.1 -1.5 0.6 -1.5 -1.4 -1.6 -4.2 -1.4 -7.5 -0.5 -7.5 1.4 -15.0 2.1 -6.1zM360.0 55.4l1.3 7.6 -1.3 7.8 -1.5 -3.5 -0.2 -4.3 0.2 -4.1zM295.5 58.2l1.5 0.2 1.5 1.6 1.3 3.0 1.4 10.5 -1.7 10.5 -2.4 3.6 -1.5 0.2 -1.5 -1.2 -1.5 -3.1 -1.5 -10.0 1.3 -10.5 1.7 -3.6zM154.5 72.5l1.5 0.5 3 8.6 0.8 11.4 -0.6 28.5 -1.8 13.5 -1.5 0.7 -3.8 -20.2 -1.8 -27.0 1.2 -9.0zM115.5 94.4l1.5 0.7 1.5 3.3 0.6 3.6 0.4 27.0 -0.9 10.5 -2.5 12.0 -0.7 7.5 -1.1 3.0 -0.4 5.2 -1.5 0.5 -5 -26.7 0.2 -13.5 0.9 -15.0z" fill="#c12025"/><path d="M522.0 20.0l1.6 1.0 0.6 7.5 -0.4 3.0 -1.7 0.6 -1 -3.6zM376.5 47.3l1.5 1.9 1.5 5.1 1 13.2 -1 12.2 -1.5 5.1 -1.5 1.9 -1.5 -0.4 -1.8 -3.8 -1.2 -6.0 -0.6 -9.0 0.4 -9.0 1.1 -6.0 2.1 -4.8zM318.0 52.4l1.5 0.6 1.5 3.4 1.6 14.1 -1.6 15.0 -1.5 3.5 -1.5 0.7 -1.5 -1.7 -1.5 -4.6 -1.2 -12.9 1.2 -11.7 1.5 -4.7zM295.5 62.1l1.5 0.3 1.5 2.4 1.2 8.7 -1.2 7.7 -1.5 2.4 -1.5 0.3 -1.9 -2.9 -1.2 -7.5 0.9 -7.5 0.7 -2.2zM154.5 73.0l1.5 0.5 1.5 3.5 2 10.1 -0.2 33.0 -1.8 14.0 -1.5 1.0 -1.5 -5.8 -0.6 -6.2 -1.1 -3.0 -2.3 -31.5 1 -8.4zM117.0 98.8l1.2 4.7 0.2 6.0 1 3.0 -0.1 16.5 -0.8 10.5 -1 3.0 -0.6 6.9 -0.9 2.1 -0.6 7.1 -0.9 1.9 -0.6 6.2 -1.5 0.5 -5 -27.7 1.3 -27.0 2.4 -4.5 4.2 -4.5 0.3 -3.0z" fill="#b21e22"/><path d="M522.0 20.4l1.5 0.8 0.5 7.2 -0.4 3.0 -1.6 0.4 -0.8 -3.4zM376.5 50.9l1.5 2.4 0.9 3.7 0.8 10.5 -1.7 13.2 -1.5 2.4 -1.5 -0.4 -1.5 -3.6 -1.2 -11.6 1.2 -12.6 1.5 -3.5zM318.0 55.6l1.5 0.8 1.5 4.4 0.8 9.7 -0.8 10.8 -1.5 4.5 -1.5 0.8 -1.5 -2.1 -0.9 -3.4 -0.9 -10.5 0.9 -9.0 1 -3.8zM295.5 67.8l1.5 0.6 0.7 5.0 -0.7 4.0 -1.5 0.7 -1.2 -4.7zM154.5 73.4l1.5 0.5 1.5 3.6 1.8 9.5 -0.1 33.0 -1.7 12.9 -1.5 1.3 -1.5 -5.5 -0.5 -5.7 -1.1 -3.0 -2.2 -31.5 0.7 -7.5zM115.5 105.1l2.6 2.9 1.2 4.5 -0.1 16.5 -0.6 10.5 -1.1 3.0 -0.5 6.7 -1 2.3 -0.5 6.8 -1 2.2 -0.5 5.7 -1.5 0.5 -4.8 -27.2 1.3 -27.0 4 -6.0z" fill="#a41c1f"/><path d="M522.0 20.9l1.5 1.0 0.4 6.6 -0.4 2.9 -1.5 0.3 -0.6 -3.1zM376.5 55.2l1.5 3.5 0.7 8.8 -0.7 7.8 -1.5 3.5 -1.5 -0.6 -1.7 -10.7 0.9 -9.0 0.8 -2.7zM318.0 59.3l1.5 1.0 1.5 10.2 -1.5 11.2 -1.5 1.1 -1.6 -3.3 -0.8 -9.0 0.9 -8.3zM154.5 73.9l1.5 0.5 1.5 3.7 1.6 8.8 -0.1 33.0 -1.5 11.5 -1.5 1.8 -1.5 -5.5 -0.4 -4.8 -1.2 -3.0 -2 -31.5 0.6 -7.0zM115.5 105.4l2.3 2.6 1.3 4.5 -0.6 27.0 -1.1 3.0 -0.4 6.0 -1.1 3.0 -0.4 6.5 -1.1 2.5 -0.4 5.0 -1.5 0.6 -4.7 -26.5 1.4 -27.0 4.1 -6.0z" fill="#951b1c"/><path d="M522.0 21.6l1.5 1.0 0.2 6.0 -0.2 2.3 -1.5 0.5zM376.5 61.5l0.6 6.0 -0.6 5.0 -1.5 -1.5 -0.3 -3.5 0.3 -4.5zM318.0 64.3l1.5 2.1 0.3 4.1 -0.3 5.1 -1.5 2.1 -1.1 -7.2zM154.5 74.5l1.5 0.5 2.6 9.0 0.7 18.0 -0.5 18.0 -1.3 9.9 -1.5 2.3 -3 -12.3 -1.9 -31.4 0.4 -6.3zM115.5 105.7l2 2.3 1.4 4.5 -0.4 27.0 -0.9 1.5 -0.6 7.5 -1.2 3.0 -0.4 6.1 -1.2 2.9 -0.3 4.2 -1.5 0.6 -4.6 -25.7 1.5 -27.0 4.2 -6.0z" fill="#871919"/>
</g>
<polyline points="0.0,182.3 1.3,182.1 6.1,180.7 13.3,183.9 19.2,182.5 25.3,193.5 31.2,177.1 37.5,150.6 43.2,147.0 49.6,138.6 55.8,147.5 61.7,132.7 68.0,143.5 73.7,147.5 80.0,157.8 85.9,152.9 92.2,164.2 98.1,137.4 104.2,152.4 110.6,215.1 122.6,138.6 128.5,169.9 134.5,128.5 141.2,138.8 147.1,128.1 153.0,147.3 158.7,182.2 165.0,123.1 171.6,119.0 177.0,120.4 183.8,126.3 189.5,125.8 195.4,127.6 201.3,126.3 207.4,143.1 213.3,144.9 219.2,144.6 225.9,125.8 232.2,140.6 237.9,151.4 243.8,146.4 250.1,151.4 256.4,127.6 262.3,132.4 268.2,129.4 280.2,148.5 286.1,131.7 292.4,145.5 298.7,134.7 304.6,128.1 310.8,142.4 316.7,144.9 322.9,130.3 329.7,122.7 334.6,122.7 341.2,132.9 347.1,131.1 353.0,124.5 359.1,132.4 365.0,124.0 371.3,144.9 377.5,138.8 383.4,142.4 389.8,126.5 395.0,127.1 401.5,130.4 407.9,134.8 414.1,125.7 419.5,93.1 425.8,75.7 431.6,50.4 437.8,47.5 444.2,41.1 450.6,44.2 456.4,38.8 462.2,61.1 468.1,63.6 474.3,56.3 480.1,40.3 486.3,33.4 492.8,43.6 498.6,33.4 505.0,29.5 511.2,45.0 517.1,46.2 523.3,43.6 529.7,63.0 531.1,66.5" fill="none" stroke="#000" stroke-width="2.1" stroke-linejoin="round"/>
</g>
<line x1="76.2" y1="34.5" x2="607.3000000000001" y2="34.5" stroke="#8c8c8c" stroke-width="1.3"/>
<path d="M76.2,33.9 V259.5 H607.3000000000001 V33.9" fill="none" stroke="#2b2b2b" stroke-width="2.2"/>
<text transform="translate(106.55,288.00) scale(1.015,1)" text-anchor="middle" font-size="25.0" font-weight="normal" >750</text>
<text transform="translate(258.29,288.00) scale(1.015,1)" text-anchor="middle" font-size="25.0" font-weight="normal" >700</text>
<text transform="translate(410.03,288.00) scale(1.015,1)" text-anchor="middle" font-size="25.0" font-weight="normal" >650</text>
<text transform="translate(561.78,288.00) scale(1.015,1)" text-anchor="middle" font-size="25.0" font-weight="normal" >600</text>
<text transform="translate(68.20,42.70) scale(1.015,1)" text-anchor="end" font-size="25.0" font-weight="normal" >0</text>
<text transform="translate(68.20,117.70) scale(1.015,1)" text-anchor="end" font-size="25.0" font-weight="normal" >-10</text>
<text transform="translate(68.20,192.70) scale(1.015,1)" text-anchor="end" font-size="25.0" font-weight="normal" >-20</text>
<text transform="translate(68.20,267.70) scale(1.015,1)" text-anchor="end" font-size="25.0" font-weight="normal" >-30</text>
<text transform="translate(341.75,316.50) scale(1.08,1)" text-anchor="middle" font-size="25.0" font-weight="normal" >distance[km]</text>
<text transform="translate(21.800000000000004,147.0) rotate(-90) scale(1.27,1)" text-anchor="middle" font-size="22">depth [m]</text>
<text x="5.0" y="24.0" font-size="28.8" font-weight="bold">A</text>
<linearGradient id="cbgA" x1="0" y1="1" x2="0" y2="0"><stop offset="0.0000" stop-color="#c04898"/><stop offset="0.0440" stop-color="#8f4a9f"/><stop offset="0.0893" stop-color="#5a55a5"/><stop offset="0.1333" stop-color="#2274c0"/><stop offset="0.2000" stop-color="#2898d8"/><stop offset="0.2667" stop-color="#3cc0ec"/><stop offset="0.3400" stop-color="#5ac8e4"/><stop offset="0.4000" stop-color="#6cc8d4"/><stop offset="0.4440" stop-color="#60c0b8"/><stop offset="0.5107" stop-color="#50b070"/><stop offset="0.5773" stop-color="#78b040"/><stop offset="0.6440" stop-color="#c4d42c"/><stop offset="0.6973" stop-color="#eee41c"/><stop offset="0.7427" stop-color="#f8b020"/><stop offset="0.7773" stop-color="#f08020"/><stop offset="0.8227" stop-color="#e84020"/><stop offset="0.8667" stop-color="#e82028"/><stop offset="0.9107" stop-color="#c02025"/><stop offset="1.0000" stop-color="#801818"/></linearGradient><rect x="615.3499999999999" y="35.55" width="14.600000000000046" height="223.4" fill="url(#cbgA)" stroke="#1e2626" stroke-width="2.1"/>
<text transform="translate(636.80,269.00) scale(1.015,1)" text-anchor="start" font-size="25.0" font-weight="normal" >0</text>
<text transform="translate(636.80,208.87) scale(1.015,1)" text-anchor="start" font-size="25.0" font-weight="normal" >0.02</text>
<text transform="translate(636.80,148.73) scale(1.015,1)" text-anchor="start" font-size="25.0" font-weight="normal" >0.04</text>
<text transform="translate(636.80,88.60) scale(1.015,1)" text-anchor="start" font-size="25.0" font-weight="normal" >0.06</text>
<path d="M630.0,199.9 h-4 M630.0,139.7 h-4 M630.0,79.6 h-4" stroke="#222" stroke-width="1.6" fill="none"/>
<path d="M845.8,259.5 v-6 M997.4,259.5 v-6 M1149.0,259.5 v-6 M1300.5,259.5 v-6 M815.5,109.5 h6 M1346.0,109.5 h-6 M815.5,184.5 h6 M1346.0,184.5 h-6" stroke="#2b2b2b" stroke-width="2" fill="none"/>
<g transform="translate(815.5,34.5)">
<clipPath id="clipB"><polygon points="0,0 530.5,0 530.5,66.5 530.5,66.5 529.1,63.0 522.7,43.6 516.5,46.2 510.6,45.0 504.4,29.5 498.0,33.4 492.2,43.6 485.8,33.4 479.6,40.3 473.8,56.3 467.6,63.6 461.7,61.1 455.9,38.8 450.1,44.2 443.7,41.1 437.3,47.5 431.1,50.4 425.3,75.7 419.0,93.1 413.6,125.7 407.4,134.8 401.0,130.4 394.6,127.1 389.4,126.5 383.0,142.4 377.1,138.8 370.9,144.9 364.6,124.0 358.7,132.4 352.6,124.5 346.7,131.1 340.8,132.9 334.2,122.7 329.3,122.7 322.5,130.3 316.3,144.9 310.4,142.4 304.3,128.1 298.4,134.7 292.1,145.5 285.8,131.7 279.9,148.5 267.9,129.4 262.0,132.4 256.1,127.6 249.8,151.4 243.5,146.4 237.6,151.4 231.9,140.6 225.6,125.8 219.0,144.6 213.1,144.9 207.2,143.1 201.1,126.3 195.2,127.6 189.3,125.8 183.6,126.3 176.8,120.4 171.4,119.0 164.8,123.1 158.5,182.2 152.8,147.3 146.9,128.1 141.0,138.8 134.3,128.5 128.4,169.9 122.5,138.6 110.5,215.1 104.1,152.4 98.0,137.4 92.1,164.2 85.8,152.9 79.9,157.8 73.6,147.5 67.9,143.5 61.6,132.7 55.7,147.5 49.5,138.6 43.2,147.0 37.5,150.6 31.2,177.1 25.3,193.5 19.2,182.5 13.3,183.9 6.1,180.7 1.3,182.1 0.0,182.3"/></clipPath>
<g clip-path="url(#clipB)">
<rect x="-1" y="-1" width="532.5" height="227.0" fill="#ffffff"/><path d="M532.5 0.0l0 59.8 -1.5 0.1 -3 -3.0 -3 3.7 -1.5 0.2 -2.5 -2.2 -2.6 -6.0 -2.1 -12.0 -2 -1.5 -2.7 -0.8 -1.8 -2.2 -5.7 -14.0 -6 3.7 -6 9.9 -6 -9.6 -6 6.4 -5.7 15.7 -6.3 7.6 -3 -0.7 -3 -1.4 -0.8 -1.1 -5.2 -21.2 -6 4.8 -6 -3.1 -6 5.5 -6 3.1 -1.5 3.0 -5.2 22.9 -5.3 10.1 -0.5 3.4 -1 1.3 -0.2 6.2 -1.2 4.5 -0 6.0 -1.2 3.0 -0.1 6.0 -1.3 3.0 -0.4 7.5 -1.6 4.0 -4.5 6.7 -1.5 0.2 -6 -4.1 -6 -3.0 -4.5 -0.4 -2 2.6 -3.8 10.5 -1.7 2.3 -4.5 -2.7 -1.5 0.0 -4.5 4.4 -1.5 -0.2 -2 -8.3 -4 -11.1 -6 8.1 -6 -7.6 -6 6.5 -4.5 1.4 -1.5 -0.1 -6 -9.2 -4.5 -0.6 -8 8.1 -5.5 13.8 -6 -2.1 -6 -13.9 -6.6 6.7 -5.4 9.6 -1.7 -2.1 -4.3 -9.5 -1.5 0.8 -0.9 1.2 -3.6 11.5 -1.5 0.4 -10.5 -16.8 -1.5 -0.5 -4.5 2.4 -6 -4.3 -2.6 5.7 -0.1 3.0 -1.1 1.5 -0.5 4.5 -1.1 1.5 -0.5 4.5 -1.6 2.0 -6 -4.0 -4.5 3.9 -1.6 -0.4 -10.4 -22.3 -1.5 -0.5 -1 1.7 -5 15.4 -6 0.2 -6 -2.3 -2.2 -7.3 -3.8 -8.8 -6 1.2 -6 -1.8 -4.5 0.5 -1.5 -0.6 -6 -5.1 -6.5 -1.9 -0.4 -13.5 0.9 -2.0 1.5 -0.4 3.8 0.9 6.7 5.5 1.5 0.4 4.5 -0.3 6 1.7 6 -1.3 0.2 -1.5 -6.2 0.9 -4.5 -1.5 -7.5 -0.2 -6 -5.5 -6 -1.4 -3 1.6 -0.3 4.6 -1.2 1.3 -0.5 4.7 -1 1.2 -0.3 9.3 -1.2 3.0 -0.4 12.0 -1.1 2.1 -0.3 11.4 -1.3 3.0 -0.2 10.5 -1.3 3.5 -2.1 -2.0 -0.6 -1.5 -0.3 -7.0 -1.2 -2.0 -0.3 -7.2 -1.2 -1.8 -0.3 -7.5 -1.1 -1.5 -0.4 -3.9 -1.2 -2.1 -0.3 -3.0 -1.1 -1.5 -1.9 -8.3 -6 10.0 -6 -9.0 -1.5 5.2 -0.4 8.1 -1.1 1.8 -0.3 7.2 -1.2 2.7 -0.3 7.8 -1.2 2.7 -1.5 -0.6 -1.1 -2.1 -0.4 -6.0 -0.9 -1.5 -0.6 -6.2 -1.2 -2.8 -0.3 -4.8 -1.5 3.1 -0.4 7.7 -1.1 2.1 -0.3 6.9 -1.2 3.0 -0.3 7.5 -1.2 2.7 -0.3 7.8 -1.2 2.4 -0.3 6.6 -1.2 2.0 -0.3 7.0 -1.2 2.4 -0.2 6.6 -1.3 2.7 -1 -1.2 -0.5 -5.5 -1.1 -2.0 -0.4 -13.0 -1.3 -3.5 -0.2 -11.5 -1.2 -3.5 -0.3 -11.6 -0.9 -1.9 -0.6 -8.4 -2.5 -5.1 -2 -7.0 -1.5 -1.6 -1.5 3.8 -1.5 0.2 -2.1 7.6 -2.1 3.0 -1.8 0.9 -3 -1.1 -1.9 -2.8 -1.9 -6.0 -3.7 -27.4 -1.5 2.9 -2.3 26.0 -1.9 9.0 -1.8 3.7 -1.5 1.3 -1.5 0.2 -2.5 -2.2 -1.4 -3.0 -1.8 -9.0 -2.2 -34.5 1.4 -15.0 2.7 -10.5 2.3 -4.0 3 -2.0 1.5 0.3 3 2.8 1.9 -1.7 5.7 -18.0 4.4 -6.9 4.5 -1.8 4.5 2.1 1.5 -0.1 6 -8.1 10.5 -6.5 4.5 -0.0 4.5 1.5 9 -4.3 24 -8.5 9 0.9 9 -3.3 33 -0.9 69 0.4 42 -0.6 84 1.2 13.5 0.8 1.5 -0.4 9 -10.9 1.5 -0.6 21.9 -0.7zM201.4 106.5l4.7 13.5 2.4 2.3 4.5 1.4 6 -0.3 3.7 -9.4 0.5 -3.0 1.1 -1.5 0.7 -3.3 1.5 0.4 5.5 13.4 5 8.9 1.5 0.5 4.5 -3.9 1.5 0.3 4.5 3.7 2.5 -3.5 -0 -3.0 -1 -0.4 -1.5 1.9 -4.5 -3.4 -1.5 -0.3 -4.5 3.6 -1.5 -0.3 -7.1 -13.1 -3.4 -9.3 -1.5 -0.3 -0.6 3.6 -0.9 0.7 -0.7 3.8 -0.8 0.5 -0.3 2.5 -1.2 1.6 -0.4 2.9 -1.1 1.4 -6 0.3 -6 -2.2 -1 -1.0 -0.5 -3.2 -1.1 -1.3 -0.4 -3.0 -1.5 -2.4zM252.0 116.9l0 5.0 1.1 -3.4 -0.4 -1.5zM253.5 111.2l0 5.0 1.1 -3.7zM256.5 104.5l-1.5 1.2 0 4.8 0.8 -1.0zM0.0 86.1l6 0.8 6 3.0 4.5 4.9 7.5 12.5 1.5 1.5 4.5 1.7 1.5 1.4 1.3 6.6 1.5 31.5 -0.4 6.0 -1.3 4.5 -2.7 4.2 -3 2.5 -4.5 2.3 -7.5 2.4 -7.5 1.6 -7.5 0.6zM46.5 87.3l1.5 1.4 1.6 4.3 1.4 12.0 -1.2 25.5 -1.2 6.0 -2.1 3.3 -1.5 -0.2 -1.2 -1.6 -1.5 -4.5 -1.7 -22.5 0.5 -7.5 2.3 -11.2 1.5 -4.0z" fill="#fdf2f2"/><path d="M532.5 1.4l0 57.3 -1.8 -0.2 -2.1 -3.0 -0.6 -2.1 -3 2.0 -1.5 0.2 -1.5 -1.0 -2.4 -5.0 -1.8 -9.0 -1.4 -1.5 -4.9 -2.0 -1.5 -1.8 -6 -14.9 -6 3.8 -6 10.0 -6 -9.6 -6 6.6 -5.6 15.5 -6.4 8.0 -1.5 -0.1 -4.5 -2.2 -6 -22.3 -6 4.7 -6 -3.2 -6 5.5 -6 3.0 -1.5 3.0 -5.4 23.0 -5.1 10.1 -1.5 4.5 -2 13.9 -1 1.5 -0.5 7.5 -1 1.2 -0.6 3.3 -5.4 7.4 -1.5 0.5 -10.5 -6.5 -6 -1.0 -1.5 2.0 -3.3 9.5 -2.7 4.0 -4.5 -2.8 -1.5 0.1 -4.5 4.5 -1.5 -0.2 -1 -1.0 -0.5 -3.8 -1.3 -2.2 -0.2 -3.1 -1.2 -1.4 -0.3 -3.5 -1 -1.0 -0.5 -3.5 -6 7.9 -6 -7.5 -6 6.8 -4.5 1.4 -2 -0.6 -5.5 -9.0 -4.5 -0.4 -7.5 7.7 -1.9 6.2 -1.1 1.1 -2.1 6.4 -0.9 0.9 -4.5 -1.4 -2.7 -2.5 -4.8 -12.3 -6 6.0 -6 10.3 -2.5 -2.6 -3.9 -9.0 -1.1 0.9 -1.8 6.6 -1.2 1.6 -0.3 2.9 -1.2 1.3 -1.5 0.3 -10.5 -16.8 -1.5 -0.3 -4.5 2.1 -2.6 -1.6 -2.9 -6.0 -0.5 -2.9 -1.5 1.2 -3.4 15.2 -2.6 3.9 -4.5 -3.6 -1.5 -0.4 -4.5 3.9 -1.9 -0.8 -4.8 -9.0 -5.3 -12.9 -1.5 -0.5 -5.4 16.4 -0.6 0.8 -6 0.2 -6.1 -2.5 -2.9 -8.1 -3 -5.1 -6 1.0 -6 -1.7 -4.5 0.3 -1.5 -0.4 -6 -5.2 -6 -1.4 -3 1.6 -0.5 4.0 -2.5 7.7 -0.4 8.8 -1.2 4.5 -0.4 10.5 -1.1 3.0 -0.3 10.5 -1.2 4.5 -0.3 10.5 -1.1 2.6 -2.3 -2.6 -0.7 -7.8 -1.1 -2.7 -0.4 -6.5 -1.1 -2.5 -0.4 -6.7 -6 -20.5 -6 9.9 -6 -9.2 -1.5 4.8 -0.6 8.2 -0.9 2.1 -2 17.4 -1 3.0 -1.5 -0.6 -0.9 -2.4 -3.6 -21.2 -1.5 3.2 -2.1 18.0 -0.9 1.9 -0.4 7.1 -1.1 3.0 -0.4 7.5 -1.1 2.5 -0.3 6.5 -1.2 2.6 -0.3 6.4 -1.2 3.0 -0.5 7.5 -1 1.9 -2.5 -9.4 -0.4 -12.0 -1.1 -3.0 -0.4 -12.0 -1.2 -4.5 -0.3 -10.5 -1.5 -10.5 -4.7 -14.2 -1.9 -3.8 -1.1 -10.4 -1.5 5.3 -1.1 12.7 -2.3 7.5 -2.6 2.7 -1.5 -0.2 -2.1 -2.5 -1.6 -4.5 -1.4 -9.0 -3.2 -45.0 1.6 -15.0 1.5 -6.0 2.3 -5.4 3 -3.1 3 -0.1 1.5 1.1 3 5.0 1.5 1.2 6 -12.9 10.5 -8.4 1.5 -0.2 3 1.0 4.5 2.9 7.5 -4.5 10.5 -3.3 7.5 -4.4 7.5 -3.4 3 0.3 6 2.0 9 -5.0 22.5 -0.4 10.5 -1.1 43.5 0.0 25.5 0.7 10.5 -0.9 31.5 -0.1 10.5 1.0 73.5 1.0 13.5 1.3 1.5 -0.3 7.5 -8.7 3 -1.9 19.5 -0.9 24 -2.9 21 3.0 13.5 -0.6 16.3 -4.4 5.4 0.0zM69.0 67.7l1.5 0.4 1.5 1.6 1.8 3.7 0.9 4.5 0.3 9.0 -2.5 43.5 -2 7.5 -1.5 2.0 -1.5 0.3 -2.6 -3.8 -1.4 -6.0 -2 -39.0 0.6 -9.0 1.6 -7.5 2.3 -5.2zM46.5 93.8l1.5 2.3 0.7 2.9 0.6 9.0 -0.7 21.0 -0.6 3.5 -1.5 3.5 -1.5 -0.4 -1.5 -5.0 -0.9 -19.5 0.8 -10.8 1.5 -5.1z" fill="#fce9e9"/><path d="M532.5 4.1l0 53.9 -1.5 0.1 -4.5 -7.6 -1.5 1.7 -1.5 0.2 -1.5 -1.2 -2 -4.5 -1.9 -7.5 -6.6 -2.9 -1.5 -1.9 -6 -15.6 -6 4.0 -6 10.2 -6 -9.7 -6 6.9 -6 16.2 -6 7.4 -1.5 -0.1 -4.7 -2.5 -5.8 -22.1 -6 4.7 -6 -3.3 -6 5.4 -6 3.0 -1.5 3.0 -5.4 22.8 -6.6 15.2 -2 13.3 -1.1 3.0 -0.4 6.0 -3.3 7.5 -3.6 5.3 -1.5 0.3 -12 -6.9 -4.5 -0.5 -1.5 2.2 -3.7 10.2 -2.3 3.2 -4.5 -2.7 -1.5 0.1 -4.5 4.5 -1.5 -0.3 -6 -19.5 -6 8.0 -6 -7.5 -6 6.5 -4.5 1.4 -1.5 -0.1 -6 -9.2 -4.5 -0.4 -1.5 0.8 -6 6.9 -6 14.2 -4.5 -1.3 -2.4 -1.7 -5.1 -12.8 -6 6.0 -6 10.2 -2.6 -3.5 -3.4 -8.1 -1.4 0.6 -3.8 12.0 -2.2 1.0 -10.5 -16.8 -1.5 -0.5 -4.5 2.3 -1.5 -0.5 -2.4 -3.5 -2.1 -6.4 -1.5 1.2 -3.7 15.7 -2.3 3.3 -4.5 -3.6 -1.5 -0.3 -4.5 3.8 -1.5 -0.4 -6.9 -13.3 -3.6 -9.1 -1.5 -0.4 -5.9 16.9 -6.1 0.5 -6 -2.3 -3 -8.3 -3 -5.1 -6 1.0 -6 -1.7 -4.5 0.4 -1.5 -0.4 -6 -5.3 -6 -1.5 -3 1.5 -3.1 12.3 -0.5 9.0 -1.1 4.5 -0.3 9.0 -1.1 4.5 -0.4 10.5 -1 3.0 -0.4 10.5 -1 3.4 -1.5 -1.2 -0.9 -2.1 -2.1 -16.1 -1.1 -3.4 -0.4 -5.9 -6 -20.5 -6 9.7 -6 -9.3 -1.5 4.9 -0.6 7.5 -1 3.0 -2.9 20.1 -1.5 -0.7 -4.5 -23.6 -1.5 3.3 -3.6 28.0 -0.9 2.3 -0.4 6.7 -1.1 3.2 -0.5 7.3 -1 2.1 -2 15.9 -1 2.7 -2.5 -10.2 -0.3 -10.5 -1.1 -4.5 -0.3 -10.5 -1 -4.5 -0.4 -10.5 -1.4 -10.5 -5.6 -19.5 -0.8 -20.1 -1.5 -13.6 -1.5 10.9 -1.4 25.9 -1.1 7.5 -1.6 4.5 -1.9 2.0 -1.8 -0.5 -2.3 -4.5 -1.4 -7.5 -2.3 -46.5 1.3 -13.5 1.6 -6.0 1.9 -3.6 3 -1.6 3 2.5 1.8 4.2 2.7 11.6 3.4 -16.1 2.6 -7.3 1.5 -2.2 9 -8.3 1.5 -0.1 2.7 1.4 4.8 4.4 7.5 -5.2 10.5 -3.2 7.5 -5.4 7.5 -4.1 3 0.5 6 3.0 9 -6.5 22.5 -0.5 10.5 -1.4 43.5 0.0 13.5 1.0 12 0.0 10.5 -1.1 31.5 -0.2 10.5 1.3 45 0.2 28.5 1.1 15 1.6 7.5 -8.1 3 -1.6 19.5 -1.2 24 -4.0 21 4.1 13.5 -0.9 18 -6.2 3 0.1zM69.0 72.5l2.2 2.5 1.3 4.5 0.7 15.0 -1.8 36.0 -2.4 6.9 -1.5 0.4 -1.8 -2.8 -1.3 -6.0 -1.5 -37.5 1.6 -13.1 1.5 -3.8 1.5 -1.8zM46.5 101.6l1 10.9 -0.3 16.5 -0.6 2.9 -1.5 -1.0 -0.6 -18.4 0.6 -9.0z" fill="#fbdfdf"/><path d="M532.5 6.4l0 50.8 -1.7 -0.2 -4.3 -8.2 -3 0.8 -1.5 -1.4 -3 -9.5 -7.5 -3.4 -1.5 -1.9 -6 -16.7 -6 4.5 -6 10.6 -6 -10.0 -6 7.3 -6 16.3 -6 7.4 -1.5 -0.1 -4.5 -2.2 -6 -22.6 -6 4.6 -6 -3.4 -6 5.4 -6 3.0 -1.5 3.0 -5.8 24.0 -6.2 14.4 -3.9 23.1 -2.5 6.0 -4.1 6.2 -1.5 0.3 -12 -6.9 -4.5 -0.5 -1.5 2.1 -4.1 10.8 -1.9 2.6 -4.5 -2.7 -1.5 0.1 -4.5 4.5 -1.5 -0.2 -6 -19.5 -6 8.0 -6 -7.5 -6 6.6 -4.5 1.4 -1.5 -0.1 -6 -9.2 -4.5 -0.5 -7.5 7.8 -6 14.3 -1.5 -0.1 -5 -2.5 -5.5 -13.3 -6 6.0 -6 10.2 -2.3 -2.9 -3.7 -8.6 -1.5 0.7 -4.2 12.4 -1.8 0.6 -10.5 -16.9 -1.5 -0.5 -4.5 2.3 -1.5 -0.6 -2.1 -2.9 -2.4 -6.9 -1.5 1.1 -4 16.3 -2 2.8 -4.5 -3.5 -1.5 -0.4 -4.5 3.8 -1.5 -0.3 -5.3 -9.9 -5.2 -12.5 -1.5 -0.4 -6 17.1 -6 0.2 -6 -2.3 -3 -8.3 -3 -5.0 -6 0.9 -6 -1.8 -4.5 0.4 -1.5 -0.5 -6 -5.2 -6 -1.5 -3 1.4 -3.3 12.9 -2 22.5 -1 4.5 -0.3 9.0 -1.1 4.5 -0.4 10.5 -0.9 2.7 -2.2 -2.7 -3.8 -25.9 -6 -20.6 -6 9.7 -6 -9.4 -1.7 5.7 -4.3 29.7 -1.5 -0.7 -4.5 -23.7 -1.6 3.6 -5 37.5 -0.9 2.6 -3.7 25.9 -0.8 2.2 -2.4 -9.7 -0.4 -10.5 -1.2 -6.0 -0.2 -9.0 -1.1 -6.0 -0.2 -9.0 -1.3 -10.5 -3.2 -10.5 -1.7 -9.0 -1 -40.5 1.1 -15.0 2.3 -10.5 1.8 -3.6 9 -9.8 1.5 -0.0 3 2.1 4.5 5.6 7.5 -6.0 10.5 -3.0 7.4 -6.2 7.6 -4.8 3 0.7 6 3.9 9 -7.9 22.5 -0.6 10.5 -1.7 43.5 0.0 13.5 1.2 12 0.0 10.5 -1.4 31.5 -0.2 10.5 1.6 18 0.6 27 -0.3 9 0.9 19.5 0.4 15 2.1 6 -6.3 3 -2.0 21 -1.9 24 -5.1 10.5 2.0 10.5 3.2 13.5 -1.2 7.5 -3.8 10.5 -4.0 3 0.1zM88.5 53.7l1.5 1.0 1.3 2.3 1.4 4.5 1.4 15.0 -1.8 43.5 -1.6 7.5 -2.1 3.0 -1.5 -0.3 -1.5 -2.4 -1.5 -6.3 -2.1 -43.5 0.5 -10.5 1.3 -7.5 1.7 -4.4 1.5 -1.7zM69.0 77.8l1.5 2.5 0.8 3.6 0.6 12.0 -1.2 33.0 -1.7 5.8 -1.5 0.5 -1.5 -2.7 -0.7 -3.6 -1.2 -36.0 0.4 -6.1 1.5 -6.7 1.5 -2.3z" fill="#fad5d5"/><path d="M520.5 5.7l4.5 -0.2 7.5 3.1 0 47.9 -1.5 0.1 -4.5 -8.7 -1.5 -0.8 -1.5 0.3 -1.5 -1.7 -1.9 -6.7 -1.1 -1.3 -7.5 -3.2 -1.5 -2.0 -4.6 -14.6 -0.2 -3.0 1.4 -1.5zM500.2 16.5l-2.2 2.5 -6 11.6 -6 -10.5 -6 8.1 -6 16.5 -6 7.5 -1.5 -0.1 -4.5 -2.3 -6 -22.8 -6 4.6 -6 -3.7 -6 5.5 -6 2.9 -2 4.2 -5.5 23.2 -6 14.5 -3.8 22.3 -2.1 6.0 -4.7 7.1 -1.5 0.3 -12 -6.8 -4.5 -0.5 -7.5 15.6 -4.5 -2.7 -1.5 0.1 -4.5 4.6 -1.5 -0.3 -6 -19.5 -6 8.0 -6 -7.5 -6 6.6 -4.5 1.4 -1.5 -0.1 -6 -9.2 -4.5 -0.4 -7.5 7.8 -6 14.4 -6.2 -2.2 -5.8 -13.7 -6 6.0 -6 10.2 -2.1 -2.6 -3.9 -9.1 -1.5 0.8 -4.5 12.6 -1.5 0.2 -10.5 -16.9 -1.5 -0.5 -4.5 2.2 -1.5 -0.5 -1.8 -2.5 -2.7 -7.4 -1.5 1.2 -3.7 15.2 -2.3 4.0 -4.5 -3.6 -1.5 -0.4 -4.5 3.9 -1.5 -0.4 -3.5 -6.5 -7 -15.9 -1.5 -0.4 -6 17.1 -6 0.3 -6 -2.3 -3 -8.3 -3 -5.1 -6 0.9 -6 -1.7 -4.5 0.3 -1.5 -0.4 -6.4 -5.4 -5.6 -1.4 -3 1.3 -3.4 13.5 -1.8 21.0 -1.2 6.0 -0.3 9.0 -1 4.5 -0.3 9.0 -0.9 3.7 -2 -2.2 -4 -26.3 -6 -20.7 -6 9.6 -6 -9.5 -1.8 6.4 -4.2 29.0 -1.5 -0.7 -4.5 -23.7 -1.5 3.2 -6.6 47.8 -1 3.0 -2.3 16.5 -0.7 1.5 -2.3 -10.5 -0.2 -9.0 -1.1 -6.0 -0.3 -9.0 -2.8 -27.0 -2.5 -7.5 -1.5 -7.5 -0.8 -40.5 0.7 -13.5 2 -10.9 1.5 -3.6 9 -11.4 1.5 0.0 3 2.6 4.5 7.0 4.5 -4.8 3 -2.0 10.5 -2.7 7.4 -7.2 7.6 -5.4 3 0.9 6 4.8 9 -9.2 22.5 -0.7 10.5 -2.0 43.5 0.0 13.5 1.4 12 0.0 10.5 -1.6 31.5 -0.2 10.5 1.8 18 0.7 27 -0.3 9 1.1 19.5 0.4 15 2.6 7.5 -6.6 22.5 -2.6 24 -6.5 10.5 2.5 10.5 4.1 7.5 -0.8zM88.5 58.6l1.5 1.5 1.6 4.4 1.3 15.0 -1.5 40.5 -1.3 6.0 -1.6 2.5 -1.5 -0.4 -1.1 -2.1 -1.3 -6.0 -1.5 -40.5 1.4 -15.0 2.5 -5.6zM67.5 84.1l1.5 0.4 1.6 10.0 -0.8 33.0 -0.8 4.2 -1.5 0.7 -1.3 -4.9 -0.7 -31.5 0.5 -7.8z" fill="#f8cccc"/><path d="M522.0 6.9l3 0.1 7.5 3.7 0 45.2 -1.5 0.1 -6 -11.0 -1.5 0.2 -1.3 -1.7 -1.3 -4.5 -1.1 -1.5 -8.8 -4.5 -4.2 -12.0 -0.2 -3.0 0.6 -1.8 12 -8.2zM485.0 18.0l-1.8 4.5 -3.2 4.7 -6 16.7 -6 7.5 -1.5 -0.1 -4.5 -2.4 -6 -23.1 -6 4.6 -6 -4.2 -6 5.8 -6 2.8 -2.3 4.2 -5.2 23.3 -6.2 15.7 -3.8 22.5 -2.1 5.8 -4.5 6.8 -1.5 0.3 -12 -6.8 -4.5 -0.5 -7.5 15.6 -4.5 -2.6 -1.5 0.1 -4.5 4.6 -1.5 -0.3 -6 -19.5 -6 8.0 -6 -7.5 -6 6.5 -4.5 1.4 -1.5 -0.1 -6 -9.2 -4.5 -0.4 -1.5 0.9 -6 7.0 -6 14.4 -6 -2.0 -6 -13.9 -6 6.0 -6 10.2 -1.8 -2.2 -4.2 -9.4 -1.5 0.7 -4.5 12.6 -1.5 0.2 -10.5 -16.9 -1.5 -0.5 -4.5 2.3 -1.5 -0.5 -2.2 -3.6 -2.3 -6.3 -1.5 1.2 -3.9 15.6 -2.1 3.6 -4.5 -3.6 -1.5 -0.3 -4.5 3.8 -1.5 -0.4 -10.5 -22.3 -1.5 -0.4 -6 17.1 -6 0.3 -6 -2.3 -3 -8.3 -3 -5.1 -6 0.9 -6 -1.8 -4.5 0.4 -1.5 -0.5 -6 -5.3 -6 -1.5 -3 1.2 -3.6 14.1 -1.8 21.0 -1.1 6.0 -0.2 7.5 -1.2 6.0 -0.3 9.0 -0.8 3.2 -1.5 -1.1 -0.7 -2.1 -3.8 -25.3 -6 -20.7 -6 9.4 -6 -9.6 -1.7 5.6 -4.3 29.7 -1.6 -1.2 -4.4 -23.3 -2 5.3 -4.6 36.0 -5.4 31.2 -2.3 -10.2 -0.3 -9.0 -1.1 -6.0 -2.9 -36.0 -2.8 -9.0 -1 -6.0 -0.6 -37.5 0.7 -15.0 1.6 -9.0 4 -8.0 6 -8.0 1.5 0.1 3 3.1 4.5 8.7 4.5 -5.6 3 -2.2 7.5 -1.2 3 -1.2 7.3 -8.0 7.7 -6.1 3.7 1.6 5.3 5.3 9 -10.6 22.5 -0.8 10.5 -2.3 43.5 0.0 13.5 1.5 12 0.0 10.5 -1.8 31.5 -0.2 10.5 2.1 18 0.8 27 -0.4 9 1.3 19.5 0.5 15 3.1 6 -5.1 1.5 -0.4 3 1.1 18 -3.0 9 -3.5 16.5 -5.1 9.8 2.7zM487.5 19.3l3 1.4 4.5 -0.8 0.7 1.0 -0.7 3.0 -3 5.2zM88.5 63.9l1.5 2.2 1 4.4 0.8 10.5 -1.2 39.0 -0.6 3.6 -1.5 2.8 -1.5 -0.5 -1.7 -5.8 -1.2 -39.0 1.3 -13.3 1.5 -3.4z" fill="#f7c2c2"/><path d="M522.0 8.3l3 0.1 7.5 4.3 0 42.5 -1.5 0.1 -1.5 -2.1 -3 -6.6 -3.7 -4.6 -2.1 -4.5 -9.1 -4.4 -1.5 -2.1 -2.1 -7.0 -0.7 -4.5 1.1 -1.5 10.7 -8.4zM469.5 14.6l9.8 3.4 2.8 1.5 0.4 1.5 -3 6.0 -5.6 16.1 -6 7.5 -1.5 -0.2 -4.5 -2.5 -6 -23.7 -6 4.7 -3.3 -3.4 1.2 -1.5 5.3 -3.0zM108.9 184.5l-4.3 -52.5 -2.6 -7.9 -0.8 -5.6 -0.4 -34.5 0.6 -15.0 1.5 -9.0 4.1 -9.0 5.4 -7.9 1.5 0.1 3 3.5 4.5 10.6 4.5 -6.6 3 -2.4 7.5 -0.9 3 -1.3 7.1 -8.8 7.9 -7.0 1.5 0.2 2.8 2.2 4.7 5.7 7 -10.2 2 -1.9 22.5 -0.9 10.5 -2.6 43.5 0.0 13.5 1.7 12 0.0 10.5 -2.0 31.5 -0.3 10.5 2.3 18 0.8 27 -0.4 9 1.4 19.5 0.6 12 2.4 3 1.3 3 -2.6 3 -1.5 1.5 0.4 0.7 1.2 0.8 4.5 -0.1 27.0 -6.3 18.0 -3.8 22.5 -1.9 5.2 -4.5 6.8 -1.5 0.3 -12 -6.8 -4.5 -0.5 -7.5 15.6 -4.5 -2.7 -1.5 0.1 -4.5 4.6 -1.5 -0.3 -6 -19.5 -6 8.0 -6 -7.5 -6 6.5 -4.5 1.4 -1.5 -0.1 -6 -9.2 -4.5 -0.4 -1.5 0.9 -6 7.0 -6 14.4 -6 -2.0 -6 -13.9 -6 6.0 -6 10.2 -1.5 -1.8 -4.5 -9.8 -1.5 0.7 -4.2 12.1 -1.8 0.8 -10.5 -16.9 -1.5 -0.5 -4.5 2.3 -1.5 -0.5 -2 -3.1 -2.5 -6.7 -1.5 1.2 -4 16.0 -2 3.2 -4.5 -3.6 -1.5 -0.4 -4.5 3.8 -1.5 -0.4 -10.5 -22.4 -1.5 -0.4 -6 17.1 -6 0.3 -6 -2.3 -3 -8.3 -3 -5.1 -6 0.8 -6 -1.8 -4.5 0.4 -1.5 -0.5 -6 -5.2 -6 -1.6 -3 1.1 -3.5 13.2 -5.5 53.7 -1.5 -1.1 -4.4 -27.1 -6.1 -21.0 -6 9.3 -6 -9.6 -1.9 6.3 -4.1 28.9 -1.5 -0.7 -4.6 -23.6 -1.8 4.5 -6.2 46.5 -3.9 21.8zM88.5 70.1l1.5 4.0 0.6 8.4 -0.7 36.0 -1.4 5.3 -1.5 -0.7 -0.7 -3.1 -0.9 -37.5 0.9 -9.0 0.8 -2.8z" fill="#f6b8b8"/><path d="M522.0 9.6l3 0.1 7.5 5.1 0 39.8 -1.5 0.1 -9.4 -17.2 -10.1 -5.2 -1.5 -2.2 -1.5 -5.2 0 -3.9 10.5 -9.9zM469.5 17.1l6.6 2.4 4.3 3.0 -6.4 19.7 -6 7.6 -1.5 -0.2 -4.5 -2.7 -4.5 -17.1 -0.3 -5.8 0.3 -1.0zM110.9 193.5l-2.1 -10.5 -3.9 -51.0 -2.7 -9.0 -0.5 -4.5 -0.4 -28.5 0.5 -16.5 1.6 -10.5 3.7 -9.0 5.4 -8.8 1.5 0.2 3 4.1 4.5 12.9 6 -9.5 3 -1.5 6 0.1 3 -1.3 6.9 -9.6 8.1 -7.9 1.5 0.3 3 2.8 4.5 6.6 6.5 -10.8 2.5 -2.9 22.5 -1.1 10.5 -2.9 43.5 0.0 13.5 1.9 12 0.0 10.5 -2.3 31.5 -0.3 10.5 2.6 18 0.9 27 -0.5 9 1.6 19.5 0.7 12 2.7 3 1.6 4.5 -2.8 1.9 0.7 1.2 4.5 -0.2 27.0 -5 15.0 -3.8 22.5 -1.7 4.7 -4.5 6.9 -1.5 0.3 -12 -6.7 -4.5 -0.5 -7.5 15.6 -4.5 -2.6 -1.5 0.1 -4.5 4.6 -1.5 -0.3 -6 -19.5 -6 8.0 -6 -7.5 -6 6.6 -4.5 1.4 -1.5 -0.1 -6 -9.2 -4.5 -0.4 -1.5 0.9 -6 7.0 -6 14.4 -6 -2.0 -6 -13.9 -6 6.0 -6 10.2 -1.5 -1.7 -4.5 -9.9 -1.5 0.7 -4.4 12.4 -1.6 0.4 -10.5 -17.0 -1.5 -0.5 -4.5 2.3 -1.5 -0.5 -1.5 -2.0 -3 -7.7 -1.5 1.2 -4.2 16.4 -1.8 2.8 -4.5 -3.6 -1.5 -0.4 -4.5 3.8 -1.5 -0.4 -10.5 -22.4 -1.5 -0.4 -6 17.1 -6 0.3 -6 -2.3 -3 -8.3 -3 -5.1 -6 0.8 -6 -1.8 -4.5 0.3 -1.5 -0.5 -6 -5.3 -6 -1.6 -3 1.1 -3.7 13.7 -5.3 53.2 -1.5 -1.1 -4.3 -26.7 -6.2 -21.5 -6 9.2 -6 -9.7 -2.1 7.0 -3.9 28.0 -1.5 -0.8 -4.5 -23.8 -2.2 5.5 -4.7 37.5zM88.5 80.9l0 37.7 -0.5 -34.6z" fill="#f5aeae"/><path d="M522.0 10.8l3 0.1 7.5 6.0 0 37.0 -1.5 0.1 -1.5 -2.1 -7.5 -14.9 -10.4 -5.6 -1.7 -3.0 -0.5 -4.5 0.6 -1.5 9 -9.9zM469.5 19.7l3.6 1.3 5.4 3.8 0.1 2.2 -4.6 14.3 -6 7.7 -1.5 -0.3 -4.5 -2.9 -2.1 -9.8 -0.9 -1.5 -0.6 -6.0 0.7 -1.5 3.2 -3.0zM420.9 36.0l0.8 4.5 -0.1 24.0 -3.6 12.0 -3.7 22.5 -1.8 5.7 -4.5 6.9 -1.5 0.3 -12 -6.7 -4.5 -0.5 -7.5 15.6 -4.5 -2.6 -1.5 0.1 -4.5 4.6 -1.5 -0.3 -6 -19.5 -6 8.0 -6 -7.5 -6 6.6 -4.5 1.4 -1.5 -0.1 -6 -9.2 -4.5 -0.4 -1.5 0.9 -6 7.0 -6 14.5 -6 -2.0 -6 -13.9 -6 6.0 -6 10.2 -1.5 -1.7 -4.5 -9.9 -1.5 0.8 -4.5 12.6 -1.5 0.2 -10.5 -17.0 -1.5 -0.5 -4.5 2.3 -1.5 -0.5 -1.5 -2.1 -3 -7.7 -1.5 1.2 -4.3 16.7 -1.7 2.5 -4.5 -3.6 -1.5 -0.4 -4.5 3.8 -1.5 -0.4 -3.5 -6.5 -7 -15.9 -1.5 -0.4 -6 17.1 -6 0.3 -6 -2.3 -3 -8.3 -3 -5.2 -6 0.7 -6 -1.8 -4.5 0.3 -1.5 -0.5 -6 -5.3 -6 -1.6 -3 0.9 -3.9 14.3 -5.1 52.7 -1.7 -1.7 -4 -25.5 -6.2 -22.0 -6 9.0 -6 -9.8 -2.1 6.3 -2.3 18.0 -1.1 3.0 -0.6 7.6 -1.5 -0.9 -3.8 -21.7 -0.7 -2.0 -0.6 0.5 -1.6 4.5 -4.8 39.0 -5 29.9 -2.1 -10.4 -0.3 -9.0 -2.3 -21.0 -1.4 -24.0 -1.5 -3.0 -1.2 -7.5 -0.4 -25.5 0.5 -16.5 1.1 -8.9 3.6 -10.6 5.4 -9.8 1.5 0.2 3.2 5.1 4.3 15.4 3.5 -7.9 2.5 -3.6 3 -1.5 6 0.6 3 -1.4 6.7 -10.6 8.3 -8.8 1.5 0.3 2.5 2.5 5 8.5 6.9 -13.0 2.1 -2.5 22.5 -1.2 10.5 -3.2 43.5 0.0 13.5 2.1 12 0.0 10.5 -2.5 31.5 -0.3 10.5 2.8 18 1.0 27 -0.5 9 1.8 19.5 0.7 12 3.1 3 2.0 3 -1.7 1.5 0.1z" fill="#f4a5a5"/><path d="M522.0 12.0l3 0.1 1.5 0.9 6 6.1 0 34.1 -1.5 0.2 -1.5 -2.0 -7.5 -15.1 -10.5 -5.9 -1.4 -3.4 3.3 -6.0 5.6 -6.9zM469.5 22.7l1.5 0.3 3.3 2.5 2.5 3.0 0.3 1.5 -3 10.2 -6 7.9 -3.1 -1.5 -2.6 -3.0 0 -12.0 2 -4.5zM419.9 40.5l0.2 27.0 -2.4 9.0 -3.5 22.5 -1.7 5.1 -4.5 6.9 -1.5 0.4 -12 -6.7 -4.5 -0.5 -7.5 15.6 -4.5 -2.6 -1.5 0.1 -4.5 4.7 -1.5 -0.3 -6 -19.5 -6 8.0 -6 -7.5 -6 6.5 -4.5 1.4 -1.5 -0.1 -6 -9.2 -4.5 -0.4 -1.5 0.9 -6 7.1 -6 14.5 -6 -2.0 -6 -13.9 -6 6.0 -6 10.2 -1.5 -1.7 -4.5 -9.9 -1.5 0.8 -4.5 12.6 -1.5 0.2 -10.5 -17.0 -1.5 -0.5 -4.5 2.3 -1.5 -0.5 -1.5 -2.1 -3 -7.7 -1.5 1.2 -4 15.6 -2 3.7 -4.5 -3.6 -1.5 -0.4 -4.5 3.8 -1.5 -0.4 -3.3 -6.2 -7.2 -16.2 -1.5 -0.4 -6 17.1 -6 0.3 -6 -2.3 -3 -8.3 -3 -5.2 -6 0.7 -6 -1.8 -4.5 0.3 -1.5 -0.5 -6 -5.3 -6 -1.7 -3 0.8 -4 13.4 -5 53.7 -1.6 -1.2 -4.1 -25.5 -6.3 -22.5 -6 8.8 -6 -10.0 -2.3 7.1 -2.2 17.7 -1.2 3.3 -0.3 6.4 -1.5 -1.1 -0.3 -5.2 -1.2 -2.5 -2.3 -14.0 -1.9 -3.0 -0.4 -4.7 -0.2 7.7 -2.5 22.5 -4.1 30.0 -3.6 20.5 -2 -10.0 -0.3 -9.0 -1 -6.0 -2 -37.5 -0.7 -4.6 -1.5 -2.9 -0.8 -5.9 -0.2 -19.5 1.1 -24.0 3.6 -13.5 5.4 -10.9 1.6 0.4 3.3 6.0 4.1 19.6 3 -9.4 3 -5.6 3 -1.6 6 1.3 3 -1.5 6.5 -11.9 8.5 -9.8 1.5 0.4 2.9 3.4 4.6 9.7 6.5 -14.2 2.5 -3.6 22.5 -1.3 10.5 -3.5 43.5 0.0 13.5 2.3 12 0.0 10.5 -2.7 31.5 -0.4 10.5 3.1 18 1.2 27 -0.6 9 2.0 19.5 0.8 12 3.5 3 2.4 3 -0.6z" fill="#f39c9c"/><path d="M522.0 13.2l3 0.0 1.5 1.0 6 7.3 0 30.9 -1.5 0.2 -1.5 -1.9 -7.5 -15.1 -6 -2.9 -4.3 -4.2 1.8 -4.5 4.8 -7.5zM469.5 26.7l1.5 0.5 1.7 2.8 0.4 7.5 -0.5 3.0 -1.6 3.0 -3 3.1 -1.1 -1.6 0 -13.5zM418.5 44.1l0.1 27.9 -4.6 27.0 -1.5 4.6 -4.5 7.0 -1.5 0.4 -12 -6.6 -4.5 -0.5 -7.5 15.6 -4.5 -2.6 -1.5 0.1 -4.5 4.7 -1.5 -0.3 -6 -19.5 -6 8.0 -6 -7.5 -6 6.5 -4.5 1.4 -1.5 -0.1 -6 -9.2 -4.5 -0.4 -1.5 0.9 -6 7.1 -6 14.5 -6 -2.0 -6 -13.9 -6 6.0 -6 10.2 -1.5 -1.7 -4.5 -9.9 -1.5 0.7 -4.5 12.5 -1.5 0.2 -10.5 -17.0 -1.5 -0.5 -4.5 2.3 -1.5 -0.5 -1.5 -2.0 -3 -7.7 -1.5 1.2 -4.1 15.9 -1.9 3.3 -4.5 -3.6 -1.5 -0.4 -4.5 3.8 -1.5 -0.4 -10.5 -22.3 -1.5 -0.4 -6 17.1 -6 0.3 -6 -2.3 -3 -8.3 -3 -5.2 -6 0.7 -6 -1.8 -4.5 0.3 -1.5 -0.5 -6 -5.3 -6 -1.7 -3.4 1.2 -2.6 10.3 -1 1.7 -5 54.8 -1.5 -0.9 -4.1 -25.4 -6.4 -23.0 -6 8.6 -6 -10.2 -2.3 6.6 -2.2 18.1 -1.2 1.4 -0.3 1.8 -3 -4.6 -2.4 -13.7 -1.6 -27.0 0.6 -9.0 2.1 -10.5 1.7 -4.5 2.6 -3.2 1.5 -0.3 6 2.5 3 -1.8 6.5 -13.7 8.5 -10.9 1.5 0.5 3 4.1 4.5 12.1 6.2 -16.3 2.8 -4.7 22.5 -1.4 10.5 -3.8 43.5 0.0 13.5 2.5 12 0.0 10.5 -3.0 31.5 -0.4 10.5 3.4 18 1.3 19.5 0.0 7.5 -0.7 9 2.2 19.5 0.9 12 3.9 3 3.1 1.5 -0.1zM112.5 51.0l1.5 0.3 1.5 2.3 3.1 9.4 2.2 15.0 0.5 13.5 -1.3 39.3 -3.9 31.2 -5.1 30.6 -1.9 -9.6 -0.3 -9.0 -1.1 -7.5 -1.5 -36.0 -1.3 -7.8 -1.7 -5.7 -0.2 -18.0 0.6 -16.5 2 -13.5 2.6 -9.0z" fill="#f29494"/><path d="M522.0 14.3l3 0.0 1.5 1.1 6 8.9 0 27.0 -1.5 0.3 -1.5 -1.7 -7.5 -14.9 -6.6 -3.5 -1.9 -3.0 4.9 -10.5 2.2 -2.8zM164.1 60.0l5.4 -18.0 3 -5.8 22.5 -1.6 10.5 -4.2 43.5 0.0 13.5 2.8 12 0.0 10.5 -3.2 31.5 -0.4 10.5 3.7 18 1.4 19.5 0.0 7.5 -0.7 9 2.4 18 0.8 13.5 4.7 4.5 5.6 0.4 2.0 -0.3 30.0 -3.1 18.9 -1.5 4.5 -4.5 7.1 -1.5 0.4 -12 -6.5 -4.5 -0.5 -7.5 15.6 -4.5 -2.6 -1.5 0.1 -4.5 4.7 -1.5 -0.3 -6 -19.6 -6 8.0 -6 -7.5 -6 6.5 -4.5 1.4 -1.5 -0.1 -6 -9.2 -4.5 -0.4 -1.5 0.9 -6 7.2 -6 14.5 -6 -2.0 -6 -13.9 -6 6.0 -6 10.2 -1.5 -1.7 -4.5 -9.9 -1.5 0.7 -4.5 12.5 -1.5 0.2 -10.5 -17.0 -1.5 -0.5 -4.5 2.3 -1.5 -0.5 -1.5 -2.0 -3 -7.7 -1.5 1.2 -4.2 16.2 -1.8 3.0 -4.5 -3.6 -1.5 -0.4 -4.5 3.8 -1.5 -0.4 -10.5 -22.4 -1.5 -0.4 -6 17.1 -6 0.3 -6 -2.3 -3 -8.3 -3 -5.2 -6 0.6 -6 -1.8 -4.5 0.3 -1.5 -0.5 -6 -5.3 -6 -1.7 -3 0.5 -2.6 7.2 -0.4 3.3 -1.3 -0.3 -0.2 -34.5zM154.5 40.6l2.2 1.4 3.2 6.0 2.7 10.5 0.8 6.0 0 46.5 -1.1 4.5 -0.3 11.8 -1 4.7 -0.2 9.0 -1.1 6.0 -0.6 10.8 -1.5 -0.8 -4.3 -26.4 -6.2 -22.0 -6 8.2 -6 -10.9 -2.4 6.6 -0.6 9.0 -1.2 3.0 -0.3 4.2 -1.5 0.9 -1.5 -1.0 -1.5 -3.7 -1.1 -8.0 -0.9 -30.0 0.5 -7.5 1.5 -7.5 1.5 -3.4 1.5 -1.6 1.5 -0.1 4.5 4.2 1.5 0.6 1.5 -0.7 1.5 -1.7 3.1 -9.4 3.4 -7.5 3.7 -6.0zM112.5 52.9l1.5 0.4 1.5 2.5 2.8 8.8 1.5 10.5 0.8 16.5 -0.9 39.0 -1 10.5 -4.2 31.5 -3.4 19.6 -1.8 -9.1 -0.4 -10.5 -1 -6.0 -1.1 -36.0 -2.6 -15.0 -0.3 -13.5 0.6 -15.0 1.7 -16.5 2.4 -9.0z" fill="#f28b8b"/><path d="M523.5 15.1l1.5 0.4 2.5 2.6 5 10.5 -0.2 21.0 -1.3 0.7 -1.5 -1.1 -7.5 -14.6 -5.5 -2.9 -1.3 -1.5 0.2 -3.0 3 -7.5 2.1 -3.1zM165.9 58.5l4 -15.0 2.6 -5.3 22.5 -1.8 10.5 -4.6 43.5 0.0 13.5 3.0 12 0.0 10.5 -3.5 31.5 -0.5 10.5 4.0 18 1.5 19.5 0.0 7.5 -0.8 9 2.7 19.5 1.2 12 5.3 2.6 4.7 1 4.5 0.1 25.5 -0.6 8.4 -1.1 3.6 -0.4 6.2 -1.5 4.6 -4.5 7.2 -1.5 0.4 -12 -6.4 -4.5 -0.5 -7.5 15.6 -4.5 -2.6 -1.5 0.2 -4.5 4.7 -1.5 -0.3 -6 -19.6 -6 8.0 -6 -7.5 -6 6.6 -4.5 1.4 -1.5 -0.1 -6 -9.2 -4.5 -0.4 -1.5 0.9 -6 7.2 -6 14.6 -6 -2.0 -6 -13.9 -6 6.0 -6 10.2 -1.5 -1.7 -4.5 -9.9 -1.5 0.7 -4.5 12.5 -1.5 0.2 -10.5 -17.1 -1.5 -0.5 -4.5 2.3 -1.5 -0.5 -1.5 -2.0 -3 -7.7 -1.5 1.3 -4.3 16.5 -1.7 2.7 -4.5 -3.6 -1.5 -0.4 -4.5 3.8 -1.9 -1.0 -10.1 -21.7 -1.5 -0.4 -6 17.1 -6 0.3 -6 -2.3 -3 -8.4 -3 -5.2 -6 0.5 -6 -1.8 -4.5 0.3 -1.5 -0.5 -6 -5.3 -6 -1.8 -3.7 0.7 -0.8 4.6 -0.6 -0.1 -0.6 -1.5 0 -28.5zM154.5 42.6l1.7 0.9 3.1 6.0 1.9 7.5 0.7 7.5 0 60.1 -1.1 5.9 -0.3 10.5 -1 4.5 -0.6 11.7 -1.5 -0.7 -4.1 -26.0 -6.4 -22.5 -6 7.6 -0.7 -3.1 -0.2 -33.0 1.4 -10.5 4.5 -13.5 3.3 -6.0zM112.5 54.7l1.5 0.4 1.5 2.7 2.7 9.7 1.4 12.0 0.3 15.0 -1.3 46.5 -4 30.0 -3.6 20.7 -1.7 -8.7 -0.3 -10.5 -1.1 -6.0 -0.7 -33.0 -1.9 -18.0 -0.3 -18.0 0.5 -15.0 1.2 -10.5 2.3 -9.0zM129.0 72.3l1.5 0.2 1.7 2.5 1.4 7.5 -2.1 34.5 -1 5.2 -1.5 2.6 -1.5 -0.8 -1.5 -7.0 -0.5 -28.5 0.9 -10.5 1 -3.7z" fill="#f18282"/><path d="M523.5 16.1l1.5 0.4 2.6 3.0 3.3 9.0 0 12.0 -1.4 7.4 -7.5 -14.0 -4.4 -2.4 -1.3 -1.5 0.6 -4.5 2.1 -5.5 1.5 -2.4zM168.7 51.0l2 -7.5 1.7 -3.2 22.5 -2.0 10.5 -5.0 43.5 0.0 13.5 3.3 12 0.0 10.5 -3.8 31.5 -0.5 10.5 4.4 18 1.7 19.5 0.0 7.5 -0.9 9 3.0 19.5 1.3 11.7 6.3 2 4.5 0.6 4.5 0 28.5 -0.7 11.0 -1.5 4.9 -4.5 7.3 -1.5 0.5 -12 -6.4 -4.5 -0.4 -7.5 15.6 -4.5 -2.5 -1.5 0.2 -4.5 4.8 -1.5 -0.3 -6 -19.6 -6 8.0 -6 -7.5 -6 6.5 -4.5 1.4 -1.5 -0.1 -6 -9.1 -4.5 -0.4 -1.5 0.9 -6 7.2 -6 14.6 -6 -2.0 -6 -13.9 -6 6.0 -6 10.2 -1.5 -1.7 -4.5 -9.9 -1.5 0.7 -4.5 12.5 -1.5 0.1 -10.5 -17.1 -1.5 -0.5 -4.5 2.3 -1.5 -0.5 -1.5 -2.0 -3 -7.7 -1.7 1.7 -4.2 16.5 -1.6 2.4 -4.5 -3.6 -1.5 -0.4 -4.5 3.8 -1.7 -0.7 -10.3 -22.0 -1.5 -0.4 -6 17.1 -6 0.3 -6 -2.3 -3 -8.4 -3 -5.3 -6 0.5 -6 -1.8 -4.5 0.3 -1.5 -0.4 -6 -5.4 -9 -2.1 -0.9 -1.5 0 -24.0zM154.5 44.6l1.5 0.8 3 6.3 2.2 12.9 0.1 60.0 -2.3 32.1 -1.5 -0.6 -4 -25.5 -6.5 -23.1 -4.5 5.3 -0.5 -1.7 -0 -33.0 0.8 -7.5 4.2 -13.5 3.1 -6.0zM112.5 56.5l1.5 0.4 1.5 3.0 2.4 9.1 1.3 12.0 0.3 15.0 -1 44.1 -4 30.9 -3.5 20.2 -1.6 -8.2 -1.1 -16.5 -0.7 -33.0 -1.6 -19.5 -0.4 -18.0 1.6 -22.5 2.2 -9.0zM129.0 81.6l0.9 3.9 -0.9 32.2 -0.7 -2.2 -0.4 -27.0z" fill="#f07979"/><path d="M523.5 17.2l1.5 0.4 1.8 1.9 2.1 4.5 1.1 4.5 -0.6 15.0 -1.4 1.5 -6 -11.7 -3.5 -1.9 -1.3 -1.5 0.1 -3.0 1.9 -6.0 1.2 -2.1zM169.6 51.0l2.9 -8.5 22.5 -2.3 10.5 -5.5 43.5 0.0 13.5 3.6 12 0.0 10.5 -4.2 31.5 -0.5 10.5 4.7 18 1.9 19.5 0.0 7.5 -1.0 9 3.4 18 1.3 8.2 4.1 3.5 3.0 2 3.0 0.4 40.5 -0.6 5.8 -4.5 7.8 -1.5 0.4 -12 -6.1 -4.5 -0.4 -2 3.1 -4 10.3 -1.5 2.2 -4.5 -2.5 -1.5 0.2 -4.5 4.8 -1.5 -0.3 -6 -19.6 -6 8.0 -6 -7.5 -6 6.5 -4.5 1.5 -1.5 -0.1 -6 -9.1 -4.5 -0.3 -1.5 0.9 -6 7.3 -6 14.7 -6 -2.0 -6 -13.9 -6 6.0 -6 10.2 -1.5 -1.7 -4.5 -9.9 -1.5 0.7 -4.5 12.4 -1.5 0.1 -10.5 -17.1 -1.5 -0.5 -4.5 2.3 -1.5 -0.5 -1.5 -2.0 -3 -7.6 -1.8 2.0 -4.2 16.5 -1.5 2.0 -4.5 -3.6 -1.5 -0.4 -4.5 3.8 -1.5 -0.4 -10.5 -22.3 -1.5 -0.4 -6 17.1 -6 0.3 -6 -2.3 -3 -8.4 -3 -5.3 -6 0.4 -6 -1.9 -4.5 0.3 -1.5 -0.5 -6 -5.3 -7.5 -2.1 -1 -1.0 -0.1 -25.5zM154.5 46.7l1.5 0.9 2.7 6.4 1.8 12.0 0 73.5 -1.1 4.5 -0.4 12.0 -1.5 -0.5 -3.9 -25.0 -6.6 -23.7 -3 3.0 -0.5 -1.9 -0 -30.0 0.7 -7.5 3.5 -12.0zM112.5 58.3l1.5 0.5 1.3 2.7 2.3 9.0 1.3 12.0 0.3 15.0 -0.8 42.0 -2.6 22.5 -4.7 28.8 -1.6 -9.3 -3.2 -85.5 1.5 -21.0 2 -9.0z" fill="#f07171"/><path d="M523.5 18.2l1.5 0.5 1.5 1.7 2.4 6.6 0.3 10.5 -1.2 6.6 -6 -11.3 -4 -2.8 -0 -3.0 1.3 -4.5 1.8 -3.0zM170.7 49.5l1.8 -4.6 22.5 -2.6 4.6 -3.3 5.9 -2.9 43.5 0.0 13.5 4.0 12 0.0 10.5 -4.6 31.5 -0.6 10.5 5.2 18 2.1 19.5 0.0 7.5 -1.1 9 3.9 18 1.5 3.2 1.4 3.8 3.0 2.4 3.0 1.1 3.0 0 46.5 -1.5 3.3 -1.5 0.7 -12 -5.8 -4.5 -0.5 -2.3 3.7 -3.7 9.7 -1.5 2.3 -4.5 -2.5 -1.5 0.2 -4.5 4.9 -1.5 -0.3 -6 -19.6 -6 8.0 -6 -7.5 -6 6.6 -4.5 1.5 -1.5 -0.1 -6 -9.1 -4.5 -0.4 -1.5 0.9 -6 7.4 -6 14.7 -6 -2.0 -6 -13.9 -6 6.0 -6 10.2 -1.5 -1.7 -4.5 -9.9 -1.5 0.8 -4.5 12.4 -1.5 0.1 -10.5 -17.2 -1.5 -0.5 -4.5 2.3 -1.5 -0.5 -1.5 -2.0 -3 -7.6 -1.9 2.4 -4.1 16.2 -1.5 2.1 -4.5 -3.6 -1.5 -0.4 -4.5 3.8 -1.5 -0.4 -10.5 -22.3 -1.5 -0.4 -6 17.1 -6 0.3 -6 -2.3 -3 -8.4 -3 -5.3 -6 0.3 -6 -1.9 -4.5 0.3 -1.5 -0.5 -6 -5.4 -7.4 -2.6 -0.3 -27.0zM154.5 48.8l1.5 1.0 1.7 4.1 2 12.0 0 73.5 -0.8 15.6 -1.5 -0.1 -3.8 -24.5 -6.7 -24.5 -1.5 1.0 -0.4 -0.5 -0 -30.0 0.6 -6.0 3.5 -12.0zM112.5 60.1l1.5 0.6 1.1 2.4 2.3 9.0 1.3 13.5 -0.6 54.0 -0.8 10.5 -6.1 40.3 -1.5 -8.8 -2.8 -85.5 1.6 -21.0 2 -9.0z" fill="#ef6868"/><path d="M523.5 19.3l1.5 0.5 1.5 1.9 1.8 5.3 0.5 6.0 -0.8 9.3 -1.5 -0.9 -4.5 -9.1 -3 -2.0 -0.6 -1.7 2.1 -6.9zM171.0 52.3l1.5 -4.6 22.5 -3.2 5 -4.0 5.5 -2.9 43.5 0.0 13.5 4.4 12 0.0 10.5 -5.1 31.5 -0.6 4.5 1.9 6 3.8 18 2.5 19.5 0.0 7.5 -1.3 9 4.7 18 2.0 2.2 1.1 2.6 3.0 1.3 4.5 0 46.5 -1.5 0.1 -9 -4.1 -4.5 -0.3 -2.1 2.9 -3.9 10.6 -1.5 2.1 -4.5 -2.3 -1.5 0.2 -4.5 4.9 -1.5 -0.3 -6 -19.7 -6 8.0 -6 -7.5 -6 6.6 -4.5 1.5 -1.5 -0.1 -6 -9.1 -4.5 -0.3 -1.5 1.0 -6 7.4 -6 14.7 -6 -2.0 -6 -13.9 -6 6.0 -6 10.2 -1.5 -1.7 -4.5 -9.9 -1.5 0.7 -4.5 12.4 -1.5 0.1 -10.5 -17.3 -1.5 -0.5 -4.5 2.3 -1.5 -0.5 -1.5 -2.0 -3 -7.6 -2.1 2.8 -3.9 15.8 -1.5 2.1 -4.5 -3.6 -1.5 -0.4 -4.5 3.8 -1.5 -0.4 -4.5 -8.5 -6 -13.8 -1.5 -0.4 -6 17.1 -6 0.3 -6 -2.3 -2.9 -8.1 -3.1 -5.6 -6 0.1 -6 -1.9 -6 -0.2 -6 -5.5 -5.6 -2.0 -1.1 -1.5 0 -27.0zM154.5 51.1l1.5 1.2 1.5 4.3 1.5 10.9 -0 85.5 -1.5 1.4 -0.4 -5.9 -1.1 -2.4 -2.5 -17.1 -6.9 -25.5 0.5 -33.0 2.9 -10.5zM112.5 61.8l1.5 0.6 3.3 12.6 1 12.0 0.1 18.0 -1.3 45.0 -4.5 31.4 -1 1.6 -0.5 6.7 -1.2 -9.7 -2.6 -84.0 1.4 -19.5 1.5 -7.5z" fill="#ee5f5f"/><path d="M523.5 20.4l1.5 0.6 1.5 2.1 1.5 5.4 -0.2 10.5 -1.4 1.8 -4.5 -9.1 -2.5 -1.7 -0.5 -1.5 1.5 -5.4 1.5 -2.0zM171.8 54.0l0.7 -2.8 22.5 -4.2 5.4 -5.0 5.1 -2.9 43.5 0.0 13.5 4.9 12 0.0 10.5 -5.7 31.5 -0.7 5.7 2.8 4.8 3.6 18 2.9 19.5 0.0 7.5 -1.6 9 6.1 13.8 2.5 4.2 1.3 1.3 1.7 0.2 43.5 -1.5 1.5 -4.5 -2.3 -4.5 -0.2 -2.7 4.0 -1.8 6.0 -3 6.0 -4.5 -2.3 -1.5 0.3 -4.5 5.1 -1.5 -0.3 -6 -19.8 -6 8.1 -6 -7.5 -6 6.5 -6 1.5 -6 -9.0 -4.5 -0.3 -1.5 0.9 -6 7.5 -6 14.8 -6 -2.0 -6 -13.9 -6 6.0 -6 10.2 -1.5 -1.7 -4.5 -9.9 -1.5 0.7 -4.5 12.3 -1.5 0.1 -10.5 -17.3 -1.5 -0.5 -4.5 2.2 -1.5 -0.4 -1.5 -1.9 -3 -7.5 -1.7 1.7 -4.3 17.0 -1.5 2.0 -4.5 -3.6 -1.5 -0.4 -4.5 3.8 -1.5 -0.4 -10.5 -22.4 -1.5 -0.4 -6 17.1 -6 0.3 -6 -2.3 -2.7 -7.8 -3.3 -6.0 -6 0.0 -6 -2.0 -4.5 0.3 -1.5 -0.6 -6 -5.4 -4.5 -1.6 -1.1 -1.2zM154.5 53.5l1.5 1.5 1.1 3.5 1.2 9.0 0 84.0 -0.8 2.0 -0.4 -6.5 -1.1 -1.4 -2.3 -16.6 -5.2 -19.3 -0.3 -6.2 0.3 -33.0 2.3 -9.0zM112.5 63.6l1.5 0.7 3 12.2 1 12.0 0 18.0 -1.1 43.5 -4.4 30.9 -1.2 2.1 -0.3 6.1 -3.3 -93.1 1.2 -18.0z" fill="#ee5757"/><path d="M523.5 21.5l1.5 0.6 1.2 1.9 1.3 4.5 0.1 7.5 -1.1 4.0 -4.5 -8.9 -1.7 -1.1 -0.6 -1.5 1.2 -4.5zM175.2 57.0l4.7 -3.0 15.2 -4.0 4.2 -5.0 6.3 -4.3 43.5 0.0 4.4 1.3 9.1 4.3 12 0.0 10.5 -6.4 31.5 -0.8 5.4 2.9 5.1 4.3 18 3.7 19.5 0.0 7.5 -2.0 5.2 4.6 2.1 4.5 0.1 54.0 -2.8 1.7 -4.5 5.3 -1.5 -0.3 -3.7 -14.2 -2.3 -5.6 -6 8.0 -6 -7.5 -6 6.7 -6 1.5 -6 -9.0 -4.5 -0.3 -2.3 1.8 -5.2 6.8 -6 14.9 -6 -2.0 -6 -13.9 -6 6.0 -6 10.2 -1.5 -1.7 -4.5 -9.9 -1.5 0.7 -4.5 12.3 -1.5 0.1 -10.5 -17.4 -1.5 -0.6 -4.5 2.3 -1.5 -0.4 -1.5 -2.0 -3 -7.5 -1.9 2.1 -4.1 16.6 -1.5 2.0 -4.5 -3.5 -1.5 -0.4 -4.5 3.8 -1.5 -0.4 -10.5 -22.4 -1.5 -0.4 -6 17.1 -6 0.3 -6 -2.3 -2.5 -7.5 -3.5 -6.4 -4.5 -0.0 -7.5 -2.3 -5.8 -0.3 -8.3 -7.5zM154.5 56.1l1.6 2.4 1.3 9.0 0 84.2 -0.1 -6.2 -1.4 -0.5 -2.1 -16.0 -3.9 -14.7 -0.2 -42.3 1.4 -7.5zM112.5 65.4l1.5 0.7 2.8 11.9 0.9 12.0 0 18.0 -1 42.0 -4.2 30.5 -1.3 1.0 -0.2 6.4 -2.9 -91.9 1.1 -16.5z" fill="#ed4e4f"/><path d="M523.5 22.7l1.9 1.3 1.6 4.5 0.2 6.0 -0.7 4.6 -4.5 -8.7 -1.7 -1.9 1.5 -4.5zM191.3 57.0l3.7 -2.5 1.5 -3.5 3.4 -4.5 5.6 -4.1 43.5 0.0 6 2.2 7.5 4.3 12 0.0 10.5 -7.5 31.5 -0.8 5 2.9 5.5 5.4 10.5 2.6 7.5 3.0 19.5 0.0 7.5 -3.5 2.4 2.9 1.1 3.0 -0.3 55.5 -3.3 4.8 -1.5 -0.3 -1.9 -9.0 -1.1 -1.3 -0.3 -3.2 -2.7 -7.0 -6 8.3 -6 -7.6 -6 6.5 -6 1.7 -6 -8.8 -4.5 -0.2 -2.8 2.5 -4.7 6.4 -6 15.0 -6 -2.0 -6 -13.9 -6 6.0 -6 10.2 -1.5 -1.7 -4.5 -9.9 -1.5 0.8 -4.5 12.2 -1.5 0.0 -10.5 -17.6 -1.5 -0.5 -4.5 2.3 -1.5 -0.4 -1.5 -1.8 -3 -7.4 -2.1 2.6 -3.9 16.2 -1.5 2.1 -4.5 -3.6 -1.5 -0.4 -4.5 3.8 -1.5 -0.4 -10.5 -22.3 -1.5 -0.5 -6 17.1 -7.3 -0.1 -4.7 -1.9 -2.4 -7.1 -3.6 -6.9 -5.7 -0.6 -3.4 -1.5 -1 -1.5zM154.5 59.0l1.5 2.7 0.8 7.3 0 73.5 -0.8 1.8 -0.3 -6.3 -1.2 -2.3 -0.4 -6.7 -2.6 -10.1 -0.2 -46.9 0.9 -6.0zM112.5 67.2l1.5 0.8 2.1 8.5 1.3 21.0 -0.9 51.0 -1 12.0 -3 19.5 -1.3 -1.5 -1.1 -18.0 -1.7 -60.0 0.9 -18.0z" fill="#ec4548"/><path d="M523.5 24.0l1.5 0.9 1.4 3.7 0.1 7.7 -1.5 0.2 -3.9 -7.9 0.7 -3.0zM335.3 57.0l0.3 37.5 -5.6 1.0 -3 2.9 -5.3 8.2 -5.2 13.5 -6 -2.1 -6 -13.9 -6 6.0 -6 10.2 -1.5 -1.7 -4.5 -9.9 -1.5 0.8 -4.5 12.1 -1.5 -0.0 -3.8 -7.4 -6.7 -10.4 -1.5 -0.7 -4.5 2.4 -1.5 -0.2 -1.5 -1.8 -3 -7.3 -2.3 3.0 -3.7 15.8 -1.5 2.1 -4.5 -3.6 -1.5 -0.4 -4.5 3.8 -1.5 -0.4 -4.5 -8.5 -5.7 -13.4 -1.8 -0.9 -6 17.1 -6 0.3 -6 -2.4 -2.8 -8.1 -3.2 -5.9 -3 -0.4 -1.5 -1.2 0.3 -37.5 2.8 -6.0 2.9 -3.3 3 -2.1 43.5 0.0 6 2.6 7.5 5.7 12 0.0 5.6 -5.8 4.9 -3.4 31.5 -0.9 6.2 4.3 4.3 5.8 4.3 1.7zM154.5 62.7l1.5 6.3 -0 73.6 -0 -6.1 -1.5 -1.4 -1.7 -16.6 0 -46.5zM112.5 69.0l1.5 0.9 1.9 8.1 1.2 22.5 -0.9 49.5 -0.7 10.0 -3 19.4 -0.9 -2.4 -1.4 -19.5 -1.4 -57.0 1 -18.0z" fill="#eb3d40"/><path d="M523.5 25.4l1.5 1.1 1 3.6 -0 4.5 -0.9 1.1 -2.9 -7.1 -0.1 -1.5zM285.0 44.8l31.5 -1.0 5.4 4.2 3.6 5.6 0.9 4.9 -0 39.0 -4.3 7.5 -5.6 14.6 -6 -2.0 -6 -13.9 -6 6.0 -6 10.2 -1.5 -1.8 -4.5 -9.9 -1.9 1.3 -4.1 11.4 -1.5 -0.1 -3 -6.4 -0.3 -57.3 2.6 -6.0zM205.5 46.0l43.5 0.0 1.9 0.5 4.6 3.0 4.2 4.5 1.2 4.5 -0 43.5 -1.4 0.3 -0.2 -1.8 -2.8 -5.3 -1.5 1.4 -4.5 17.7 -1.5 2.0 -4.5 -3.5 -1.5 -0.3 -4.5 3.7 -1.5 -0.4 -4.5 -8.5 -6 -13.8 -1.5 -0.4 -6 17.0 -6 0.3 -6 -2.3 -2.5 -7.7 -3.1 -6.0 -2.9 -1.5 0 -36.0 2.1 -6.0zM112.5 70.9l1.5 1.0 1.7 7.7 1.2 22.5 -1.4 57.0 -3 19.8 -2.2 -24.3 -1.1 -54.0 0.9 -16.5z" fill="#ea3439"/><path d="M523.5 27.1l1.5 1.5 0.3 1.4 -0.3 4.7 -1.9 -4.7zM285.0 46.8l31.5 -1.2 4.5 3.9 2.6 4.5 0.8 4.5 -0 40.5 -7.9 20.2 -6 -2.0 -6 -13.9 -6.2 6.3 -5.8 9.8 -1.5 -1.7 -4.5 -9.9 -2.3 1.8 -3.7 10.7 -1.5 -0.2 -0.9 -4.5 0.1 -58.5 2.4 -5.7zM205.5 48.2l43.5 0.0 2.9 1.3 4.4 4.5 1.3 4.5 0 34.5 -3.6 4.5 -0.5 4.5 -0.9 1.5 -2.1 10.4 -1.5 2.0 -4.5 -3.5 -1.5 -0.4 -4.5 3.9 -1.5 -0.3 -6 -11.8 -4.5 -10.6 -1.5 -0.5 -6 17.1 -6 0.2 -6 -2.3 -2.2 -7.2 -4.3 -9.0 0 -34.5 1.4 -4.5zM112.5 72.8l1.5 1.0 1.5 7.2 1.1 22.5 -1.2 54.0 -2.9 19.8 -2 -22.8 -1 -52.5 0.7 -16.5z" fill="#e92b31"/><path d="M316.5 47.6l2.4 1.9 2 3.0 1.5 6.0 0 43.5 -5.9 16.8 -6 -2.1 -6 -14.0 -6.6 6.8 -5.4 9.4 -1.5 -1.7 -4.5 -10.0 -2.6 2.3 -1.9 6.2 -1.5 1.3 -0 1.6 -0.1 -60.1 0.9 -4.5 3.7 -5.0zM205.5 50.8l43.5 0.0 1.5 0.4 2.4 2.7 1.3 4.5 0 36.0 -0.7 6.3 -1.3 2.7 -1.7 9.6 -1.5 2.2 -4.5 -3.7 -1.5 -0.3 -4.5 3.8 -1.5 -0.4 -4.5 -8.4 -5.4 -13.3 -2.1 -1.0 -2.4 5.5 -3.6 11.6 -6 0.4 -6 -2.5 -4.5 -12.5 0 -37.5 1.4 -4.5zM112.5 74.7l1.5 1.2 1.5 8.0 0.8 22.6 -1.1 51.0 -1.2 11.8 -1 1.7 -0.5 3.5 -1.9 -21.5 -0.9 -51.0 0.7 -15.0z" fill="#e9232a"/><path d="M285.0 51.8l31.5 -2.0 3 4.0 0.9 4.6 0 46.5 -0.9 5.0 -3 8.2 -6 -2.1 -6 -13.9 -1.9 1.3 -5.1 6.0 -5 8.7 -1.5 -1.8 -4.5 -9.8 -2.6 1.4 -0.6 3.0 -0.6 -1.5 0 -51.0 0.4 -3.0zM205.5 54.9l43.5 0.0 1.5 1.1 0.4 49.0 -0.4 6.6 -1.5 2.6 -6 -4.2 -4.5 4.1 -1.5 -0.2 -3.3 -7.5 -1.2 -1.3 -0.2 -1.7 -1.3 -1.4 -3.2 -9.1 -2.8 -2.2 -1.4 2.2 -0.1 2.0 -1 1.0 -0.5 3.4 -1.1 1.1 -0.4 3.3 -1.2 1.2 -0.3 3.2 -7.5 -0.1 -4.5 -2.2 -0.2 -2.4 -1.3 -1.4 -0.8 -4.6 -0 -39.0zM112.5 76.7l1.5 1.3 1.5 9.0 0.6 21.0 -0.9 48.0 -1.1 12.4 -1.5 3.6 -1.7 -19.1 -0.8 -48.0 0.6 -16.5z" fill="#e61c24"/><path d="M287.1 57.0l6.3 -1.5 23.1 -2.5 1.5 2.4 0.4 54.2 -1.9 7.9 -6 -2.0 -1.9 -5.9 -1.1 -1.1 -0.3 -1.9 -2.7 -5.4 -7.1 6.9 -0.4 1.6 -4.2 5.9 -0.3 1.6 -1.5 -1.6 -1.7 -6.0 -1.3 -1.4 -0.1 -1.6 -2 -1.5 0 -46.5zM112.5 78.8l1.5 1.5 1 6.7 0.8 22.5 -0.9 46.5 -0.9 10.9 -1.5 3.1 -1.5 -18.4 -0.7 -45.0 0.4 -15.0z" fill="#db1c24"/><path d="M112.5 81.0l1.5 1.7 0.8 5.8 0.7 22.5 -0.8 45.0 -0.7 8.8 -1.5 3.2 -1.3 -16.5 -0.6 -42.0 0.4 -16.5z" fill="#d11c23"/><path d="M112.5 83.4l1.5 1.9 0.6 4.7 0.7 21.0 -0.6 43.5 -0.6 8.2 -1.5 3.4 -1.1 -14.6 -0.5 -40.5 0.3 -15.0z" fill="#c61c23"/><path d="M112.5 85.9l1.5 2.3 1 24.3 -1 48.0 -1.5 3.6 -0.9 -12.7 -0.5 -39.0 0.3 -15.0z" fill="#bc1c22"/><path d="M112.5 88.7l1.6 4.3 0.6 21.0 -0.7 44.1 -1.5 4.1 -0.7 -10.7 -0.4 -37.5z" fill="#b11c22"/><path d="M112.5 91.9l1.5 4.4 0.4 19.2 -0.4 39.0 -1.5 5.6 -0.8 -44.6z" fill="#a71c21"/><path d="M112.5 96.1l1.5 9.5 -0.2 44.4 -1.3 7.8 -0.5 -40.8z" fill="#9d1b1f"/><path d="M112.5 103.7l0.9 14.8 -0.9 36.2z" fill="#931b1e"/><path d="M78.0 3.7l4.5 3.4 2 3.4 1 6.0 -0.2 7.5 -0.6 3.0 -5.2 9.8 -1.5 4.3 -2.6 13.0 -1.9 5.7 -1.5 -0.5 -3 -4.3 -1.5 0.4 -3 2.8 -3 7.6 -4.5 22.7 -1.5 2.2 -1.8 -2.0 -4.4 -10.5 -2.8 -2.5 -1.5 0.4 -1.5 1.9 -1.2 3.3 -3.5 15.0 -1.2 1.5 -4.5 1.2 -4.5 2.3 -3 -0.3 -3.6 -4.8 -6.1 -13.5 -4.7 -12.0 -2.9 -10.5 -0.9 -9.0 -0.6 -24.0 0.9 -10.5 1.8 -6.0 2.5 -3.5 3 -2.4 7.5 -2.6 46.5 -0.2 4.5 0.4z" fill="#f4f2f8"/><path d="M75.0 22.1l2.2 3.4 0.4 4.5 -4 25.3 -1.5 -0.3 -4.5 -12.8 -1.5 0.6 -4.5 14.5 -4.5 25.0 -1.5 2.2 -1.3 -1.9 -4.7 -16.3 -1.5 -3.0 -1.5 -1.1 -1.5 0.4 -3 3.3 -1.5 3.5 -3.4 16.3 -1.8 4.5 -5.3 6.2 -3 1.4 -1.5 -0.5 -3 -4.1 -4.1 -10.5 -2.5 -9.0 -2.8 -15.0 -1.7 -30.0 0.8 -7.5 2.1 -6.0 2.2 -2.5 3 -1.6 4.5 -0.8 6 0.1 7.5 1.5 9 3.7 9 -1.0 5.1 0.6 3.6 1.5 4.8 4.1z" fill="#ebe9f3"/><path d="M25.5 14.4l6 1.1 3.5 2.5 2.6 4.5 1.3 7.5 -2.2 30.0 -2.6 21.0 -3 9.0 -2.2 3.0 -1.9 1.0 -1.9 -1.0 -2.6 -4.1 -3.8 -12.4 -2.7 -19.5 -1.5 -25.5 0.8 -7.5 1.7 -4.5 4 -4.0zM55.5 20.8l3 1.0 1.5 2.1 1.2 4.5 0.3 4.5 -0.7 15.0 -2.2 19.5 -1.6 8.9 -1.5 2.4 -1.7 -3.8 -1.7 -10.5 -1.7 -31.5 0.3 -4.5 1.3 -4.5 2 -2.6zM73.5 27.5l1.4 2.5 0.2 3.0 -1.6 14.0 -1.5 0.5 -1.6 -15.9 1.6 -3.9z" fill="#e2dfee"/><path d="M25.5 18.6l4.5 1.1 2.9 2.8 1.9 4.5 0.8 6.0 -0.5 13.5 -2.5 30.0 -2.1 9.0 -2 3.6 -1.5 1.0 -1.5 -0.5 -2.5 -4.1 -2.8 -10.5 -1.9 -18.0 -1.2 -24.0 0.7 -6.0 1.7 -4.5 3 -3.0zM55.5 26.1l1.5 0.3 1.4 2.2 0.8 4.5 -2.2 36.2 -1.5 3.1 -1.6 -7.8 -1.1 -31.5 0.8 -4.5z" fill="#d9d5e8"/><path d="M25.5 23.0l3 0.7 3 3.5 1.4 4.3 0.5 7.5 -2.2 36.0 -1.8 7.5 -2.5 3.5 -1.5 -0.4 -1.5 -2.2 -2.3 -8.4 -2.3 -33.0 0.1 -9.0 0.8 -4.5 2.2 -3.9z" fill="#d0cce3"/><path d="M25.5 27.9l3 0.9 1.5 1.9 1.4 5.3 0.5 6.0 -1.6 30.0 -1.6 7.5 -1.7 2.4 -1.5 -0.5 -1 -1.9 -1.5 -6.0 -1.8 -30.0 1.1 -12.0 1.8 -2.8z" fill="#c7c2de"/><path d="M27.0 32.8l2.2 3.2 1.2 7.5 -0.9 24.0 -1 6.8 -1.5 3.1 -1.5 -0.8 -1.5 -6.1 -1.2 -27.0 1.2 -8.3 1.5 -2.3z" fill="#bfb8d9"/><path d="M27.0 39.1l1.2 2.9 -0.2 22.5 -1 6.1 -1.5 -2.4 -0.7 -23.2 0.7 -5.0z" fill="#b6aed3"/>
</g>
<polyline points="0.0,182.3 1.3,182.1 6.1,180.7 13.3,183.9 19.2,182.5 25.3,193.5 31.2,177.1 37.5,150.6 43.2,147.0 49.5,138.6 55.7,147.5 61.6,132.7 67.9,143.5 73.6,147.5 79.9,157.8 85.8,152.9 92.1,164.2 98.0,137.4 104.1,152.4 110.5,215.1 122.5,138.6 128.4,169.9 134.3,128.5 141.0,138.8 146.9,128.1 152.8,147.3 158.5,182.2 164.8,123.1 171.4,119.0 176.8,120.4 183.6,126.3 189.3,125.8 195.2,127.6 201.1,126.3 207.2,143.1 213.1,144.9 219.0,144.6 225.6,125.8 231.9,140.6 237.6,151.4 243.5,146.4 249.8,151.4 256.1,127.6 262.0,132.4 267.9,129.4 279.9,148.5 285.8,131.7 292.1,145.5 298.4,134.7 304.3,128.1 310.4,142.4 316.3,144.9 322.5,130.3 329.3,122.7 334.2,122.7 340.8,132.9 346.7,131.1 352.6,124.5 358.7,132.4 364.6,124.0 370.9,144.9 377.1,138.8 383.0,142.4 389.4,126.5 394.6,127.1 401.0,130.4 407.4,134.8 413.6,125.7 419.0,93.1 425.3,75.7 431.1,50.4 437.3,47.5 443.7,41.1 450.1,44.2 455.9,38.8 461.7,61.1 467.6,63.6 473.8,56.3 479.6,40.3 485.8,33.4 492.2,43.6 498.0,33.4 504.4,29.5 510.6,45.0 516.5,46.2 522.7,43.6 529.1,63.0 530.5,66.5" fill="none" stroke="#000" stroke-width="2.1" stroke-linejoin="round"/>
</g>
<line x1="815.5" y1="34.5" x2="1346.0" y2="34.5" stroke="#8c8c8c" stroke-width="1.3"/>
<path d="M815.5,33.9 V259.5 H1346.0 V33.9" fill="none" stroke="#2b2b2b" stroke-width="2.2"/>
<text transform="translate(845.81,288.00) scale(1.015,1)" text-anchor="middle" font-size="25.0" font-weight="normal" >750</text>
<text transform="translate(997.39,288.00) scale(1.015,1)" text-anchor="middle" font-size="25.0" font-weight="normal" >700</text>
<text transform="translate(1148.96,288.00) scale(1.015,1)" text-anchor="middle" font-size="25.0" font-weight="normal" >650</text>
<text transform="translate(1300.53,288.00) scale(1.015,1)" text-anchor="middle" font-size="25.0" font-weight="normal" >600</text>
<text transform="translate(807.50,42.70) scale(1.015,1)" text-anchor="end" font-size="25.0" font-weight="normal" >0</text>
<text transform="translate(807.50,117.70) scale(1.015,1)" text-anchor="end" font-size="25.0" font-weight="normal" >-10</text>
<text transform="translate(807.50,192.70) scale(1.015,1)" text-anchor="end" font-size="25.0" font-weight="normal" >-20</text>
<text transform="translate(807.50,267.70) scale(1.015,1)" text-anchor="end" font-size="25.0" font-weight="normal" >-30</text>
<text transform="translate(1080.75,316.50) scale(1.08,1)" text-anchor="middle" font-size="25.0" font-weight="normal" >distance[km]</text>
<text transform="translate(761.1,147.0) rotate(-90) scale(1.27,1)" text-anchor="middle" font-size="22">depth [m]</text>
<text x="731.6" y="24.0" font-size="28.8" font-weight="bold">B</text>
<linearGradient id="cbgB" x1="0" y1="1" x2="0" y2="0"><stop offset="0.0000" stop-color="#28308a"/><stop offset="0.1250" stop-color="#3a50a0"/><stop offset="0.2500" stop-color="#5a56a8"/><stop offset="0.3750" stop-color="#b0a8d0"/><stop offset="0.5000" stop-color="#ffffff"/><stop offset="0.6250" stop-color="#f4a8a8"/><stop offset="0.7500" stop-color="#ee5a5a"/><stop offset="0.8500" stop-color="#e81c24"/><stop offset="0.9250" stop-color="#b01c22"/><stop offset="1.0000" stop-color="#7a1a1a"/></linearGradient><rect x="1353.45" y="35.55" width="14.99999999999991" height="223.4" fill="url(#cbgB)" stroke="#1e2626" stroke-width="2.1"/>
<text transform="translate(1375.30,269.00) scale(1.015,1)" text-anchor="start" font-size="25.0" font-weight="normal" >-0.01</text>
<text transform="translate(1375.30,212.62) scale(1.015,1)" text-anchor="start" font-size="25.0" font-weight="normal" >-0.005</text>
<text transform="translate(1375.30,156.25) scale(1.015,1)" text-anchor="start" font-size="25.0" font-weight="normal" >0</text>
<text transform="translate(1375.30,99.88) scale(1.015,1)" text-anchor="start" font-size="25.0" font-weight="normal" >0.005</text>
<text transform="translate(1375.30,43.50) scale(1.015,1)" text-anchor="start" font-size="25.0" font-weight="normal" >0.01</text>
<path d="M1368.5,203.6 h-4 M1368.5,147.2 h-4 M1368.5,90.9 h-4" stroke="#222" stroke-width="1.6" fill="none"/>
<path d="M109.8,605.6 v-6 M261.6,605.6 v-6 M413.3,605.6 v-6 M565.1,605.6 v-6 M79.5,455.6 h6 M610.6,455.6 h-6 M79.5,530.6 h6 M610.6,530.6 h-6" stroke="#2b2b2b" stroke-width="2" fill="none"/>
<g transform="translate(79.5,380.6)">
<clipPath id="clipC"><polygon points="0,0 531.1,0 531.1,66.5 531.1,66.5 529.7,63.0 523.3,43.6 517.1,46.2 511.2,45.0 505.0,29.5 498.6,33.4 492.8,43.6 486.3,33.4 480.1,40.3 474.3,56.3 468.1,63.6 462.2,61.1 456.4,38.8 450.6,44.2 444.2,41.1 437.8,47.5 431.6,50.4 425.8,75.7 419.5,93.1 414.1,125.7 407.9,134.8 401.5,130.4 395.0,127.1 389.8,126.5 383.4,142.4 377.5,138.8 371.3,144.9 365.0,124.0 359.1,132.4 353.0,124.5 347.1,131.1 341.2,132.9 334.6,122.7 329.7,122.7 322.9,130.3 316.7,144.9 310.8,142.4 304.6,128.1 298.7,134.7 292.4,145.5 286.1,131.7 280.2,148.5 268.2,129.4 262.3,132.4 256.4,127.6 250.1,151.4 243.8,146.4 237.9,151.4 232.2,140.6 225.9,125.8 219.2,144.6 213.3,144.9 207.4,143.1 201.3,126.3 195.4,127.6 189.5,125.8 183.8,126.3 177.0,120.4 171.6,119.0 165.0,123.1 158.7,182.2 153.0,147.3 147.1,128.1 141.2,138.8 134.5,128.5 128.5,169.9 122.6,138.6 110.6,215.1 104.2,152.4 98.1,137.4 92.2,164.2 85.9,152.9 80.0,157.8 73.7,147.5 68.0,143.5 61.7,132.7 55.8,147.5 49.6,138.6 43.2,147.0 37.5,150.6 31.2,177.1 25.3,193.5 19.2,182.5 13.3,183.9 6.1,180.7 1.3,182.1 0.0,182.3"/></clipPath>
<g clip-path="url(#clipC)">
<rect x="-1" y="-1" width="533.1" height="227.0" fill="#ffffff"/><path d="M460.5 0.0l73.5 -0.0 0 61.3 -3 -0.2 -0.7 -1.1 -5.3 -16.2 -3 -1.0 -3 -2.2 -7.5 -1.6 -3.8 -3.1 -3.7 -12.1 -1.8 0.1 -4.2 2.8 -4.5 7.5 -1.5 -0.0 -6 -8.7 -6 7.0 -6 16.1 -6 6.5 -3.8 -2.7 -2.2 -2.8 -4.1 -24.2 0.2 -16.5zM174.9 30.0l2.1 -5.6 2.3 -3.4 9.2 -7.5 15.5 -6.2 9 -2.0 31.5 -0.6 100.5 0.8 13.5 0.6 6 1.6 18 -0.7 15 2.2 6 2.1 5.3 3.7 5 6.0 3.2 7.3 0.6 7.7 -0.1 31.5 -0.4 7.5 -3.1 20.3 -6 11.7 -12 -4.9 -6 -0.7 -6 14.7 -1.5 0.8 -4.5 -2.7 -6 5.1 -2.3 -3.8 -3.7 -13.3 -1.5 -2.5 -4.5 6.8 -1.5 0.7 -4.5 -5.7 -1.5 -0.7 -6 6.5 -4.5 1.4 -2.4 -2.2 -5.1 -8.0 -4.5 -0.0 -7.5 8.7 -6 13.7 -4.5 -1.9 -2.2 -2.0 -5.3 -12.6 -3 3.9 -3 5.9 -3 2.8 -3 4.4 -6 -12.8 -1.5 2.3 -4.5 12.9 -2.3 -2.3 -5.2 -8.3 -4.5 -5.5 -1.5 -0.9 -4.5 1.6 -6 -4.6 -3.5 14.7 -1 1.8 -0.5 4.2 -1 1.4 -1.5 0.8 -4.5 -3.2 -1.5 -0.0 -4.5 3.5 -2.4 -2.5 -3.1 -6.0 -6.5 -15.2 -1.5 1.0 -6 16.4 -6 0.2 -4.5 -1.7 -1.8 -2.1 -5.7 -16.0 -6 0.3 -6 -2.7 -4.5 -1.1 -4.4 -4.5 -6.1 -8.8 -0.5 -3.2 0.1 -42.0z" fill="#fdf2f2"/><path d="M465.0 2.5l2.5 -2.5 66.5 0.0 0 60.0 -3 -0.2 -6 -16.9 -6 -3.3 -7.5 -1.7 -2.4 -1.9 -1.8 -3.0 -1.9 -8.1 -1.5 -3.3 -3 0.6 -3 2.1 -4.5 7.3 -1.5 -0.1 -4.5 -7.4 -1.5 -1.4 -6 7.1 -6 16.2 -6 6.3 -4.1 -4.1 -1.5 -3.0 -1.1 -9.0 0.1 -24.0 1.5 -6.0zM182.7 34.5l4.8 -10.4 4.1 -4.6 7.9 -4.7 4.5 -3.5 9 -3.1 12 0.1 19.5 -1.4 15 0.9 57 0.2 13.5 1.0 18 -0.6 10.5 1.1 6 2.9 15 -1.8 9 1.0 7.5 2.5 7.5 4.6 4.4 5.5 2.9 7.5 1.2 7.5 -0.4 54.0 -3.6 9.9 -3 -0.0 -10.5 -3.3 -4.5 -0.1 -6 14.9 -1.5 0.9 -4.5 -2.7 -6 5.0 -2.1 -3.6 -3.9 -13.6 -1.5 -2.6 -4.5 7.2 -1.5 0.8 -4.5 -5.7 -1.5 -0.7 -6 6.5 -4.5 1.4 -1.5 -1.0 -6 -9.2 -4.5 -0.0 -7.5 8.8 -6 13.8 -6 -3.0 -6 -13.5 -12 17.2 -6 -12.9 -1.5 2.3 -4.5 12.8 -1.5 -1.2 -10.5 -15.5 -1.5 -0.4 -4.5 1.7 -6 -4.6 -6 22.2 -1.5 0.7 -4.5 -3.2 -1.5 -0.0 -4.5 3.4 -1.7 -1.4 -4.7 -9.0 -5.6 -13.5 -1.5 0.9 -6 16.4 -6 0.3 -4.5 -1.9 -1.5 -1.8 -6 -17.1 -6 -0.3 -9.4 -5.6 -3.3 -4.5 -0.4 -48.0z" fill="#fce9e9"/><path d="M468.6 4.5l2.4 -1.4 18 2.6 10.5 -4.1 1.7 -1.6 32.8 0.0 0 59.0 -3 -0.3 -6 -16.7 -6 -3.4 -7.5 -1.7 -2.7 -2.4 -4.8 -14.9 -1.5 -0.2 -3.6 1.6 -5.4 7.8 -1.5 -0.3 -3.4 -6.0 -2.6 -2.9 -6 7.3 -6 16.4 -4.5 5.2 -1.5 0.6 -3.2 -5.6 -0.1 -28.5 1.1 -6.0zM188.7 33.0l3.9 -7.5 6.9 -6.2 3.5 -4.3 4 -2.6 6 -2.0 12 0.1 19.5 -2.3 16.5 1.5 55.5 0.2 13.5 1.3 19.5 -1.1 9 1.6 6 4.0 15 -2.8 7.5 0.9 7.5 3.3 6 4.6 4.1 5.2 2.3 6.0 0.9 7.5 -0.1 57.0 -1.1 1.7 -1.5 0.5 -10.5 -1.8 -4.5 0.0 -6 15.0 -1.5 0.9 -4.5 -2.6 -6 4.9 -1.5 -2.2 -4.5 -15.1 -1.5 -2.6 -4.5 7.5 -1.5 0.8 -4.5 -5.6 -1.5 -0.7 -6 6.6 -4.5 1.4 -1.5 -0.9 -6 -9.3 -4.5 -0.0 -7.5 8.8 -6 13.9 -6 -3.1 -6 -13.5 -12 17.2 -6 -13.0 -1.5 2.4 -4.5 12.8 -1.5 -1.1 -10.5 -15.6 -3 0.1 -3 1.4 -6 -4.6 -6 22.3 -1.5 0.8 -4.5 -3.2 -1.5 -0.0 -4.5 3.5 -1.5 -1.2 -3.7 -6.9 -6.8 -15.8 -1.5 0.8 -6 16.4 -6 0.3 -4.5 -2.1 -1.5 -1.8 -6 -17.6 -6.4 -1.2 -5.2 -4.5 -1.7 -3.0 -0 -49.5z" fill="#fbdfdf"/><path d="M503.0 0.0l31 0.0 0 58.1 -3 -0.2 -6 -16.4 -6 -3.6 -5 -1.9 -2.5 0.1 -2.1 -1.6 -1.6 -3.0 -2.3 -10.3 -1.5 -3.4 -1.5 -0.5 -3 0.8 -6 7.0 -1.4 -1.0 -0.4 -9.0 0.9 -3.0 2.8 -3.0 5.6 -3.9zM471.0 8.8l10.1 3.2 2.3 1.5 0.8 1.5 -0.9 3.0 -3.9 6.0 -5.3 16.0 -4.5 5.3 -1.2 -1.8 -0 -28.5 1.3 -5.4zM192.7 34.5l2 -4.5 9.3 -13.4 3 -2.3 6 -2.3 12 0.4 19.5 -3.0 16.5 2.1 22.5 0.6 13.5 -0.7 19.5 0.2 13.5 1.8 19.5 -1.7 9 2.2 6 5.2 6 -1.0 9 -2.8 6 0.7 6.7 3.5 5.3 4.5 3.5 4.5 2.5 6.0 0.7 6.0 -0 54.0 -0.6 1.5 -1.6 0.6 -12 -0.2 -6 15.2 -1.5 1.0 -4.5 -2.6 -6 4.9 -1.5 -2.1 -4.5 -15.2 -1.5 -2.6 -4.5 7.9 -1.5 0.9 -4.5 -5.5 -1.5 -0.7 -6 6.7 -4.5 1.5 -1.5 -1.0 -6 -9.3 -4.5 -0.0 -7.5 8.9 -6 13.9 -6 -3.1 -6 -13.5 -12 17.2 -6 -13.0 -1.5 2.3 -4.5 12.8 -1.5 -1.1 -10.5 -15.6 -1.5 -0.3 -4.5 1.7 -6 -4.6 -6 22.3 -1.5 0.8 -4.5 -3.1 -1.5 -0.1 -4.5 3.4 -1.5 -1.2 -4 -7.7 -6.5 -15.2 -1.5 0.9 -6 16.4 -6 0.3 -4.5 -2.3 -1.5 -1.9 -6 -18.2 -6 -2.0 -2.8 -3.5 -0.3 -49.5z" fill="#fad5d5"/><path d="M504.1 0.0l29.9 0.0 0 57.3 -3 -0.3 -6 -16.1 -10.5 -5.8 -3 0.2 -1.5 -0.9 -1.5 -2.3 -4.5 -16.2 -3.6 -2.4 2.1 -5.7zM196.9 34.5l5.7 -13.5 2.9 -3.8 3 -2.1 4.5 -1.7 13.5 0.6 16.5 -3.5 6 0.2 10.5 2.1 10.5 -0.2 12 1.0 15 -1.0 9 0.7 10.5 -0.5 13.5 2.4 6 -0.4 9 -1.8 4.5 -0.0 4.5 0.9 4.5 2.0 6 6.6 6 -1.3 9 -3.6 4.5 0.3 4.5 2.1 6.2 5.5 3.2 4.5 2.4 6.0 0.2 57.0 -3.1 1.5 -7.5 0.5 -6 15.4 -1.5 1.0 -4.5 -2.6 -6 4.8 -1.5 -2.1 -4.5 -15.2 -1.5 -2.7 -4.5 8.2 -1.5 0.9 -4.5 -5.5 -1.5 -0.6 -6 6.7 -4.5 1.5 -1.5 -1.0 -6 -9.3 -4.5 -0.1 -7.5 9.0 -6 14.0 -6 -3.1 -6 -13.5 -12 17.2 -6 -13.0 -1.5 2.4 -4.5 12.8 -1.5 -1.1 -10.5 -15.6 -1.5 -0.3 -4.5 1.7 -6 -4.6 -6 22.4 -1.5 0.8 -4.5 -3.1 -1.5 -0.1 -4.5 3.4 -1.5 -1.2 -3.7 -7.0 -6.8 -15.9 -1.5 0.8 -6 16.4 -6 0.4 -4.5 -2.5 -1.5 -2.0 -6 -19.0 -3.7 -2.3 -1.1 -1.5 -0.2 -49.5z" fill="#f8cccc"/><path d="M504.7 0.0l29.3 0.0 0 56.5 -3 -0.2 -6 -15.9 -10.5 -6.2 -3 0.5 -1.5 -0.8 -1.4 -2.4 -5.1 -19.5zM201.9 25.5l3.6 -6.4 3 -2.5 3 -1.4 3 -0.4 10.5 1.2 19.5 -4.5 4.5 0.4 10.5 2.5 10.5 -0.4 13.5 1.4 13.5 -1.4 9 0.9 10.5 -0.7 13.5 3.1 6 -0.5 7.5 -2.2 6 -0.2 4.5 1.2 4.5 2.4 6 8.2 6 -1.7 9 -4.5 4.5 0.4 3.9 2.3 4.1 4.5 3.1 4.5 2 6.0 0 52.5 -1.3 1.9 -6 1.5 -6 15.7 -1.5 1.1 -4.5 -2.5 -6 4.7 -1.5 -2.2 -4.1 -14.2 -1.9 -3.8 -4.5 8.7 -1.5 1.0 -4.5 -5.4 -1.5 -0.6 -6 6.8 -4.5 1.5 -1.5 -1.0 -6 -9.3 -4.5 -0.1 -7.5 9.0 -6 14.0 -6 -3.1 -6 -13.5 -12 17.3 -6 -13.0 -1.5 2.3 -4.5 12.8 -1.5 -1.1 -10.5 -15.5 -1.5 -0.3 -4.5 1.7 -6 -4.6 -6 22.4 -1.5 0.8 -4.5 -3.0 -1.5 -0.1 -4.5 3.3 -1.5 -1.2 -4.1 -7.9 -6.4 -15.1 -1.5 0.8 -6 16.4 -6 0.4 -4.5 -2.6 -1.5 -2.1 -7.2 -23.4 -0.3 -49.5 0.5 -6.0z" fill="#f7c2c2"/><path d="M505.4 0.0l28.6 0.0 0 55.8 -3 -0.3 -6 -15.6 -10.5 -6.7 -3 0.8 -1.5 -0.8 -1.1 -1.8 -4.5 -19.5zM203.7 24.0l3.3 -4.9 6 -3.4 12 1.8 4.5 -0.9 10.5 -3.6 4.5 -0.7 6 0.8 7.5 2.4 12 -0.5 13.5 1.9 13.5 -1.9 9 1.1 10.5 -0.9 13.5 3.9 6 -0.6 7.5 -2.7 6 -0.1 4.5 1.5 4.5 2.9 6 10.2 6 -2.3 9 -5.7 4.5 0.5 3 2.1 2.9 3.7 2.6 4.5 1.5 4.5 -0.8 51.0 -0.5 1.5 -2.7 1.5 -6 16.2 -1.5 1.1 -4.5 -2.4 -1.5 0.6 -4.5 4.0 -1.5 -2.2 -4 -14.2 -2 -4.0 -4.5 9.4 -1.5 1.1 -4.5 -5.3 -1.5 -0.6 -6 6.8 -4.5 1.5 -1.5 -1.0 -6 -9.3 -4.5 -0.1 -7.5 9.1 -6 14.1 -6 -3.2 -6 -13.6 -12 17.3 -6 -13.0 -1.5 2.3 -4.5 12.8 -1.5 -1.1 -10.5 -15.5 -1.5 -0.3 -4.5 1.7 -6 -4.6 -6 22.4 -1.5 0.8 -4.5 -3.0 -1.5 -0.1 -4.5 3.3 -1.5 -1.2 -3.8 -7.3 -6.7 -15.7 -1.5 0.8 -6 16.4 -6 0.5 -4.5 -2.8 -1.5 -2.2 -4.7 -16.5 -1.1 -6.0 -0.4 -51.0 0.9 -7.5z" fill="#f6b8b8"/><path d="M505.9 0.0l28.1 0.4 0 54.7 -3 -0.2 -4.5 -12.8 -1.5 -2.5 -10.5 -7.2 -3 1.2 -2.2 -1.9 -1.6 -4.5 -2.6 -15.0zM204.7 24.0l3.3 -4.5 5 -2.8 12 2.3 4.5 -0.9 10.5 -4.2 4.5 -0.8 6 0.9 7.5 2.8 12 -0.8 13.5 2.4 13.5 -2.4 9 1.4 10.5 -1.2 4.5 1.0 9 3.7 6 -0.7 7.5 -3.3 4.5 -0.2 4.8 1.4 5.7 4.1 3.4 6.4 2.6 8.2 15 -11.8 1.5 -0.3 2.7 0.8 3.2 3.0 1.9 3.0 2.2 7.5 -2.5 52.5 -4.5 14.4 -1.5 1.3 -4.5 -2.3 -1.5 0.5 -4.5 3.8 -1.5 -2.3 -3.5 -13.9 -2.5 -5.3 -3.8 9.8 -2.2 2.6 -4.5 -5.2 -1.5 -0.6 -6 6.9 -3 1.4 -1.5 0.1 -1.5 -1.1 -6 -9.4 -4.5 -0.1 -7.5 9.2 -6 14.2 -6 -3.2 -6 -13.6 -12 17.3 -6 -13.1 -1.5 2.3 -4.5 12.8 -1.5 -1.1 -10.5 -15.4 -1.5 -0.3 -4.5 1.6 -6 -4.6 -6 22.5 -1.5 0.8 -4.5 -3.0 -1.5 -0.1 -4.5 3.2 -1.5 -1.2 -4.5 -8.8 -6 -14.3 -1.5 0.8 -6 16.4 -6 0.5 -4.5 -3.1 -1.5 -2.3 -4.5 -18.5 -0.7 -54.0 0.9 -7.5z" fill="#f5aeae"/><path d="M506.3 0.0l25.5 0.0 2.2 1.8 0 52.4 -3 -0.2 -4.2 -12.0 -1.8 -3.0 -3 -1.5 -7.5 -6.2 -3 1.5 -1.9 -1.3 -1.7 -4.5 -2.1 -13.5zM205.0 25.5l3.5 -5.2 4.5 -2.6 12 2.9 4.5 -1.0 10.5 -4.7 4.5 -0.9 4.5 0.6 9 3.6 12 -1.2 13.5 2.9 12 -2.8 10.5 1.5 10.5 -1.4 4.5 1.2 9 4.4 6 -0.9 7.5 -3.9 3 -0.3 4.5 1.0 4 2.4 3.5 3.4 3.1 7.1 1.2 6.0 0 51.0 -2.7 9.0 -1.6 1.6 -4.5 -5.1 -1.5 -0.5 -6 7.0 -4.5 1.6 -1.5 -1.1 -6 -9.4 -4.5 -0.1 -7.5 9.3 -6 14.2 -6 -3.2 -6 -13.6 -12 17.3 -6 -13.1 -1.5 2.3 -4.5 12.8 -1.5 -1.1 -10.5 -15.4 -1.5 -0.3 -4.5 1.6 -6 -4.6 -6 22.5 -1.5 0.8 -4.5 -2.9 -1.5 -0.1 -4.5 3.1 -1.5 -1.2 -4.5 -8.8 -6 -14.4 -1.5 0.8 -6 16.4 -6 0.6 -4.5 -3.3 -1.5 -2.5 -3.1 -13.0 -1.2 -57.0 0.6 -7.5zM381.0 27.9l3 1.4 1.9 2.2 2 4.5 0.5 4.5 -0.8 30.0 -1.1 13.5 -3.2 19.5 -0.7 1.3 -1.5 0.0 -3 -2.0 -3 1.0 -0.8 -0.4 -2.3 -63.0 0.4 -3.0 1.6 -3.0 5.5 -6.3z" fill="#f4a5a5"/><path d="M506.8 0.0l24 0.0 1.7 2.5 1.5 0.9 0 50.2 -3 -0.3 -3.9 -11.2 -2.1 -3.4 -4.4 -2.6 -6.1 -5.8 -3 2.0 -1.5 -0.6 -2.2 -6.1 -1.7 -12.0zM205.9 25.5l3.1 -4.5 3.9 -2.3 4.5 0.8 7.5 2.7 6 -1.8 7.5 -4.1 6 -1.6 6 1.2 7.5 3.5 3 0.1 9 -1.6 13.5 3.4 12 -3.3 3 0.0 7.5 1.8 10.5 -1.7 4.7 1.4 8.8 5.1 6 -1.0 7.5 -4.6 3 -0.3 4.5 1.2 3.6 2.6 3.9 4.4 2.3 6.1 0.8 4.5 -0.1 54.0 -1.5 4.9 -1.5 1.7 -4.5 -4.9 -1.5 -0.5 -6 7.1 -4.5 1.6 -1.5 -1.1 -6 -9.4 -4.5 -0.1 -7.5 9.5 -6 14.3 -6 -3.3 -6 -13.6 -12 17.4 -6 -13.1 -1.5 2.3 -4.5 12.8 -1.5 -1.1 -10.5 -15.3 -1.5 -0.3 -4.5 1.5 -6 -4.6 -6 22.6 -1.5 0.9 -4.5 -2.9 -1.5 -0.1 -4.5 3.1 -1.5 -1.2 -4.5 -8.8 -6 -14.4 -1.5 0.8 -6 16.5 -6 0.6 -4.1 -3.2 -1.9 -3.0 -2.2 -12.0 -1.3 -57.0 0.7 -7.5zM381.0 31.8l3.3 2.7 1.2 3.0 -0.5 37.5 -1 7.5 -1.5 5.3 -1.5 2.0 -1.5 -2.4 -1.7 -14.0 -1.5 -33.0 0.3 -3.0 1.2 -3.0 1.7 -2.4z" fill="#f39c9c"/><path d="M507.3 0.0l22.9 0.0 2.3 4.1 1.5 0.8 0 47.8 -3 -0.2 -3.6 -10.4 -2.4 -3.8 -4.5 -2.7 -6 -6.6 -3 2.7 -1.5 -0.6 -2 -5.5 -1.4 -10.5zM206.8 25.5l3.2 -4.2 3 -1.7 4.5 0.9 7.5 3.3 6 -2.0 7.5 -4.6 6 -1.7 5.3 1.0 8.2 4.2 3 0.1 9 -2.0 13.5 4.0 12 -3.9 3 0.0 7.5 2.0 10.5 -2.0 5.4 2.0 8.1 5.6 3 -0.1 3 -1.1 7.5 -5.3 3 -0.3 3 0.8 3.1 1.9 4.4 4.8 1.6 2.7 1.6 6.0 -0.3 58.5 -1.5 2.4 -4.5 -4.7 -1.5 -0.4 -6 7.3 -3 1.6 -1.5 0.0 -1.5 -1.2 -6 -9.5 -4.5 -0.2 -7.5 9.6 -6 14.4 -6 -3.3 -6 -13.6 -12 17.4 -6 -13.2 -1.5 2.3 -4.5 12.8 -1.5 -1.1 -10.5 -15.2 -1.5 -0.3 -4.5 1.5 -6 -4.7 -6 22.6 -1.5 0.9 -4.5 -2.8 -1.5 -0.1 -4.5 3.0 -1.5 -1.2 -4.5 -8.9 -6 -14.5 -1.5 0.8 -6 16.5 -6 0.7 -4.6 -4.1 -1.4 -3.0 -1 -6.0 -1.7 -61.5 0.6 -7.5z" fill="#f29494"/><path d="M507.8 0.0l6.2 0.0 0.6 1.4 1.6 -1.4 13.4 0.0 1.5 3.8 3 2.8 0 45.1 -3 -0.2 -4.8 -12.5 -5.7 -4.0 -6 -8.1 -3 4.0 -1.7 -0.9 -1.5 -4.5 -1.2 -9.0 -0.1 -7.5zM206.9 27.0l2.9 -4.5 3.1 -2.0 4.5 1.1 7.5 3.9 1.5 -0.2 4.5 -2.0 7.8 -5.2 5.7 -1.8 6 1.4 7.5 4.3 3 0.0 9 -2.3 3 0.5 10.5 4.2 12 -4.5 3 0.0 7.5 2.4 10.5 -2.3 4.5 1.7 9 7.3 3 -0.1 3 -1.2 7.5 -6.3 3 -0.3 3 1.0 3 2.4 4.5 5.7 2.1 6.0 -0.6 59.1 -1.5 -0.8 -3 -3.1 -1.5 -0.3 -6 7.5 -3 1.7 -1.5 -0.0 -1.5 -1.2 -6 -9.6 -4.5 -0.2 -7.5 9.8 -6 14.5 -6 -3.4 -6 -13.6 -12 17.5 -6 -13.2 -1.7 2.8 -4.3 12.3 -1.5 -1.1 -10.5 -15.1 -1.5 -0.4 -4.5 1.4 -6 -4.7 -6 22.7 -1.5 0.9 -4.5 -2.8 -1.5 -0.2 -4.5 2.9 -1.5 -1.2 -4.5 -8.9 -6 -14.6 -1.7 1.1 -5.8 16.1 -6 0.8 -4.5 -4.5 -1.4 -4.9 -2.1 -64.5 0.7 -7.5z" fill="#f28b8b"/><path d="M508.3 0.0l4.6 0.0 1.7 4.3 1.5 -1.2 0.8 -3.1 12.3 0.0 1.9 5.6 3 3.0 0 42.1 -3 -0.3 -4.3 -11.4 -3.2 -2.8 -1.5 -0.3 -3.9 -4.4 -1.6 -3.0 -0.5 -3.9 -1.5 -3.4 -1 5.8 -2 3.3 -1.5 -0.4 -1.6 -4.3 -1.1 -9.0 -0 -7.5zM207.7 27.0l2.3 -3.5 3 -2.1 4.5 1.2 7.5 4.6 1.5 -0.2 4.5 -2.2 7.5 -5.7 6 -2.1 6 1.5 7.5 4.8 3 -0.0 9 -2.7 4.5 1.2 6 3.4 3 0.8 12 -5.3 3 0.0 7.5 2.7 7.5 -2.4 3 -0.3 4.5 1.9 9 8.7 3 -0.1 3 -1.5 7.5 -7.4 4.5 0.1 3 2.2 3.1 3.8 2.9 4.9 1.1 4.1 -1.6 52.5 -1.1 0.7 -1.5 -1.0 -1.5 -0.0 -6 7.8 -3 1.7 -1.5 -0.1 -1.5 -1.3 -6 -9.7 -4.5 -0.2 -7.5 10.2 -6 14.7 -6 -3.4 -6 -13.6 -12 17.5 -6 -13.2 -2 3.5 -4 11.6 -1.5 -1.0 -10.5 -15.0 -1.5 -0.4 -4.5 1.3 -6 -4.7 -6 22.8 -1.5 0.9 -4.5 -2.7 -1.5 -0.2 -4.5 2.8 -1.5 -1.3 -4.5 -9.0 -6 -14.7 -1.5 0.7 -6 16.5 -6 0.9 -4 -4.3 -1 -4.5 -2.4 -64.5 0.7 -7.5z" fill="#f18282"/><path d="M509.0 0.0l2.9 0.0 2.6 8.2 1.5 -2.1 1.4 -6.1 11.2 0.0 2.4 7.6 1.5 2.5 1.5 1.1 0 38.1 -3 -0.3 -3.6 -10.0 -3.9 -3.1 -1.5 -0.3 -3.4 -4.0 -1.8 -4.5 -0.8 -8.5 -1.5 -2.8 -1.7 11.3 -1.3 2.5 -1.5 -0.3 -1.5 -4.7 -0.9 -9.5 0.3 -9.0zM208.5 27.0l2.2 -3.0 2.4 -1.7 4.5 1.4 7.5 5.5 1.5 -0.3 4.5 -2.6 7.5 -6.4 6 -2.3 6 1.7 7.5 5.3 3 -0.1 6 -2.7 3 -0.5 4 1.1 6.5 4.2 3 1.0 12 -6.1 3 0.0 7.5 3.1 7.5 -2.8 3 -0.3 4.8 2.4 8.7 10.7 1.5 0.0 3 -1.0 1.5 -1.3 4.5 -6.3 3 -2.7 1.5 -0.4 3 0.7 3 2.7 2.4 3.4 2.2 4.5 1.1 4.5 -1.3 28.5 -2.3 19.5 -6.5 9.5 -3 1.9 -1.5 -0.2 -1.5 -1.5 -6 -9.9 -4.5 -0.5 -7.5 10.8 -6 14.9 -6 -3.5 -6 -13.6 -12 17.6 -6 -13.3 -1.7 2.7 -4.3 12.4 -1.5 -1.0 -10.5 -14.8 -3 -0.2 -3 1.1 -6 -4.7 -6 22.8 -1.5 1.0 -4.5 -2.6 -1.5 -0.2 -4.5 2.8 -1.5 -1.3 -4.5 -9.0 -6 -14.8 -1.8 1.1 -5.7 16.1 -6 1.1 -2.2 -2.1 -1.6 -3.0 -1.6 -21.0 -1.3 -46.5 0.7 -7.5z" fill="#f07979"/><path d="M510.0 0.0l1.5 1.3 2.4 10.7 -1.3 13.5 -1.1 3.2 -1.5 -0.2 -1.9 -10.6 0.3 -12.0zM517.8 0.0l10.4 0.0 3.5 12.0 0.5 3.0 -1.8 13.5 -2.4 9.2 -6 -2.5 -2.1 -2.2 -2.3 -4.5 -1.6 -16.5zM210.0 25.8l3 -2.5 1.5 0.2 3.9 2.0 6.6 6.0 1.5 -0.3 4.5 -3.0 7.5 -7.2 6 -2.5 3 0.4 3 1.4 7.5 6.0 3 -0.2 6 -3.1 3 -0.6 4.5 1.5 6 4.6 3 1.1 3 -1.4 6 -4.5 3 -1.2 3 0.1 7.5 3.6 9 -3.6 3 0.5 1.9 1.1 5.1 6.0 4 9.0 -0.8 46.5 -0.9 3.0 -4.7 7.8 -6 15.2 -6 -3.6 -6 -13.6 -12 17.6 -6 -13.4 -2.1 3.5 -3.9 11.6 -1.5 -1.0 -10.5 -14.6 -3 -0.3 -3 1.0 -6 -4.7 -6 23.0 -1.5 1.0 -6 -2.7 -4.5 2.6 -1.5 -1.3 -4.5 -9.1 -6 -15.0 -1.5 0.6 -6 16.6 -6 1.3 -3 -4.5 -2.1 -28.5 -0.9 -40.5 1.1 -7.5zM345.0 24.4l3.1 1.1 3.6 4.5 2.6 6.0 0.5 4.5 -1 25.5 -1.7 13.5 -4.3 13.5 -1.9 3.0 -2.5 1.6 -1.5 -0.3 -1.1 -1.3 -3.1 -7.5 -2.9 -48.0 0.6 -3.0 4.6 -9.0 2.5 -3.0z" fill="#f07171"/><path d="M518.2 0.0l9.6 0.0 2.1 9.0 0.7 6.0 -1.7 15.0 -1.5 6.0 -0.9 0.8 -4.8 -2.3 -3.6 -6.0 -1.5 -16.5zM510.0 2.6l1.5 1.3 1.4 8.0 -0.8 13.5 -0.6 2.3 -1.5 0.1 -1.5 -7.2 -0.2 -7.2 0.2 -4.7zM210.1 27.0l2.9 -2.8 3 0.8 2.6 2.0 6.4 7.5 4.5 -2.8 9 -9.7 3 -1.9 3 -0.9 3 0.5 2.8 1.4 7.7 6.9 3 -0.3 6 -3.7 4.5 -0.4 3.8 2.1 5.2 4.9 3 1.4 3 -1.7 6 -5.3 3 -1.4 4.5 0.6 6 3.6 9 -4.2 1.5 -0.0 3 1.4 3.3 3.7 2.9 6.0 1.1 4.5 -2.2 51.0 -8.1 20.8 -6 -3.8 -6 -13.6 -7.5 12.1 -4.5 5.7 -6 -13.5 -2 2.9 -4 12.2 -1.5 -1.0 -10.5 -14.2 -3 -0.4 -3 0.9 -6 -4.7 -6 23.1 -1.5 1.0 -6 -2.7 -4.5 2.5 -1.5 -1.4 -4.5 -9.2 -6 -15.5 -1.5 0.4 -1.1 1.5 -0.4 2.9 -1.1 1.6 -3.4 10.8 -6 1.8 -2.3 -3.6 -2.3 -28.5 -0.8 -40.5 0.7 -6.0zM345.0 25.7l3 1.4 2.2 2.9 2.5 6.0 0.5 4.5 -0.7 23.6 -1.1 9.4 -5.5 21.0 -2.5 2.0 -1.3 -0.5 -0.8 -1.5 -1.5 -12.0 -2.2 -43.5 2.7 -9.0 2.1 -3.0z" fill="#ef6868"/><path d="M518.6 0.0l8.8 0.0 1 4.5 1.2 10.5 -1.3 13.5 -1.9 7.5 -4.5 -1.6 -2.4 -2.9 -1.3 -3.0 -1.3 -16.5zM510.0 5.4l1.5 1.6 0.8 6.5 -0.8 12.8 -1.5 0.7 -1.2 -13.5zM238.5 22.9l4.5 -2.7 4.5 0.2 4.5 3.0 4.5 5.3 1.5 1.1 1.5 0.1 7.5 -5.0 4.5 -0.5 3 1.7 6 6.7 3 1.9 3 -2.3 4.6 -5.3 4.4 -2.7 1.5 -0.3 3 1.0 6 4.2 9 -4.9 3 0.6 2.6 2.2 2.7 4.5 1.9 7.5 -1.7 37.5 -1.3 16.5 -2.8 9.6 -3 7.4 -3.7 -2.0 -2.3 -2.2 -3.6 -9.8 -2.4 -3.8 -7.5 12.7 -4.5 5.3 -6 -13.8 -2.7 4.1 -3.3 11.0 -1.5 -0.9 -10.5 -13.7 -3 -0.6 -3 0.7 -6 -4.7 -6 23.4 -1.5 1.1 -6 -2.6 -4.5 2.2 -1.5 -1.4 -4.5 -9.5 -4.5 -12.5 -1.2 -54.0 1.5 -3.0zM213.0 25.2l3 0.9 2.6 2.3 2.9 4.5 2.5 6.0 -2.8 39.0 -2.8 22.5 -1.2 6.0 -1.1 1.5 -3.1 1.2 -1.5 -2.7 -2.1 -19.5 -1.3 -48.0 1.3 -9.0 1.6 -3.0zM345.0 27.2l2.5 1.3 2 3.0 1.7 4.5 0.5 4.5 -1.3 28.5 -5.3 24.0 -1.7 1.9 -1.5 -5.5 -1.1 -9.9 -1.7 -40.5 0.7 -4.5 1.7 -4.5 1.9 -2.4z" fill="#ee5f5f"/><path d="M519.0 0.0l8.1 0.0 1.6 7.5 0.5 7.5 -1.4 15.0 -0.9 4.5 -1.8 0.8 -3 -1.3 -1.5 -1.6 -2.1 -5.4 -0.9 -15.0zM510.0 8.7l1.5 3.0 -0.6 12.3 -0.9 1.8 -0.6 -10.8zM244.5 20.6l3 0.5 3 1.8 7.5 9.0 1.5 0.1 7.5 -6.3 3 -0.9 1.8 0.4 2.4 1.5 2.6 3.0 4.8 9.0 -4.1 66.2 -1.5 -0.6 -4.5 -4.2 -3 -4.1 -3 -0.8 -3 0.3 -6 -5.0 -6 24.1 -1.5 1.2 -6 -2.4 -4.7 1.8 -1.3 -1.4 -4.5 -10.5 -2.5 -64.6 1.6 -4.5 5.5 -9.0 3.1 -3.0zM295.5 25.2l1.5 -0.3 3 1.1 6 5.2 1.5 -0.4 6 -5.0 3 -0.5 4.2 3.3 2.6 6.0 0.7 6.0 -2.2 45.0 -1.4 12.0 -3.9 11.6 -4.1 -2.6 -1.7 -3.0 -3.2 -23.8 -1.5 -3.6 -2.1 15.4 -8.4 14.7 -3 3.0 -4.2 -11.7 -3.5 -58.5 5 -9.0 2.7 -3.0zM213.0 26.3l3 1.1 2.4 2.7 2.1 4.5 1.1 4.5 -3.4 51.0 -2.7 15.0 -1 2.2 -1.5 0.8 -1.7 -7.6 -1.6 -16.5 -1 -45.0 1.3 -8.8zM345.0 28.8l1.9 1.2 1.8 3.0 1.5 7.5 -1.2 25.5 -4 21.2 -1.5 2.1 -1.8 -12.9 -1.3 -37.5 1.6 -7.3 1.5 -2.4z" fill="#ee5757"/><path d="M519.4 0.0l7.3 0.0 1.5 7.5 0.5 6.0 -1.4 16.5 -0.8 3.8 -1.5 1.2 -3 -1.2 -1.5 -1.7 -1.8 -5.0 -0.9 -15.0zM244.5 21.4l3 0.6 3 2.0 7.5 11.2 1.5 0.2 7.5 -8.3 3 -1.0 1.5 0.4 2.9 2.1 2.1 3.0 2.6 7.5 -2.2 39.0 -2.6 21.0 -1.3 1.7 -3 -2.7 -1.5 -2.4 -2.9 -1.1 -1.5 -1.5 -3.2 -30.4 -1.5 -9.5 -1.5 0.5 -3.4 40.9 -4.1 19.5 -1.5 1.3 -6 -2.2 -4.5 1.4 -1.5 -1.9 -2.5 -27.0 -2.5 -45.0 1.1 -6.0 3.9 -7.5 3 -3.4zM295.5 26.2l1.5 -0.3 3 1.2 6 6.9 1.5 -0.6 5.7 -6.4 3.3 -0.8 3.2 2.3 2.6 6.0 0.6 6.0 -1.6 39.0 -2.2 19.5 -2.6 9.0 -2.4 -1.5 -1.5 -4.5 -2.7 -18.0 -2.5 -26.3 -1.5 -3.3 -1.5 10.5 -2.1 28.1 -5.4 10.7 -3 3.0 -0.9 -0.2 -0.6 -1.5 -2.6 -21.0 -2.5 -45.0 2.7 -7.5 2.4 -3.3zM213.0 27.4l2.8 1.1 1.7 1.9 1.8 4.1 0.8 4.5 -2.4 45.0 -2.3 15.0 -1 3.8 -1.5 2.1 -1.5 -7.6 -1.4 -14.8 -0.8 -43.5 1 -7.5zM345.0 31.0l1.5 1.1 1.3 2.4 0.9 6.0 -1.5 25.5 -2.2 14.2 -1.5 1.7 -0.8 -8.4 -1.2 -34.5 2 -7.3z" fill="#ed4e4f"/><path d="M519.7 0.0l6.6 0.0 1.3 6.0 0.7 7.5 -1.1 15.0 -0.8 4.5 -1.3 1.5 -3 -1.2 -1.5 -1.8 -1.5 -4.5 -0.9 -15.0zM244.5 22.2l4.5 1.6 3.1 3.3 3.6 7.5 1 4.5 -3.8 55.5 -2.4 17.7 -1.5 2.1 -6 -1.8 -3 0.3 -1 -1.7 -3 -27.0 -2.5 -43.5 0.9 -6.0 2.6 -6.0 3.6 -4.5zM297.0 26.8l3 1.4 1.6 1.8 2.3 4.5 1.3 4.5 -3.9 54.0 -1.4 4.5 -3 5.5 -1.5 1.6 -1.5 0.1 -2.7 -20.8 -2.3 -45.0 1 -4.5 2.2 -4.5 1.8 -1.9zM270.0 27.1l3 1.4 1.5 1.8 2.1 4.2 0.9 4.5 -2.3 43.5 -2.2 15.4 -1.5 0.9 -3 -3.9 -2.6 -1.9 -1.8 -13.5 -2.9 -40.5 0.7 -3.0 3.3 -6.0 1.7 -1.7zM316.5 27.3l1.9 1.2 2 3.0 1.6 7.5 -1.7 43.5 -1.7 13.5 -2.2 8.4 -1.5 -0.3 -3.4 -15.6 -4 -49.5 0.7 -3.0 3.2 -6.0 2.1 -2.0zM213.0 28.6l1.5 0.4 2.4 2.5 2 7.5 -2 45.0 -1.8 12.0 -2 4.7 -1.5 -8.0 -1 -11.7 -0.6 -40.5 0.8 -7.5zM345.0 34.1l1.5 1.8 0.6 3.0 -2.1 28.5 -1.5 -4.5 -0.7 -24.0 0.7 -3.8z" fill="#ec4548"/><path d="M520.1 0.0l5.8 0.0 1.5 7.5 0.4 6.0 -1 15.0 -0.9 4.5 -0.9 1.1 -3 -1.1 -1.2 -1.4 -1.5 -4.5 -0.8 -15.0zM244.5 23.0l3 0.7 3.6 3.3 2.9 6.0 1.3 6.0 -2.8 48.0 -3.7 25.5 -1.4 0.7 -6 -1.6 -1 -2.1 -3.2 -24.0 -2.6 -45.0 0.4 -4.5 2.8 -7.5 3.6 -4.2zM270.0 28.3l1.5 0.5 2.5 2.7 2.2 7.5 -1.7 39.0 -1.3 12.0 -1.8 7.5 -4.2 -4.5 -1 -4.5 -1.3 -12.0 -1.9 -36.0 0.5 -4.5 1.9 -4.3 1.5 -2.0zM297.0 27.9l3 1.7 1.5 1.9 2.1 7.5 -2.9 54.0 -1.9 6.0 -1.8 3.3 -1.5 1.3 -1.7 -6.1 -1.6 -13.5 -2 -45.0 2.1 -7.5 1.6 -2.1zM316.5 28.4l3 3.3 1.6 7.3 -1.4 42.0 -1.4 12.0 -1.8 7.1 -1.5 -0.4 -2.8 -14.1 -2.7 -46.5 2.3 -7.5 1.8 -2.1zM213.0 30.0l1.5 0.6 1.5 1.7 1.8 6.8 -1.6 43.5 -1.7 11.1 -1.5 2.8 -1.9 -15.5 -0.5 -40.5 0.8 -7.5z" fill="#eb3d40"/><path d="M520.5 0.0l5 0.0 1.6 7.5 0.4 6.0 -1.4 18.0 -1.1 2.1 -3 -1.1 -1.7 -2.5 -0.8 -3.0 -0.8 -15.0zM244.5 23.8l3 0.8 3.7 3.9 1.9 4.5 1.2 6.0 -3.1 52.5 -3.3 19.5 -1.9 1.3 -2.8 -1.3 -1.5 -1.5 -2.4 -13.5 -1.7 -16.5 -2 -40.5 0.7 -4.5 2.4 -6.0 2.7 -3.2zM270.0 29.6l3 2.3 2.1 7.0 -1.6 42.0 -2 12.6 -1.5 1.7 -2.1 -3.7 -1.6 -10.5 -1.9 -42.0 1 -4.5 1.5 -3.0zM297.0 29.1l3.3 2.4 1.3 3.0 0.8 4.5 -1.8 46.5 -1.4 10.5 -2.3 5.2 -1.5 -0.5 -2.3 -15.3 -1.8 -46.5 0.8 -4.5 1.4 -3.0 2 -1.9zM316.5 29.8l2.4 3.2 1.2 6.0 -1.1 40.5 -1.1 10.4 -1.5 6.0 -1.5 -0.5 -2.3 -12.9 -1.9 -43.5 0.9 -4.5 1.5 -3.0 1.9 -1.7zM213.0 31.8l1.5 0.8 1.5 2.9 0.6 5.0 -1.1 39.0 -1.1 9.1 -1.5 3.5 -1.5 -14.0 0.1 -42.0z" fill="#ea3439"/><path d="M521.0 0.0l4 0.0 1.9 9.0 -0.7 19.5 -1.2 4.6 -3 -1.0 -1.4 -2.1 -0.8 -3.0 -0.6 -16.5zM244.5 24.7l3 0.9 2.8 3.0 2.4 6.0 0.6 4.5 -2.4 48.0 -2.4 16.5 -1.5 6.0 -1 1.7 -3 -1.7 -3.4 -18.0 -2.9 -52.5 1.1 -6.0 1.9 -4.5 1.8 -2.2zM270.0 31.3l1.5 0.9 1.5 2.4 1 5.9 -1.1 37.5 -1.4 10.5 -1.5 3.5 -1.5 -3.1 -1.5 -10.6 -1.3 -39.4 1.3 -4.9 1.5 -2.1zM297.0 30.4l2.9 2.6 1.5 6.0 -1.3 45.0 -1.5 11.5 -1.5 3.8 -1.5 -3.2 -1.7 -12.1 -1.4 -45.0 1.5 -6.0 1.6 -2.0zM316.5 31.4l1.9 3.1 0.9 6.0 -0.9 39.0 -1.9 12.1 -1.5 -0.7 -1.7 -9.9 -1.4 -42.0 1.6 -5.7 1.5 -1.8zM213.0 34.6l1.5 1.4 0.7 4.5 -0.6 39.0 -1.6 7.2 -0.7 -8.7 -0.1 -37.5z" fill="#e92b31"/><path d="M521.6 0.0l2.8 0.0 2.2 9.0 -0.6 19.5 -1 4.1 -3 -0.9 -2 -4.7 -0.6 -16.5 1.1 -7.5zM244.5 25.6l3 0.9 1.9 2.0 2 4.5 1.1 6.0 -2.6 51.0 -2.4 14.1 -1.5 4.5 -1.5 0.7 -2.8 -8.8 -2.1 -15.0 -2.2 -46.5 0.6 -4.5 1.6 -4.5 1.8 -2.7zM297.0 32.0l2.2 2.5 1.1 6.0 -1 42.0 -0.8 7.7 -1.5 4.7 -1.5 -4.0 -1 -8.4 -1.1 -42.0 0.5 -4.6 1.5 -3.0zM270.0 33.7l2 2.3 0.7 4.5 -1.2 41.8 -1.5 4.7 -1.5 -4.1 -0.5 -4.9 -1 -37.5 0.8 -4.5zM316.5 34.0l1.5 3.5 -0.3 39.0 -1.2 10.2 -1.5 -0.9 -0.9 -7.8 -0.9 -37.5 0.7 -4.5 1.1 -2.0z" fill="#e9232a"/><path d="M523.6 0.0l1.4 2.8 1.4 7.7 -0.6 18.0 -0.7 3.5 -3 -0.7 -1.4 -2.7 -0.4 -3.0 -0.3 -16.5 2.1 -8.6zM244.5 26.5l3 1.1 1.9 2.5 1.7 4.5 0.6 4.5 -2.2 48.0 -2 13.3 -1.5 4.9 -1.5 0.9 -2.3 -7.1 -1.9 -13.5 -2.1 -46.5 0.6 -4.5 1.7 -4.5 2.4 -2.9zM297.0 34.4l1.5 2.0 0.5 4.1 -0.5 40.5 -1.6 8.7 -1.7 -8.7 -0.6 -40.5 0.7 -4.5zM270.0 37.2l0.9 3.3 -0.3 34.5 -0.6 5.0 -0.6 -5.0 -0.4 -34.5zM316.5 38.4l0 40.0 -0.7 -1.9 -0.8 -15.6 -0.1 -20.4 0.1 -1.8z" fill="#e61c24"/><path d="M523.5 1.2l1.5 3.2 1.1 7.6 -1.1 19.3 -3 -0.6 -1.6 -5.2 -0 -18.0 1.7 -5.7zM244.5 27.4l2.9 1.1 1.6 2.3 2 8.2 -2 47.0 -1.8 11.5 -1.2 4.3 -1.5 1.0 -2.1 -6.8 -1.6 -12.0 -1.9 -45.0 1.7 -7.5 2 -3.0z" fill="#db1c24"/><path d="M523.5 2.7l1.5 3.5 0.8 7.4 -0.7 16.5 -1.6 0.8 -1.5 -0.5 -1.2 -3.2 -0.6 -13.5 1.8 -10.2zM244.5 28.4l1.5 0.2 2.6 2.9 1.5 4.5 0.3 4.5 -2 45.0 -2.2 12.0 -1.8 2.0 -1.5 -4.5 -1.6 -11.0 -1.8 -43.5 1.2 -7.5 1.6 -3.0z" fill="#d11c23"/><path d="M523.5 4.1l1.5 4.0 0.5 5.4 -0.5 15.0 -1.5 1.8 -1.5 -0.7 -0.9 -2.6 -0.7 -13.5 1.5 -8.6zM244.5 29.4l1.9 0.6 2.1 3.0 1.3 7.5 -1.9 43.5 -1.9 11.1 -1.5 1.3 -1.4 -4.9 -1.2 -9.0 -1.7 -42.0 1.3 -7.5 1.5 -2.5z" fill="#c61c23"/><path d="M523.5 5.7l1.7 7.8 -0.5 13.5 -1.1 2.6 -1.5 -0.8 -0.5 -1.9 -0.6 -13.5 1.1 -7.0zM244.5 30.5l1.5 0.3 1.8 2.2 1.5 7.5 -1.9 43.5 -1.4 8.1 -1.5 1.6 -2.3 -14.2 -1.5 -39.0 0.9 -6.0 1.4 -2.8z" fill="#bc1c22"/><path d="M523.5 7.5l1.2 7.5 -0.4 10.5 -0.9 3.4 -1.7 -1.9 -0.5 -12.0 0.7 -6.5zM244.5 31.6l1.5 0.3 1.7 2.6 1 7.5 -1.7 40.5 -1 6.7 -1.5 1.9 -1.9 -13.1 -1.4 -36.0 0.6 -6.0 1.2 -3.0z" fill="#b11c22"/><path d="M523.5 9.6l0.7 5.4 -0.7 12.8 -1.5 -1.6 -0.3 -11.2 0.3 -4.0zM244.5 32.7l1.5 0.4 1.5 2.5 0.8 6.4 -1.4 37.5 -0.8 6.8 -1.5 2.2 -1.8 -16.6 -1 -30.0 0.7 -6.0z" fill="#a71c21"/><path d="M523.5 12.9l0 13.0 -0.6 -10.8zM244.5 33.9l1.5 0.4 0.9 1.7 0.9 6.0 -1.8 41.3 -1.5 2.7 -1.6 -17.0 -0.7 -27.0 0.8 -6.0z" fill="#9d1b1f"/><path d="M244.5 35.2l1.5 0.5 0.7 1.8 0.6 6.0 -1.4 36.2 -1.5 3.4 -1.2 -14.1 -0.7 -25.5 0.4 -5.3z" fill="#931b1e"/><path d="M244.5 36.7l1.6 0.8 0.8 6.0 -0.7 30.0 -1.6 6.2 -1.4 -36.2 0.4 -4.5z" fill="#891b1c"/><path d="M244.5 38.5l1.5 1.3 0.3 3.6 -0.3 24.4 -1.5 7.2 -0.7 -31.6z" fill="#7f1a1b"/><path d="M0.0 0.0l155.1 0.0 3.8 15.0 2.7 6.0 1.4 10.5 -3.7 61.5 -0.7 30.0 -1.1 9.2 -1.8 5.8 -2.3 4.5 -9.4 10.9 -15 12.9 -6 3.1 -6 1.6 -1.5 2.6 -3 12.6 -1.5 -2.1 -3 -13.3 -1.5 -1.6 -27 -10.6 -6 -1.6 -4.5 0.3 -13.5 4.6 -15 1.8 -22.5 10.7 -9 2.3 -9 0.7z" fill="#f4f2f8"/><path d="M55.5 6.7l10.5 -2.0 15 1.0 9 -2.3 6 0.3 4.4 2.4 4.6 5.2 9 -1.1 4.5 1.6 3.2 3.3 4.3 7.9 2.3 -6.4 2.8 -4.5 2.5 -1.8 4.5 -0.7 4.6 2.5 4.4 7.7 7.5 0.5 2.7 2.3 1.5 3.0 1.4 10.5 -1.8 34.5 -2.9 22.5 -2.4 6.4 -1.8 -1.9 -2 -7.5 -3.7 -25.3 -1.5 5.9 -2.1 20.9 -1.9 12.0 -2 5.8 -1.5 0.6 -1.3 -2.0 -2.3 -9.0 -1.7 -12.0 -3.7 -38.7 -1.5 -0.2 -6.6 89.9 -2.9 22.5 -4 19.9 -1.7 -3.4 -3.7 -22.5 -2.9 -30.0 -2.1 -34.2 -1.5 -2.3 -2.1 9.5 -2.4 5.9 -1.5 1.5 -1.5 0.6 -3 -0.2 -1.4 1.2 -5.1 18.0 -5.7 13.5 -7 9.0 -9.2 7.8 -7.5 2.9 -7.5 -0.7 -4.6 -2.5 -4.7 -4.5 -2 -3.0 -3.6 -8.1 -1.5 -0.6 -6 4.9 -3 0.9 -3 -1.1 -2.1 -3.4 -1.8 -12.0 0.1 -19.5 3.4 -40.5 2.7 -16.5 4 -10.5 6.2 -9.0 3 -7.5 2.9 -4.5 8.3 -7.5z" fill="#ebe9f3"/><path d="M60.0 11.7l9 -1.3 12 1.9 7.5 -5.7 3 -0.9 3 0.1 3 1.3 1.9 1.9 4.1 9.3 1.5 1.0 4.5 -4.4 4.5 -1.0 3.8 2.5 2.9 6.0 1.5 9.0 0.5 12.0 -1.8 42.0 -4.5 66.0 -1.9 15.0 -2 9.5 -1.7 -3.5 -2.3 -16.5 -2.8 -39.0 -2.3 -49.5 -1.5 -8.4 -3.6 26.4 -3 12.0 -2.4 2.7 -1.5 -0.7 -1.9 -3.5 -2.6 -7.5 -1.5 -0.4 -5.3 24.4 -4.4 15.0 -6.2 13.5 -3 4.5 -4.2 4.5 -5.4 3.4 -4.5 0.8 -4.5 -1.2 -3.8 -3.1 -2.8 -4.5 -1.7 -4.5 -3.7 -18.7 -1.5 -2.9 -1.5 0.7 -6 9.9 -3 3.2 -1.5 0.3 -1.5 -1.1 -0.9 -1.9 -1.4 -9.0 0.3 -15.0 4.5 -40.5 2.6 -12.0 4.1 -9.0 10.3 -11.6 4.7 -9.4 2.8 -4.1 5.4 -4.9zM136.5 12.8l3 0.8 2.3 2.9 1.6 4.5 2 10.7 2 -4.7 2.5 -3.1 3 -0.8 3 2.0 2 4.9 0.6 7.5 -1.6 34.5 -2.5 18.0 -1.5 3.3 -1.5 -2.3 -1.9 -10.0 -4.1 -45.5 -1.5 6.4 -3.8 48.2 -2.1 10.5 -1.6 1.3 -2.1 -7.3 -1.8 -13.5 -2.9 -51.0 0.3 -6.0 1.3 -6.0 2.1 -3.6z" fill="#e2dfee"/><path d="M94.5 7.6l3 1.8 2.5 4.1 1.6 6.0 0.7 7.5 -2.8 40.5 -1.5 13.5 -2.5 12.0 -1.1 2.6 -1.5 1.4 -1.5 -1.1 -6 -19.0 -1.5 2.6 -6.8 35.9 -4.7 13.5 -6.1 12.0 -4.7 6.0 -4.8 3.4 -3 0.8 -3 -0.3 -3 -1.7 -2 -2.1 -3.6 -7.5 -2.3 -10.5 -2.9 -21.0 -1.2 -1.0 -1.5 1.8 -6 12.3 -3 4.3 -1.5 0.6 -1.5 -1.3 -1.4 -9.1 0.4 -10.5 4.8 -39.0 1.5 -7.5 2.2 -6.0 2.6 -4.5 10.3 -10.5 7.1 -12.0 5.6 -6.2 6 -3.3 6 -1.1 4.5 0.5 7.5 3.1 1.5 0.0 7.2 -9.5 3.3 -1.6zM136.5 15.6l3 1.2 1.6 2.7 1.2 4.5 0.7 7.5 -2.7 49.5 -2.1 13.5 -1.7 1.9 -1.9 -7.9 -1.6 -15.0 -1.9 -42.0 1.2 -10.5 1.2 -3.0zM112.5 16.9l3.2 1.1 2.2 3.0 1.2 3.0 1.7 9.0 0.5 13.5 -3.6 78.0 -2.9 34.5 -2.3 13.2 -1.5 -3.0 -0.9 -5.7 -2.8 -33.0 -3.7 -88.5 0.4 -9.0 1.7 -7.5 2.9 -6.0 2.4 -2.2zM153.0 25.9l1.5 0.7 1.5 2.2 1.5 8.7 -1.4 34.5 -1.6 12.4 -1.5 3.8 -1.5 -2.9 -1.8 -11.8 -1.9 -36.0 0.3 -4.5 1.3 -4.5 2.1 -2.3z" fill="#d9d5e8"/><path d="M94.5 9.1l3 2.4 1.8 3.5 1.7 10.5 -2.4 45.0 -3.1 19.5 -0.9 2.7 -1.5 1.6 -1.5 -1.3 -2 -6.0 -4 -18.3 -1.5 1.0 -6.8 39.9 -4.4 15.0 -7 13.5 -4.2 6.0 -4.6 3.5 -4.5 0.6 -3 -1.4 -2.4 -2.7 -2.2 -4.5 -1.8 -6.0 -1.8 -12.0 -1 -21.0 -1.3 -7.1 -1.5 -0.2 -1.5 2.3 -7.5 19.6 -3 3.4 -1.5 -1.5 -0.7 -5.9 0.4 -7.5 6.1 -43.5 1.7 -4.6 2.7 -4.4 9.3 -8.4 9 -14.5 4.5 -5.0 6 -3.3 6 -0.6 5.5 1.8 6.5 5.0 1.5 -1.4 2.6 -8.1 2.4 -4.5 2.5 -2.4 3 -0.8zM112.5 19.5l3 1.2 2.6 4.8 1.6 7.5 0.8 13.5 -4 88.5 -2 22.5 -2 11.2 -1.8 -5.2 -2.1 -22.5 -1.5 -27.0 -2.1 -67.5 0.6 -12.0 1.4 -7.5 2.4 -5.4zM136.5 18.1l1.5 0.2 2.1 2.7 1.3 4.5 0.5 6.0 -1.9 45.0 -2 13.7 -1.5 1.4 -1.5 -6.5 -1.2 -11.5 -1.6 -42.0 1.1 -9.0 1.7 -3.4zM153.0 28.6l1.5 1.0 0.9 1.9 1 6.0 -1 33.0 -0.9 8.3 -1.5 4.6 -1.5 -3.6 -1.1 -9.2 -1.3 -33.0 0.9 -6.0 1.5 -2.4z" fill="#d0cce3"/><path d="M94.5 10.6l1.8 1.4 1.8 3.0 1.3 4.5 0.6 6.0 -2 43.5 -1.4 12.0 -1.6 7.5 -2 3.4 -1.7 -1.9 -2.1 -7.5 -3.8 -23.1 -1.5 -0.7 -6.7 44.9 -4.6 18.0 -2.9 6.0 -8.3 13.7 -4.5 3.7 -4.5 0.4 -3 -2.0 -2.5 -3.8 -3.1 -10.5 -1.5 -13.5 -0.3 -28.5 -1.6 -7.6 -1.5 -0.1 -3 4.9 -7.5 23.1 -1.5 1.4 -0.6 -6.7 5.1 -39.5 3 -6.6 3 -3.1 6 -4.2 10.5 -17.4 3.7 -4.2 3.8 -2.7 6 -1.4 4.5 1.1 4.5 3.8 6 8.8 1.5 -4.2 1.2 -11.4 2 -6.0 2.9 -3.8 1.5 -0.8zM136.5 20.6l1.5 0.3 1.5 2.1 1.4 8.5 -1.4 42.0 -1.5 11.8 -1.5 1.6 -2.2 -16.4 -1.2 -39.0 1.1 -7.5 0.9 -2.0zM112.5 21.9l1.5 0.2 1.5 1.3 2.3 5.1 1.5 9.0 0.4 10.5 -3.3 81.0 -1.9 24.0 -2 12.3 -1.8 -6.3 -2 -24.0 -2.9 -85.5 0.4 -10.5 1.3 -9.0 2 -5.5zM153.0 31.6l1.5 1.6 0.8 4.3 -0.6 31.5 -1.7 9.0 -1.5 -5.1 -1.1 -35.4 0.9 -4.5z" fill="#c7c2de"/><path d="M93.0 11.6l3 1.6 1.5 2.5 1.2 3.8 0.6 6.0 -2.2 48.0 -2 12.0 -2.1 4.1 -1.5 -1.7 -1.2 -3.9 -2.3 -13.5 -2.1 -19.5 -0.3 -25.5 0.9 -6.0 2.8 -6.0 2.2 -1.7zM136.5 23.3l1.5 0.4 1 1.9 1 6.0 -1 39.0 -1 9.6 -1.5 1.9 -1.7 -12.9 -0.8 -37.5 0.9 -6.0zM112.5 24.1l1.5 0.3 1.5 1.6 1.7 4.0 1.5 9.0 0.4 10.5 -2.9 76.5 -1.8 24.0 -1.8 12.0 -1.7 -6.0 -2 -25.5 -2.3 -81.0 0.5 -10.5 1.2 -7.5 1.6 -4.5 1.3 -2.0zM67.5 26.8l3 0.8 3 2.1 4.5 5.5 2.6 5.4 1.7 10.5 -0.7 15.0 -4.6 34.5 -4.2 18.0 -2.7 6.0 -8.6 13.8 -4.5 4.0 -3 0.6 -3 -1.4 -2.5 -3.4 -2.2 -6.0 -1.5 -7.5 -0.9 -12.0 0.3 -34.5 -1.8 -16.5 7.6 -18.0 5.6 -9.8 6 -5.6 3 -1.2zM153.0 36.1l0 33.6 -0.6 -30.7zM38.7 61.5l0.7 1.5 -0.5 1.5 -2.9 3.7 -1.1 -2.2 0.7 -3.0 1.9 -1.8z" fill="#bfb8d9"/><path d="M93.0 12.9l1.6 0.6 2.3 3.0 1.3 4.5 0.4 6.0 -1.9 45.0 -2 12.0 -1.8 3.4 -2 -3.4 -2.2 -12.0 -2.1 -25.5 -0.1 -22.5 1.3 -6.0 2.1 -3.7zM112.5 26.3l1.5 0.3 1.5 1.9 1.5 4.4 1.1 7.6 0.3 9.0 -2.4 72.0 -1.8 25.5 -1.7 11.6 -1.5 -4.6 -2 -26.5 -2 -76.5 0.4 -10.5 1.2 -7.5 1.7 -4.5zM136.5 26.4l1.5 0.6 0.9 6.0 -0.9 40.4 -1.5 2.7 -0.9 -10.1 -0.4 -36.0zM67.5 30.4l4.5 1.9 3 2.5 2.1 2.7 2.1 4.5 1.4 6.0 0.4 6.0 -0.9 16.5 -4.1 31.5 -4 16.1 -3 6.1 -8.3 12.3 -3.7 3.1 -3 0.4 -3 -1.9 -2.6 -4.7 -2.8 -13.5 -0.4 -10.5 1.6 -48.0 3.1 -12.0 5.6 -11.5 3 -3.8 3 -2.4 3 -1.2z" fill="#b6aed3"/><path d="M93.0 14.2l1.7 0.8 2 3.0 1.4 9.0 -1.6 43.5 -1.9 12.0 -1.6 2.7 -1.7 -2.7 -2.1 -12.0 -1.6 -22.5 -0.2 -24.0 1.1 -5.2 1.5 -3.0zM112.5 28.4l1.5 0.4 2.5 5.7 1.4 15.0 -2.2 70.5 -1.6 24.0 -1.6 11.1 -1.5 -5.1 -1.8 -25.5 -1.7 -73.5 0.4 -9.0 1.2 -7.5 1.9 -4.8zM67.5 33.6l4.5 1.6 4 3.8 2.2 4.5 1.4 6.0 0.3 15.0 -3.7 31.5 -2.4 13.5 -3.6 10.5 -10.2 14.6 -3 2.4 -3 0.2 -2.8 -2.3 -1.7 -3.1 -1.7 -5.9 -1.2 -9.0 -0.1 -9.0 2.3 -45.0 2.9 -12.0 5 -10.5 4.9 -5.3 3 -1.4z" fill="#ada5ce"/><path d="M93.0 15.5l1.5 0.7 1.5 2.1 1.5 8.7 -1.3 42.0 -1.7 11.3 -1.5 2.7 -1.5 -2.2 -2 -11.8 -1.6 -40.5 1.2 -9.0 1.8 -3.0zM112.5 30.6l1.5 0.5 2.1 4.9 1.4 15.0 -2.1 69.0 -1.4 21.3 -1.5 10.2 -1.5 -5.7 -1.6 -24.4 -1.4 -70.5 1.5 -15.0 1.5 -4.0zM69.0 36.5l4.5 2.2 2.6 3.3 1.8 4.5 1.1 6.0 0 13.5 -3.4 30.0 -2.5 13.5 -2.6 7.8 -10.5 14.6 -3 2.4 -1.5 0.3 -3 -1.5 -1.8 -2.8 -1.9 -6.0 -1.1 -7.5 -0.2 -9.0 2.6 -43.5 2.8 -12.0 4.2 -9.0 2.8 -3.7 3 -2.4 3 -1.1z" fill="#a39cca"/><path d="M93.0 16.9l1.5 0.8 1.5 2.7 0.9 6.6 -1.1 40.5 -1.3 10.1 -1.5 3.1 -1.5 -2.5 -1.6 -10.8 -1.3 -39.0 0.2 -4.5 1.2 -4.5 1.6 -2.1zM112.5 32.7l1.5 0.6 1.5 3.3 1.5 14.4 -1.9 67.5 -1.2 18.6 -1.5 10.6 -1.5 -6.3 -1.2 -20.0 -1.3 -69.0 1 -13.1 1.5 -5.0zM69.0 38.8l3 1.0 3 2.9 2.3 5.3 1 6.0 0 12.0 -3.5 31.5 -2.8 13.5 -3.1 7.2 -9 11.1 -3 2.4 -1.5 0.2 -3 -2.1 -1.5 -2.9 -2.2 -11.4 -0.1 -7.5 2.8 -42.0 2.8 -12.0 4.2 -8.7 4.5 -4.8 3 -1.4z" fill="#9a93c6"/><path d="M93.0 18.3l1.5 1.0 0.8 1.7 1 6.0 -1 40.5 -0.8 7.2 -1.5 3.6 -1.5 -2.8 -1.1 -8.0 -1.2 -37.5 0.8 -8.4 1.5 -2.7zM112.5 35.0l1.5 0.7 1.5 4.1 1 11.3 -1.7 67.5 -0.8 14.2 -1.5 11.2 -1.5 -7.0 -0.9 -16.9 -1.1 -67.5 1 -12.0 1 -3.6zM69.0 40.9l3 1.0 3 3.3 1.7 4.3 1 6.0 -0.1 12.0 -3.5 31.5 -2.1 9.9 -3 7.4 -10.5 11.7 -3 0.9 -1.9 -1.4 -2.2 -4.5 -1.5 -10.5 3.1 -46.5 2.5 -10.2 3.6 -7.8 5.4 -5.8z" fill="#9089c1"/><path d="M93.0 19.9l1.5 1.2 1.2 5.9 -1.2 44.2 -1.5 4.5 -1.5 -3.4 -0.6 -4.8 -1.1 -36.0 0.3 -7.5 1.3 -3.4zM112.5 37.3l1.5 0.9 1.2 3.8 0.8 10.5 -1.5 66.0 -2 21.2 -1.5 -8.0 -0.6 -13.3 -0.9 -66.0 1 -10.5zM70.5 43.2l3 2.1 1.5 2.4 1.5 4.8 0.7 6.0 -0.3 10.5 -3.6 31.5 -2.2 9.0 -2.1 4.8 -10.5 10.6 -3 0.6 -1.5 -1.3 -1.5 -3.1 -1.4 -10.2 3.4 -45.0 2.9 -10.5 4 -7.5 4.5 -4.2z" fill="#8680bd"/><path d="M93.0 21.7l1.5 1.9 0.4 4.9 -0.5 36.0 -1.4 8.1 -1.6 -6.6 -0.7 -33.0 0.9 -10.2zM112.5 39.9l1.5 1.1 0.7 2.5 0.9 9.0 -1.3 64.5 -1.7 18.2 -1.5 -9.5 -1 -73.2 0.8 -9.0zM70.5 45.1l3 2.3 1.5 3.0 1.6 9.7 -0.5 10.5 -3.2 28.5 -2.1 9.0 -1.8 4.3 -1.5 2.0 -10.5 7.9 -1.5 -0.5 -1.5 -2.1 -1.5 -8.6 3.4 -43.5 2.3 -9.0 3.5 -7.5 4.3 -4.9 2.8 -1.1z" fill="#7d77b8"/><path d="M93.0 24.3l0.8 2.7 -0.8 41.0 -1.5 -30.5 0.3 -10.5zM112.5 42.7l1.5 1.6 0.8 8.2 -0.8 58.5 -1.5 19.1 -1.5 -13.7 -0.4 -63.8 0.4 -5.6zM70.5 47.0l2.9 2.5 1.3 3.0 1.3 9.0 -0.6 10.5 -3.3 28.5 -1.6 6.3 -3 5.4 -4.5 2.1 -4.5 3.5 -1.5 0.3 -2 -2.5 -0.9 -6.0 3.4 -42.0 1.9 -7.5 3.5 -7.8 3.6 -4.2 2.4 -1.1z" fill="#736eb4"/><path d="M112.5 46.4l1.5 3.0 -1.5 74.2 -0.8 -11.1 -0.3 -58.5zM70.5 49.0l1.5 0.9 1.7 2.6 1.7 9.0 -3.4 36.4 -1.5 6.4 -3 5.6 -1.5 0.7 -4.5 0.3 -3 1.3 -1.5 -1.3 -0.3 -2.8 2.9 -42.0 2.1 -7.5 2.8 -5.7 3 -3.3z" fill="#6965af"/><path d="M70.5 51.0l1.8 1.5 1.8 4.5 0.7 6.0 -0.3 6.0 -3.8 31.5 -1.7 4.9 -1.5 1.9 -1.5 0.3 -1.8 -1.1 -2 -3.0 -1.5 -6.0 0 -27.0 1.2 -7.5 2.6 -7.1 3 -4.1z" fill="#605cab"/><path d="M70.5 53.1l1.5 1.2 1.5 3.7 0.6 7.9 -3.1 30.0 -1.9 6.6 -1.5 1.7 -1.5 -0.3 -1.3 -1.9 -1.6 -6.0 -0.8 -25.5 1.1 -7.5 2.1 -6.0 2 -2.9 1.5 -1.0z" fill="#5956a8"/><path d="M70.5 55.4l1.5 1.6 0.9 3.0 0.4 7.5 -2.8 26.1 -1.5 5.6 -1.5 1.5 -1.5 -1.5 -1.2 -4.7 -0.9 -25.5 2 -9.6 1.5 -2.7 1.5 -1.3z" fill="#5555a7"/><path d="M70.5 58.1l1.5 2.6 0.4 2.3 -0.2 7.5 -3.2 23.7 -1.5 1.4 -1.5 -8.5 -0.5 -19.5 2 -7.7 1.5 -1.7z" fill="#5154a6"/><path d="M69.0 61.4l1.5 0.2 0.9 4.3 -0.9 9.9 -1.5 7.0 -1.5 -2.5 -0.6 -9.8 0.5 -6.0z" fill="#4e54a5"/>
</g>
<polyline points="0.0,182.3 1.3,182.1 6.1,180.7 13.3,183.9 19.2,182.5 25.3,193.5 31.2,177.1 37.5,150.6 43.2,147.0 49.6,138.6 55.8,147.5 61.7,132.7 68.0,143.5 73.7,147.5 80.0,157.8 85.9,152.9 92.2,164.2 98.1,137.4 104.2,152.4 110.6,215.1 122.6,138.6 128.5,169.9 134.5,128.5 141.2,138.8 147.1,128.1 153.0,147.3 158.7,182.2 165.0,123.1 171.6,119.0 177.0,120.4 183.8,126.3 189.5,125.8 195.4,127.6 201.3,126.3 207.4,143.1 213.3,144.9 219.2,144.6 225.9,125.8 232.2,140.6 237.9,151.4 243.8,146.4 250.1,151.4 256.4,127.6 262.3,132.4 268.2,129.4 280.2,148.5 286.1,131.7 292.4,145.5 298.7,134.7 304.6,128.1 310.8,142.4 316.7,144.9 322.9,130.3 329.7,122.7 334.6,122.7 341.2,132.9 347.1,131.1 353.0,124.5 359.1,132.4 365.0,124.0 371.3,144.9 377.5,138.8 383.4,142.4 389.8,126.5 395.0,127.1 401.5,130.4 407.9,134.8 414.1,125.7 419.5,93.1 425.8,75.7 431.6,50.4 437.8,47.5 444.2,41.1 450.6,44.2 456.4,38.8 462.2,61.1 468.1,63.6 474.3,56.3 480.1,40.3 486.3,33.4 492.8,43.6 498.6,33.4 505.0,29.5 511.2,45.0 517.1,46.2 523.3,43.6 529.7,63.0 531.1,66.5" fill="none" stroke="#000" stroke-width="2.1" stroke-linejoin="round"/>
</g>
<line x1="79.5" y1="380.6" x2="610.6" y2="380.6" stroke="#8c8c8c" stroke-width="1.3"/>
<path d="M79.5,380.0 V605.6 H610.6 V380.0" fill="none" stroke="#2b2b2b" stroke-width="2.2"/>
<text transform="translate(109.85,634.10) scale(1.015,1)" text-anchor="middle" font-size="25.0" font-weight="normal" >750</text>
<text transform="translate(261.59,634.10) scale(1.015,1)" text-anchor="middle" font-size="25.0" font-weight="normal" >700</text>
<text transform="translate(413.33,634.10) scale(1.015,1)" text-anchor="middle" font-size="25.0" font-weight="normal" >650</text>
<text transform="translate(565.08,634.10) scale(1.015,1)" text-anchor="middle" font-size="25.0" font-weight="normal" >600</text>
<text transform="translate(71.50,388.80) scale(1.015,1)" text-anchor="end" font-size="25.0" font-weight="normal" >0</text>
<text transform="translate(71.50,463.80) scale(1.015,1)" text-anchor="end" font-size="25.0" font-weight="normal" >-10</text>
<text transform="translate(71.50,538.80) scale(1.015,1)" text-anchor="end" font-size="25.0" font-weight="normal" >-20</text>
<text transform="translate(71.50,613.80) scale(1.015,1)" text-anchor="end" font-size="25.0" font-weight="normal" >-30</text>
<text transform="translate(345.05,662.60) scale(1.08,1)" text-anchor="middle" font-size="25.0" font-weight="normal" >distance[km]</text>
<text transform="translate(25.1,493.1) rotate(-90) scale(1.27,1)" text-anchor="middle" font-size="22">depth [m]</text>
<text x="5.5" y="372.5" font-size="28.8" font-weight="bold">C</text>
<linearGradient id="cbgC" x1="0" y1="1" x2="0" y2="0"><stop offset="0.0000" stop-color="#28308a"/><stop offset="0.1250" stop-color="#3a50a0"/><stop offset="0.2500" stop-color="#5a56a8"/><stop offset="0.3750" stop-color="#b0a8d0"/><stop offset="0.5000" stop-color="#ffffff"/><stop offset="0.6250" stop-color="#f4a8a8"/><stop offset="0.7500" stop-color="#ee5a5a"/><stop offset="0.8500" stop-color="#e81c24"/><stop offset="0.9250" stop-color="#b01c22"/><stop offset="1.0000" stop-color="#7a1a1a"/></linearGradient><rect x="618.75" y="381.65000000000003" width="14.199999999999955" height="223.4" fill="url(#cbgC)" stroke="#1e2626" stroke-width="2.1"/>
<text transform="translate(639.80,615.10) scale(1.015,1)" text-anchor="start" font-size="25.0" font-weight="normal" >-0.01</text>
<text transform="translate(639.80,558.73) scale(1.015,1)" text-anchor="start" font-size="25.0" font-weight="normal" >-0.005</text>
<text transform="translate(639.80,502.35) scale(1.015,1)" text-anchor="start" font-size="25.0" font-weight="normal" >0</text>
<text transform="translate(639.80,445.98) scale(1.015,1)" text-anchor="start" font-size="25.0" font-weight="normal" >0.005</text>
<text transform="translate(639.80,389.60) scale(1.015,1)" text-anchor="start" font-size="25.0" font-weight="normal" >0.01</text>
<path d="M633.0,549.7 h-4 M633.0,493.4 h-4 M633.0,437.0 h-4" stroke="#222" stroke-width="1.6" fill="none"/>
<path d="M842.7,605.4 v-6 M994.2,605.4 v-6 M1145.7,605.4 v-6 M1297.2,605.4 v-6 M812.4,455.4 h6 M1342.6,455.4 h-6 M812.4,530.4 h6 M1342.6,530.4 h-6" stroke="#2b2b2b" stroke-width="2" fill="none"/>
<g transform="translate(812.4,380.4)">
<clipPath id="clipD"><polygon points="0,0 530.2,0 530.2,66.5 530.2,66.5 528.8,63.0 522.4,43.6 516.2,46.2 510.3,45.0 504.1,29.5 497.7,33.4 491.9,43.6 485.5,33.4 479.3,40.3 473.5,56.3 467.3,63.6 461.4,61.1 455.6,38.8 449.8,44.2 443.4,41.1 437.1,47.5 430.9,50.4 425.1,75.7 418.8,93.1 413.4,125.7 407.2,134.8 400.8,130.4 394.4,127.1 389.2,126.5 382.8,142.4 376.9,138.8 370.7,144.9 364.4,124.0 358.5,132.4 352.4,124.5 346.5,131.1 340.6,132.9 334.0,122.7 329.1,122.7 322.3,130.3 316.1,144.9 310.2,142.4 304.1,128.1 298.2,134.7 291.9,145.5 285.6,131.7 279.7,148.5 267.7,129.4 261.9,132.4 256.0,127.6 249.7,151.4 243.4,146.4 237.5,151.4 231.8,140.6 225.5,125.8 218.9,144.6 213.0,144.9 207.1,143.1 201.0,126.3 195.1,127.6 189.2,125.8 183.5,126.3 176.7,120.4 171.3,119.0 164.7,123.1 158.4,182.2 152.7,147.3 146.8,128.1 140.9,138.8 134.2,128.5 128.3,169.9 122.4,138.6 110.4,215.1 104.0,152.4 97.9,137.4 92.0,164.2 85.8,152.9 79.9,157.8 73.6,147.5 67.9,143.5 61.6,132.7 55.7,147.5 49.5,138.6 43.2,147.0 37.5,150.6 31.2,177.1 25.3,193.5 19.2,182.5 13.3,183.9 6.1,180.7 1.3,182.1 0.0,182.3"/></clipPath>
<g clip-path="url(#clipD)">
<rect x="-1" y="-1" width="532.2" height="227.0" fill="#ffffff"/><path d="M47.2 0.0l0.8 6.0 2.7 9.0 -2.9 6.0 -1 7.5 2 42.0 2.3 15.6 1.5 2.6 2.7 -4.7 0.3 -2.1 0.6 5.1 0.4 28.5 -0.7 7.5 -1.6 7.5 -1.8 4.6 -1.5 -0.3 -1.5 -1.5 -6 8.1 -6 4.2 -1.5 5.0 -1.5 1.6 -6 2.0 -7.5 1.4 -21 0.8 0 -156.3zM386.4 112.5l-1 -1.5 -0.3 -4.5 0.8 -82.5 -0.6 -7.5 -2 -10.5 -0 -6.0 132 0.0 -0.9 16.5 -2.6 4.5 -3.3 2.7 -3 1.3 -1.5 -0.6 -6 1.3 -12 -3.7 -1.5 1.2 -4.9 8.4 -4.1 3.4 -6 1.2 -9 -2.4 -3 1.3 -3 0.3 -4.5 4.0 -6 -1.6 -2.6 1.3 -4.9 4.7 -4.5 2.9 -1.7 2.9 -0.2 4.5 -1.1 1.5 -0.2 4.5 -1.2 2.1 -0.5 5.4 -1.1 1.5 -0.6 4.5 -2.3 5.0 -0.4 2.5 -1.2 1.5 -0.4 3.0 -1.2 1.5 -0.2 3.0 -1.2 1.7 -0.4 7.3 -1.1 1.5 -0.4 6.0 -2.5 6.7 -7.5 4.7 -4.5 1.7 -3 0.3 -6 -1.6zM63.0 11.5l1.5 0.1 1.5 1.2 1.1 2.2 1.5 10.5 -1.6 49.5 -2.5 18.9 -1.5 -0.7 -2.1 -13.7 -1.9 -33.0 0 -27.0 1.8 -6.0zM165.0 12.0l3 0.7 1.9 2.3 1 7.5 -2 31.5 -1.8 10.5 -2.1 4.0 -2.2 -4.0 -1.6 -9.0 -2.7 -33.0 1.3 -7.5 2.2 -2.4zM124.5 33.3l4.5 0.9 3.3 3.3 1.9 6.0 0.6 7.5 -3.6 51.0 -2.9 18.0 -2.3 4.0 -1.5 -1.5 -1 -2.5 -2.8 -15.0 -4.8 -52.5 0.4 -9.0 1.7 -6.0 2.7 -3.0zM144.0 44.8l3 1.1 1.5 2.1 1.3 4.5 0.4 6.0 -2.5 37.5 -1.7 10.5 -2.1 4.8 -2.1 -4.8 -1.7 -10.5 -2.7 -39.0 0.7 -6.0 1.1 -3.0 1.6 -2.1zM205.5 59.2l3 1.1 2.2 2.8 1.2 4.5 0.2 4.5 -2.8 33.0 -2.5 10.5 -1.4 2.8 -1.5 1.0 -1.5 -1.0 -1.4 -2.8 -2.5 -10.5 -1.2 -13.5 -0 -19.5 0.8 -6.0 1.3 -3.3 3 -3.0zM283.5 90.5l1.3 2.5 2.6 16.5 -0.2 3.0 -2.2 3.1 -1.5 -1.6 -1.5 -21.0z" fill="#fdf2f2"/><path d="M0.0 0.0l21.2 0.0 1.1 3.0 9.2 9.2 4.4 5.8 2.8 6.0 1.9 7.5 2.4 30.0 4.2 34.5 0.3 12.0 -0.8 10.5 -2.8 10.5 -4.8 7.5 -6 4.8 -9 3.1 -7.5 0.4 -16.5 -1.4zM388.8 111.0l-2.1 -3.0 -0.7 -4.5 0.6 -78.0 -1.1 -18.0 1.9 -7.5 124.7 0.0 -2.2 16.5 -1.7 3.0 -2.6 2.1 -4.5 1.4 -6 -1.1 -4.6 -3.9 -2.9 -6.1 -1.5 -0.8 -1.5 1.2 -1.5 3.1 -3.7 11.6 -2.3 3.4 -3 2.4 -3 0.9 -3 -0.2 -7.5 -3.9 -1.5 -0.1 -9 8.3 -6 -1.0 -6 3.2 -6 5.8 -1.5 2.3 -5.1 23.9 -7.1 19.5 -0.3 6.0 -1.3 3.0 -0.7 6.0 -2 3.4 -9 5.6 -6 1.5 -4.5 -1.1zM166.5 13.3l2.1 1.7 1.5 4.5 0.3 4.5 -1.7 27.0 -1.5 10.5 -2.1 5.1 -2.1 -5.1 -1.6 -10.5 -1.9 -27.0 0.3 -4.5 1.6 -4.5 2.2 -1.7zM64.5 16.7l2 4.3 0.7 7.5 -0.8 36.0 -1.9 19.8 -1.5 -2.0 -1.1 -10.2 -1.4 -43.5 1.1 -9.0 1.4 -2.6zM124.5 35.2l3.6 0.8 2.8 3.0 1.9 6.0 0.5 6.0 -2.2 43.5 -2.5 19.5 -1 4.1 -1.5 2.6 -1.5 -1.9 -1 -3.3 -2.7 -16.5 -3.6 -46.5 0.4 -7.5 1.7 -6.0 2.2 -2.7zM144.0 47.7l1.5 0.5 2 2.8 1.2 7.5 -1.4 30.0 -1.4 12.0 -1.9 5.6 -1.9 -5.6 -1.4 -12.0 -1.4 -30.0 1.2 -7.5 2 -2.8zM204.0 61.2l3 0.7 1.5 1.5 1.5 4.1 0.4 4.5 -2.4 33.0 -2.5 9.5 -1.5 1.4 -1.5 -1.4 -2.7 -11.0 -1 -12.0 -0 -22.5 1.4 -4.5 2.5 -2.8zM283.5 91.1l3.2 16.9 -0.2 2.5 -1.5 2.4 -1.5 -4.2 -1 -15.7z" fill="#fce9e9"/><path d="M483.0 0.0l-4.7 24.0 -1.3 3.0 -2.4 3.0 -3.6 1.7 -3 -0.2 -9 -6.3 -1.5 0.9 -4.4 6.9 -3.1 3.0 -3 0.8 -3 -0.7 -7.6 1.4 -1.5 4.5 -4.7 6.0 -0.4 4.5 -1.3 3.0 -0.1 3.0 -1.2 3.0 -2 10.5 -7 19.5 -0.3 6.0 -1.4 3.0 -0.9 5.7 -7.5 5.3 -6 2.9 -4.5 0.2 -4.5 -2.3 -5 -5.9 -1.2 -6.0 0.5 -75.0 -0.5 -15.0 0.9 -4.5 4.1 -6.0zM491.7 0.0l15.6 0.0 -1.4 16.5 -2.7 3.0 -2.1 0.6 -3 -0.2 -3.1 -1.9 -0.8 -1.5zM165.0 13.9l1.5 0.4 2.1 2.3 1.2 7.5 -1.3 24.0 -1.6 12.0 -1.9 5.0 -1.9 -5.0 -1.6 -12.0 -1.4 -24.0 1.3 -7.5 2.2 -2.3zM64.5 21.5l1.2 4.0 0.3 4.5 -0.5 31.5 -1 13.8 -1.5 -3.0 -1.1 -42.3 1 -7.5zM124.5 36.6l3 0.7 2.7 3.2 1.4 4.5 0.7 7.5 -2.4 46.5 -1.9 13.5 -2.1 5.6 -1.5 -2.1 -0.9 -3.5 -2.7 -18.0 -2.9 -42.0 1.3 -10.5 2.1 -3.8zM0.0 41.6l10.5 -1.6 3 0.7 3 2.3 15 23.5 4.5 9.7 2.5 7.6 1.9 9.0 0.9 9.0 -0.2 9.0 -1.2 7.5 -2 6.0 -3.5 5.5 -4.5 3.8 -4.5 1.8 -6 0.3 -6 -1.6 -6.8 -3.8 -6.7 -5.5zM144.0 50.3l1.5 0.7 1.5 3.0 0.6 6.0 -1.2 30.0 -0.9 7.1 -1.5 4.5 -1.5 -4.5 -0.9 -7.1 -1.2 -30.0 0.6 -6.0 1.5 -3.0zM204.0 62.9l1.5 0.2 1.8 1.4 1.4 3.0 0.5 4.5 -1.7 30.0 -2 9.0 -1.6 2.1 -1.6 -2.1 -2 -9.0 -1.1 -28.5 1.2 -7.5 2 -2.5zM283.5 91.9l2.5 14.6 -1 4.0 -1.8 -7.0z" fill="#fbdfdf"/><path d="M479.6 0.0l-2.7 22.5 -1 3.0 -2.3 3.0 -4.2 1.4 -3 -1.1 -3.1 -3.3 -2.9 -6.5 -1.5 -1.4 -1.5 1.1 -4.3 11.3 -3.8 4.5 -2.5 1.2 -6 -0.3 -4.5 -1.8 -2.1 0.9 -1 3.0 -0.2 4.5 -3.4 6.0 -0.4 4.5 -1.3 3.0 -0.1 3.0 -1.3 3.0 -2.1 10.5 -6.9 19.5 -0.3 6.0 -1.4 3.0 -0.5 3.8 -7.5 5.2 -6 3.0 -4.5 0.1 -3.4 -1.7 -5 -6.0 -1.4 -6.0 0.1 -87.0 0.6 -3.8 1.5 -2.2 3 -2.2 6 -1.3 21 -0.2 9 1.6 1.6 -0.9 0.5 -3.0zM165.0 14.6l1.5 0.5 2.1 2.9 0.8 6.0 -1.8 30.0 -1 5.9 -1.5 3.8 -1.5 -3.8 -1.1 -5.9 -1.9 -30.0 0.8 -6.0 2.2 -3.0zM124.5 37.9l3 0.8 2.4 3.3 1.3 4.5 0.5 6.0 -1.9 43.5 -1.7 13.5 -2.1 6.3 -1.8 -3.3 -2.1 -12.0 -3.3 -46.5 0.4 -7.5 1.2 -4.5 2 -3.0zM144.0 52.8l1.5 1.2 1.1 6.0 -0.7 27.0 -1.8 9.9 -1.8 -9.9 -0.7 -27.0 1.1 -6.0zM204.0 64.5l1.5 0.3 1.5 1.6 1.3 5.7 -1.3 28.5 -1.5 7.9 -1.5 2.1 -1.5 -2.1 -1.5 -7.9 -0.9 -27.0 0.9 -6.1 1.5 -2.2zM22.5 79.3l4.5 1.2 4.5 4.9 3.1 7.5 1.6 10.5 -0.6 9.0 -2.4 7.5 -4.6 5.5 -4.5 1.7 -3 -0.2 -3 -1.3 -4.2 -4.2 -2.8 -6.0 -1.5 -9.0 0.5 -9.0 2.6 -9.0 3.9 -6.0 2.9 -2.3zM283.5 98.0l1.5 4.2 0 6.0 -1.5 -4.4z" fill="#fad5d5"/><path d="M477.1 0.0l-1.9 22.5 -1.1 3.0 -1.5 1.6 -3 0.8 -3.8 -2.5 -1.4 -3.0 -2.3 -10.9 -1.5 -3.3 -1.5 -0.9 -1.5 1.5 -1.5 3.8 -3.6 15.8 -3.3 4.5 -3.3 1.5 -3.3 -0.3 -3 -1.6 -6 -5.1 -1.7 3.9 -0.4 12.0 -1.9 4.5 -0.3 4.5 -0.9 1.5 -2.2 12.0 -8.5 25.5 -0.3 6.0 -1.1 1.5 -0.6 3.2 -7.5 5.5 -6 2.9 -4.5 0.1 -3 -1.7 -3 -3.5 -1.5 -3.0 -1.2 -8.0 0.3 -79.5 0.6 -4.5 1.7 -3.0 3 -1.8 3 -0.6 24 0.1 5.8 2.3 4.7 4.9 1.5 -3.8 0.6 -8.6zM165.0 15.3l1.5 0.5 1.5 2.2 1 6.0 -1.6 28.5 -1 5.9 -1.5 4.1 -1.5 -4.1 -1 -5.9 -1.7 -28.5 1 -6.0 1.6 -2.2zM124.5 39.1l3 0.9 1.5 2.0 1.5 4.5 0.7 6.0 -1.5 40.5 -1.8 15.0 -1.9 5.7 -1.6 -2.7 -2.3 -13.5 -2.8 -43.5 1.3 -10.5 1.7 -3.0zM144.0 56.0l1.5 4.0 -0.7 25.5 -0.8 5.8 -0.8 -5.8 -0.7 -25.5zM204.0 66.1l2.2 1.4 1.2 4.5 -0.9 27.0 -1 6.2 -1.5 2.6 -1.5 -2.6 -1 -6.2 -0.6 -25.5 0.6 -4.5 1 -2.0zM24.0 93.0l3 1.5 1.5 2.2 1.3 3.8 0.5 4.5 -0.5 4.5 -1.2 3.3 -1.5 2.0 -3 1.4 -2.4 -0.8 -2.1 -2.2 -1.5 -3.8 -0.5 -4.5 0.4 -4.5 1.6 -4.3 1.5 -1.9z" fill="#f8cccc"/><path d="M436.2 0.0l19.8 0.0 -4.5 27.0 -1.5 3.1 -3 2.5 -3 0.4 -3 -1.3 -3.6 -4.7zM463.3 0.0l11.1 0.0 -1.4 22.5 -0.5 1.5 -1.5 1.3 -1.5 0.2 -1.5 -0.8 -1.4 -2.3zM420.4 7.5l4 1.5 1.5 1.5 2 6.0 1.8 28.5 -0.7 6.7 -1.2 2.3 -0.2 4.5 -1.1 1.5 -0.4 4.5 -1.4 3.0 -0.2 3.3 -1 1.2 -0.5 3.0 -1.1 1.5 -0.5 3.0 -2.6 6.0 -0.3 3.0 -1.1 1.5 -0.5 7.0 -1.5 2.5 -7.5 6.1 -6 2.7 -3 0.3 -3 -1.2 -2.4 -2.4 -1.6 -3.0 -1 -4.5 -0.2 -51.0 0.7 -34.5 1.9 -3.0 4.1 -1.5zM165.0 15.9l1.5 0.6 1 1.5 1.2 6.0 -1.4 27.0 -0.9 6.0 -1.5 4.4 -1.5 -4.4 -0.9 -6.0 -1.4 -27.0 1.2 -6.0 1.1 -1.5zM124.5 40.2l3 1.1 1.4 2.2 1.7 9.0 -1.2 39.0 -1.4 13.5 -1.9 6.7 -1.5 -2.4 -2.2 -13.3 -2.5 -42.0 1 -9.0 1.4 -3.0zM204.0 68.0l1.5 0.8 0.8 3.2 -0.6 27.0 -1.8 5.8 -1.8 -5.8 -0.1 -28.5z" fill="#f7c2c2"/><path d="M453.1 0.0l-3 27.0 -3.1 3.9 -3 0.5 -3 -1.8 -2 -4.1 -0.9 -25.5zM419.1 10.5l2.4 0.9 1.5 1.5 1.5 5.1 2.4 28.5 -0.9 9.7 -6 25.1 -1.3 2.6 -0.2 3.1 -1 1.4 -0.5 3.8 -1.1 2.2 -7.9 8.8 -6 1.8 -3 0.2 -1.5 -0.7 -2.2 -2.6 -1.5 -6.0 0.3 -81.0 1.3 -3.0 3.1 -1.5zM165.0 16.5l2 1.5 1.4 6.0 -1.1 25.5 -0.8 6.1 -1.5 4.7 -1.5 -4.6 -0.9 -6.2 -1.2 -25.5 1.5 -6.0zM124.5 41.3l1.5 0.1 1.5 1.2 1.3 2.5 1.4 9.0 -1.3 39.0 -1.4 12.0 -1.5 4.8 -1.5 -2.5 -2 -12.8 -2.2 -40.5 1.2 -9.0 1.6 -2.8zM204.0 70.8l0.7 1.2 -0.1 25.5 -0.6 3.3 -0.6 -3.3 0 -24.0z" fill="#f6b8b8"/><path d="M440.2 0.0l10.4 0.0 -1.8 25.5 -1.5 3.0 -1.8 1.0 -3 -0.9 -1.6 -3.1zM408.0 14.3l3.1 0.7 2.8 3.0 1.3 4.5 0.3 6.0 -2.4 51.0 -1.7 13.5 -1.4 4.5 -2 2.6 -1.5 -0.5 -1.2 -2.1 -1.4 -7.5 -1.4 -15.0 -1.9 -46.5 0.3 -6.0 1.2 -4.5 2.7 -3.0zM165.0 17.1l1.5 0.8 0.9 1.6 0.8 6.0 -1.1 24.0 -2.1 9.7 -2.2 -9.7 -1.1 -24.0 0.9 -6.0 0.9 -1.6zM124.5 42.3l1.5 0.1 2.2 2.6 1.3 4.5 0.4 4.5 -1.1 37.5 -1.2 11.3 -1.5 5.1 -1.5 -2.5 -1.9 -12.4 -2 -39.0 0.9 -7.5 1.4 -3.1z" fill="#f5aeae"/><path d="M443.2 0.0l4.1 0.0 -1.1 24.0 -0.8 2.4 -1.9 -0.9zM165.0 17.7l2 1.8 1 6.0 -0.8 22.5 -2.1 10.2 -2.1 -10.2 -0.9 -22.5 1 -6.0zM408.0 18.3l1.5 0.5 1.7 2.3 1.5 9.0 -1.4 46.5 -1.5 13.5 -1.9 5.0 -1.9 -5.0 -1.4 -13.5 -1.4 -46.5 1.5 -9.0 1.7 -2.3zM124.5 43.4l1.5 0.1 1.5 1.5 1.5 4.5 0.4 4.5 -1 37.5 -0.9 8.9 -1.5 5.6 -1.5 -2.6 -1.7 -11.9 -1.7 -37.5 1.1 -7.5z" fill="#f4a5a5"/><path d="M165.0 18.3l1.5 1.0 0.7 1.7 0.5 4.5 -0.8 22.5 -1.9 9.1 -1.9 -9.1 -0.8 -22.5 0.5 -4.5 0.7 -1.7zM408.0 22.1l2 1.9 1.1 6.0 -1 45.0 -0.7 7.7 -1.5 5.2 -1.5 -5.2 -0.7 -7.7 -1 -45.0 1.1 -6.0zM124.5 44.5l1.5 0.1 1.5 1.8 1.5 7.7 -0.8 36.0 -0.7 7.9 -1.5 6.3 -1.5 -2.7 -1.5 -11.4 -1.5 -34.6 0.7 -7.5z" fill="#f39c9c"/><path d="M165.0 18.9l1.9 2.1 0.6 4.5 -0.8 22.5 -1.7 8.1 -1.7 -8.1 -0.8 -22.5 0.6 -4.5zM408.0 26.8l1.3 3.2 -0.6 42.0 -0.7 6.5 -0.7 -6.5 -0.5 -42.0zM124.5 45.6l1.5 0.1 1.5 2.1 1.1 6.2 -0.6 34.5 -0.5 6.5 -1.5 7.1 -1.5 -2.8 -1.2 -9.4 -1.4 -34.5 0.5 -6.0z" fill="#f29494"/><path d="M165.0 19.5l1.5 1.5 0.7 4.5 -0.6 21.0 -1.6 8.5 -1.6 -8.5 -0.6 -21.0 0.7 -4.5zM124.5 46.7l1.5 0.1 0.8 1.2 1.4 6.0 -0.5 34.5 -1.7 11.6 -1.5 -2.9 -0.8 -7.2 -1.3 -34.5 0.5 -6.0z" fill="#f28b8b"/><path d="M165.0 20.1l1.5 1.7 0.5 3.7 -0.5 19.9 -1.5 8.5 -1.5 -8.3 -0.5 -20.1 0.5 -3.8zM124.5 47.9l1.5 0.1 0.8 1.4 1 4.5 -0.3 33.0 -1.4 10.9 -1.5 -3.1 -1.5 -29.3 -0.2 -13.0z" fill="#f18282"/><path d="M165.0 20.8l1.5 2.2 -0.3 22.0 -1.2 7.7 -1.2 -7.7 -0.3 -22.2zM124.5 49.4l1.5 0.1 1.3 4.5 -0.2 31.5 -1 9.9 -1.5 -3.5 -1.3 -37.9z" fill="#f07979"/><path d="M165.0 21.5l1.5 4.0 -0.6 19.5 -0.9 6.4 -0.9 -6.4 -0.6 -19.5zM124.5 51.1l1.5 0.1 0.6 2.8 -0.6 38.4 -1.5 -5.4 -0.6 -31.5z" fill="#f07171"/><path d="M165.0 22.3l1 3.2 -1 24.5 -1 -24.5z" fill="#ef6868"/><path d="M165.0 23.4l0.5 2.1 -0.5 22.7 -0.5 -22.7z" fill="#ee5f5f"/><path d="M527.6 0.0l0.7 1.5 -2.1 22.5 -1.7 6.0 -2.5 2.6 -2.5 -2.6 -1.3 -4.5 -1.6 -24.0 0.9 -1.5zM214.5 9.3l3 -2.7 3 -1.0 12 -0.1 7.5 -0.9 81 0.3 16.5 1.3 36 0.8 6 1.9 2.6 3.2 1.9 4.4 0.9 9.1 -0.5 73.5 -0.5 6.3 -1.5 6.8 -6 -1.8 -4.5 4.6 -1.5 0.7 -6 -19.8 -6 8.2 -6 -7.7 -6 6.6 -6 1.8 -6 -9.0 -1.5 -0.6 -3 0.2 -1.5 0.7 -6 7.0 -6 13.9 -1.5 0.5 -4.5 -1.6 -1.5 -2.1 -1.5 -0.3 -3 1.1 -1.5 -0.7 -3.1 -4.3 -1.4 -0.8 -6 8.8 -2.1 -2.0 -1.8 -4.5 -3.5 -19.5 -1.6 -1.8 -1.5 1.3 -0.4 2.0 1 19.5 -1.6 6.0 -2 1.9 -10.5 -16.7 -1.5 -0.8 -4.5 2.3 -6 -3.4 -5.2 18.2 -2.3 4.1 -6 -4.2 -4.5 3.8 -1.5 -0.1 -10.5 -22.8 -1.5 -1.1 -6 16.7 -1.5 -0.3 -2.8 -3.5 -0.9 -7.5 0.1 -37.5 -0.9 -28.7 -1.5 -17.8 0.5 -4.5zM96.0 8.7l6 0.6 4.8 2.7 3.6 6.0 1.5 7.5 -1.1 36.0 4 9.0 1.1 4.5 0.9 7.5 0.2 12.0 -2 51.0 -1.8 21.0 -2.1 12.4 -1.5 -1.6 -2.2 -9.3 -4.5 -28.5 -2.3 -19.6 -1.5 -4.2 -4.5 -5.9 -1.1 1.1 -2.7 15.0 -2.1 3.1 -1.5 0.4 -1.5 -0.5 -4 -4.5 -3.1 -6.0 -2.9 -7.5 -3.5 -13.5 0.3 -4.5 3.2 -7.5 -1.3 -6.0 -1.5 -18.0 -0.9 -30.0 1 -10.5 1.5 -3.0 2.2 -1.1 2.7 2.6 1.7 6.0 -1.8 42.0 -1.9 19.5 0.9 1.1 10.5 1.6 0.8 -1.2 0.1 -3.0 -6.3 -52.5 -0.1 -9.0 1.7 -7.5 2.2 -3.9 4.5 -3.1zM187.5 13.2l6 0.8 4.5 2.5 3.3 4.5 1.3 6.0 -2.3 28.5 -3.7 7.5 -3.1 19.2 -3 4.0 -3 0.7 -3 -1.4 -2.4 -2.9 -2.8 -6.0 -1.7 -6.0 -1.5 -9.0 -2.4 -33.0 0.6 -6.0 2.7 -5.1 4.5 -3.0zM52.5 23.3l2 2.2 1.2 7.5 -1.1 30.0 -2.1 15.1 -1.5 -2.8 -0.9 -7.7 -1.3 -33.0 0.8 -7.5 1.4 -3.0zM157.5 72.9l3 0.8 1.2 1.3 1.3 3.0 0.4 4.5 -2.1 28.5 -2.3 10.4 -1.5 1.0 -2.5 -9.8 -2.4 -30.0 0.9 -6.0 1 -1.8z" fill="#f4f2f8"/><path d="M526.3 0.0l1 1.5 -1.4 19.5 -1.7 7.5 -2.1 2.7 -2.1 -2.7 -1.4 -6.0 -1.1 -21.0 0.9 -1.5zM214.9 12.0l2.4 -3.0 3.2 -1.5 12 0.3 15 -1.4 73.5 0.9 24 2.8 7.5 0.3 18 -1.0 7.5 1.4 3 2.6 1.5 2.8 1.7 7.7 -0.6 75.0 -1.2 8.7 -1.5 0.4 -4.5 -0.9 -4.5 4.8 -1.5 0.7 -6 -19.7 -6 8.3 -6 -7.6 -6 6.7 -6 1.9 -6 -8.8 -1.5 -0.6 -4.5 1.1 -6 7.2 -6 14.0 -1.5 0.4 -4.5 -1.5 -3 -3.9 -3 0.1 -4.5 -3.9 -1.5 0.4 -1.5 1.6 -4.5 7.3 -1.5 -1.1 -2.2 -5.1 -2.4 -10.5 -0.9 -7.5 -0.6 -1.5 -1.3 -0.8 -1.5 1.1 -0.6 2.7 1.1 18.0 -1.6 6.0 -1.8 1.6 -10.5 -16.6 -1.5 -0.8 -4.5 2.3 -1.5 -0.3 -4.5 -3.1 -5.5 18.4 -2 3.9 -6 -4.2 -4.5 3.6 -1.5 -0.2 -10.5 -23.1 -1.5 -1.1 -6 16.4 -1.5 -0.8 -1.9 -3.5 -0.8 -6.0 -0 -31.5 -1.4 -49.5 0.4 -6.0zM96.0 10.8l4.5 0.4 3 1.4 3.5 3.9 1.8 4.5 1.3 10.5 -1.1 30.0 0.7 3.0 4.1 9.0 1.4 7.5 -0.7 51.0 -1.5 24.0 -2 16.1 -1.5 -0.3 -2.1 -9.8 -6.1 -45.0 -0.7 -2.4 -5 -8.1 -3.7 -9.0 -5.6 -55.5 -0.9 -13.5 1.1 -9.0 1.2 -3.0 2.4 -3.2 3 -1.9zM187.5 18.9l3 0.3 3.2 1.8 2.2 3.0 0.9 4.5 -1.3 27.0 -2 12.4 -2.1 7.1 -2.4 2.6 -1.5 0.2 -3.1 -2.8 -3 -9.0 -2.1 -37.5 0.4 -3.0 1.9 -3.7 3 -2.2zM76.5 21.4l2.1 4.1 0.5 6.0 -1 31.5 -1.6 15.5 -1.5 -2.7 -0.8 -8.3 -1.1 -36.0 1 -7.5 0.9 -2.1zM52.5 26.7l1.5 2.5 0.6 5.3 -0.8 27.0 -1.2 10.9 -1.5 -3.5 -1.2 -34.4 0.8 -6.0zM157.5 74.8l1.5 0.2 1.8 1.6 1.1 3.0 0.4 4.5 -1.3 22.5 -1.7 10.5 -1.8 2.1 -2.3 -11.1 -1.5 -24.0 0.8 -6.0 1.5 -2.5zM76.5 90.4l6 -0.0 3 1.0 3.7 3.1 1.8 3.0 -0.5 21.0 -1.7 6.0 -1.8 1.8 -1.5 -0.3 -3 -3.3 -5.1 -11.6 -3.3 -13.5 0.6 -4.5z" fill="#ebe9f3"/><path d="M525.4 0.0l1.1 1.5 -1.1 18.0 -1.3 7.5 -2.1 3.1 -1.5 -1.7 -1.2 -4.4 -1.4 -22.5 1.2 -1.5zM216.0 12.5l1.6 -2.0 2.9 -1.7 6 -0.2 7.5 1.1 6 -1.3 9 -0.6 27 0.3 13.5 0.9 19.5 -0.6 12 0.9 16.5 3.2 16.5 0.8 15 -1.8 4.5 0.4 4.5 1.5 1.9 1.6 1.8 3.0 1.7 7.5 -1.5 52.5 0.2 22.5 -0.7 3.0 -2 1.2 -3 -0.3 -4.5 5.0 -1.5 0.8 -6 -19.6 -6 8.4 -6 -7.5 -6 7.0 -6 1.9 -6 -8.7 -1.5 -0.5 -4.5 1.3 -6 7.3 -6 14.0 -1.5 0.4 -4.5 -1.5 -4.5 -5.5 -4.1 -2.3 -1.9 -0.1 -1.5 0.5 -1.5 1.6 -4.5 7.3 -1.5 -1.1 -1.6 -3.7 -2.4 -9.0 -1.2 -9.0 -0.8 -2.0 -1.5 -0.7 -1.7 1.2 -0.7 3.0 0.9 18.0 -1.6 5.3 -1.5 1.0 -10.5 -16.6 -1.5 -0.8 -4.5 2.3 -6 -3.4 -5.5 18.2 -2 4.1 -6 -4.2 -4.5 3.6 -1.5 -0.3 -10.5 -23.4 -1.5 -1.1 -6 16.1 -2 -2.3 -1.3 -6.0 -0.1 -27.0 -1.7 -54.0 0.6 -6.0zM96.0 12.4l4.5 0.5 3 1.9 2.4 3.2 1.7 4.5 1.2 9.0 -0.9 30.0 1.1 4.5 3.9 9.0 1.3 7.5 -0.9 60.0 -2.2 23.9 -1.5 1.0 -3.6 -18.9 -3.9 -33.1 -1.5 -3.7 -4.2 -6.7 -2.9 -9.0 -2.7 -18.0 -4.1 -48.0 1 -9.0 3.1 -6.0 2.2 -1.7zM76.5 26.0l1.2 5.5 -1.2 38.6 -1.6 -5.6 -0.5 -31.5 0.6 -6.0zM187.5 26.6l1.5 0.2 1 1.7 -0.6 34.5 -0.4 1.7 -1.5 0.7 -1.1 -3.9 -0.5 -33.0zM52.5 30.5l0.8 4.0 -0.8 30.9 -1.2 -6.9 -0.3 -26.1zM157.5 76.2l1.5 0.2 1.5 1.8 1 5.7 -1.5 25.5 -1 5.4 -1.5 1.5 -2 -11.4 -0.9 -21.0 0.5 -4.5 1 -2.1zM79.5 92.1l3 -0.1 3 1.4 2.2 2.6 1 3.0 0.7 16.5 -1 5.4 -1.5 2.5 -1.5 0.1 -1.5 -1.2 -2.3 -3.7 -2.5 -6.0 -2 -7.5 -1.4 -9.0 0.7 -2.1z" fill="#e2dfee"/><path d="M524.5 0.0l1.5 1.5 -1.2 19.5 -1.2 6.0 -1.5 2.1 -1.5 -2.1 -1.1 -4.5 -1.1 -21.0 1.5 -1.5zM216.5 13.5l2.5 -2.8 3 -1.0 4.5 -0.0 7.5 1.6 6 -1.6 9 -0.9 12 0.9 15 -0.4 13.5 1.3 19.5 -0.9 12 1.5 15 3.8 9 -0.4 9 1.5 13.5 -2.6 4.5 0.1 4.5 1.3 3 2.4 1.3 2.3 1.4 7.5 -0.8 28.5 -1.8 24.0 -0.1 20.0 -3 1.5 -4.5 5.4 -1.5 0.8 -6 -19.3 -6 8.5 -6 -7.3 -6 7.4 -6 1.9 -6 -8.4 -1.5 -0.5 -4.5 1.4 -6 7.5 -6 14.1 -1.5 0.4 -4.5 -1.4 -6 -7.4 -3 -0.7 -3 0.7 -6 8.8 -1.5 -1.1 -3 -8.1 -2.2 -13.8 -0.8 -1.2 -1.5 -0.5 -1.5 0.9 -1 2.3 0.9 18.0 -1.4 5.5 -1.5 1.0 -10.5 -16.5 -1.5 -0.8 -4.5 2.4 -6 -3.4 -5.8 19.3 -1.7 2.9 -6 -4.1 -4.5 3.5 -1.5 -0.3 -10.5 -23.8 -1.5 -1.1 -6 15.7 -1.5 -2.4 -0.8 -4.0 -0.2 -22.5 -1.8 -49.5 0.1 -12.0zM96.0 13.8l4.5 0.6 2.8 2.1 2 3.0 1.6 4.5 0.9 9.0 -0.7 28.5 1 4.8 3.8 8.7 1.5 7.5 -0.4 54.0 -1.9 24.6 -1.5 2.3 -3.4 -17.9 -3.7 -31.5 -1 -3.0 -4 -6.0 -2.3 -6.0 -2.9 -15.0 -4.6 -51.0 0.1 -6.0 1.2 -6.0 1.3 -3.0 2.7 -3.0zM157.5 77.6l1.5 0.3 1 1.6 0.8 4.5 -1.2 24.0 -0.7 4.2 -1.5 1.7 -1.6 -10.4 -0.8 -19.5 0.8 -4.5zM81.0 93.4l3 0.7 1.5 1.2 1.9 3.6 1.1 15.0 -1.3 6.0 -1.6 1.0 -2.5 -2.5 -2.2 -4.5 -3.6 -15.0 0.8 -3.8z" fill="#d9d5e8"/><path d="M523.6 0.0l1.8 1.5 -0.9 18.0 -0.9 6.0 -1.6 2.6 -1.5 -2.3 -0.8 -3.3 -0.9 -21.0 1.7 -1.5zM216.1 16.5l1.4 -3.0 3 -2.6 6 -0.3 7.5 2.2 6 -2.0 9 -1.3 12 1.3 15 -0.7 13.5 1.7 12 -1.2 7.5 0.0 12 2.0 13.5 4.4 3 0.2 7.5 -1.2 10.5 2.7 12 -3.6 4.5 0.1 3 0.9 2.8 1.8 1.7 2.2 1.5 6.8 -1.3 31.5 -1.4 9.0 -1.8 6.6 -3 5.3 -5.6 4.6 -0.4 7.8 -0 -1.8 -1.5 -1.5 -0.3 -3.0 -1.2 -1.4 -6 9.2 -6 -6.8 -6 8.2 -6 1.7 -6 -8.2 -1.5 -0.4 -3 0.7 -1.5 1.0 -6 7.7 -6 14.1 -1.5 0.4 -4.5 -1.3 -6 -7.9 -1.5 -0.4 -4.5 0.9 -6 8.7 -1.5 -1.1 -3 -8.3 -1.7 -12.5 -1.3 -1.8 -1.5 -0.3 -1.5 0.8 -1.2 2.8 0.9 18.0 -1.1 4.3 -1.5 1.0 -10.5 -16.5 -1.5 -0.8 -4.5 2.4 -6 -3.3 -5.7 18.8 -1.8 3.4 -6 -4.2 -4.5 3.4 -1.5 -0.4 -10.1 -23.2 -1.3 -1.5 -0.8 0.0 -5.8 14.7 -1.1 -2.7 -2.7 -84.0zM96.0 15.1l3 0.1 3 1.7 2.1 2.6 1.8 4.5 1.1 9.0 -0.5 30.0 1.6 5.6 3.3 7.9 1.2 6.0 -0.1 54.0 -1.4 19.2 -1.5 3.8 -3.2 -17.1 -3 -28.5 -1.2 -4.4 -4.5 -6.5 -2 -5.5 -3.6 -21.0 -3.4 -48.0 0.6 -4.5 1.6 -4.5 2.3 -2.9zM157.5 79.0l1.5 0.5 1.2 4.5 -1.2 25.3 -1.5 2.0 -1.1 -7.8 -0.7 -19.5 0.5 -3.0zM81.0 95.2l3 0.8 2 3.1 1.4 13.5 -0.4 3.4 -1.5 2.4 -1.5 -0.8 -2 -3.5 -3.3 -13.5 -0 -3.0 0.8 -1.5z" fill="#d0cce3"/><path d="M522.0 0.0l3 1.5 -0.8 19.5 -0.6 3.6 -1.5 2.6 -1.5 -2.7 -0.6 -3.6 -0.6 -19.5zM216.8 16.5l2.2 -3.6 3 -1.4 4.5 0.0 7.5 2.9 9 -3.2 6 -0.8 12 1.6 15 -0.9 13.5 2.2 12 -1.6 7.5 0.1 12 2.6 13.5 5.5 3 -0.1 6 -2.0 3 0.2 9 4.6 10.5 -5.1 4.5 -0.4 3 0.7 4.4 3.4 1.6 6.0 -1.3 28.5 -2 10.5 -1.9 4.5 -2.3 2.9 -3 1.1 -3 -1.1 -2.6 -2.9 -2.4 -4.5 -4 -13.9 -1.5 -1.8 -1.5 6.3 -3.2 27.4 -3.5 7.5 -2.3 1.9 -4.5 0.4 -6 -7.6 -4.5 0.7 -1.5 1.1 -6 7.9 -6 14.2 -1.5 0.4 -4.5 -1.1 -6 -8.1 -1.5 -0.3 -4.5 1.0 -6 8.5 -1.5 -1.1 -3 -8.5 -1.2 -11.0 -1.8 -2.5 -1.5 -0.1 -1.8 1.1 -1.2 3.0 0.9 16.5 -0.9 4.7 -1.5 1.0 -10.5 -16.4 -1.5 -0.8 -4.5 2.4 -6 -3.2 -6 19.8 -1.5 2.4 -6 -4.2 -4.5 3.3 -1.5 -0.5 -10.5 -24.5 -1.7 -0.5 -4.3 11.5 -1.5 1.8 -3.3 -76.3 0.1 -7.5zM97.5 16.2l3 1.0 1.5 1.3 1.8 2.6 1.6 4.5 0.8 7.5 -0.4 30.0 1 4.5 4.1 10.5 1 6.0 0 51.0 -0.9 15.1 -1.5 5.7 -1.5 -5.3 -1.5 -10.0 -3 -28.9 -1.5 -4.3 -3.2 -3.8 -2.7 -6.0 -2.3 -10.5 -1.6 -12.0 -3 -46.5 1.2 -6.0 1.4 -3.0 2.6 -2.6zM157.5 80.7l1.5 0.6 0.5 2.7 -0.5 21.0 -1.6 3.4 -1 -24.4zM81.0 97.4l1.5 -0.2 1.8 1.8 1.6 12.0 -0.5 3.3 -1.5 0.1 -1.7 -3.4 -2 -10.5z" fill="#c7c2de"/><path d="M522.0 0.4l2.5 1.1 -0.7 19.5 -1.8 5.3 -1.8 -5.3 -0.5 -19.5zM218.2 15.0l2.3 -2.3 4.5 -0.7 3 0.7 6 3.1 7.5 -3.4 7.5 -1.4 12 1.9 15 -1.1 13.5 2.6 16.5 -2.2 6 0.8 9 2.8 13.5 7.3 1.5 0.0 4.5 -3.0 3 -1.1 4.5 0.8 4.2 4.1 1.3 3.0 0.1 3.0 -3.3 43.5 -1.8 10.5 -2.1 5.9 -1.5 1.1 -1.5 -0.1 -1.8 -2.4 -2 -6.0 -2.3 -12.5 -1.5 -0.7 -0.6 13.1 -6.9 3.8 -6 8.3 -6 14.2 -1.5 0.5 -4.5 -1.0 -6 -8.1 -1.5 -0.2 -4.5 1.0 -6 8.3 -1.5 -1.1 -3 -8.9 -1.1 -10.9 -1.9 -1.6 -1.5 0.0 -2.3 1.6 -1.1 3.0 1 16.5 -0.6 3.5 -1.5 1.1 -10.5 -16.3 -1.5 -0.8 -4.5 2.4 -6 -3.1 -6 19.9 -1.5 2.3 -6 -4.3 -4.5 3.2 -1.5 -0.6 -10.5 -24.8 -1.7 -0.4 -4.3 10.5 -0.5 -1.5 -2.7 -37.5 -1 -40.5zM97.5 17.3l3 1.1 1.5 1.4 3 7.1 0.6 6.0 -0.3 30.0 1.2 5.7 3.7 9.3 1.1 6.0 0.3 48.0 -0.5 11.5 -1.5 8.2 -1.5 -4.7 -1.5 -10.4 -2.7 -27.0 -1.8 -4.3 -3.9 -4.7 -1.8 -4.5 -2.3 -10.5 -1.3 -10.5 -2.8 -46.5 0.8 -4.5 2.2 -4.4 1.5 -1.4zM369.0 18.8l3 0.4 3.3 1.9 1.8 3.0 0.4 3.0 -1.7 31.5 -2.5 7.5 -1.4 2.0 -3 1.2 -1.5 -0.7 -2.2 -2.6 -2.9 -7.5 -3.2 -31.5 1 -3.0 2.7 -3.0 3.1 -1.7zM157.5 83.1l0.8 2.4 -0.8 18.3z" fill="#bfb8d9"/><path d="M522.0 0.7l2 0.8 -0.5 19.5 -1.5 4.3 -1.5 -4.3 -0.4 -19.5zM219.0 15.0l1.7 -1.5 4.3 -0.7 3 0.8 6 3.9 7.3 -4.0 6.2 -1.6 4.5 0.2 9 2.1 15 -1.3 13.5 3.1 10.5 -2.2 6 -0.4 6 0.9 9 3.4 6.9 5.0 2.7 3.0 0.8 3.0 -0.5 52.5 -8.5 12.2 -6 14.3 -1.5 0.5 -4.5 -0.7 -6 -8.0 -1.5 -0.2 -5.1 1.4 -5.4 7.5 -1.5 -1.1 -1.8 -4.9 -1.2 -5.1 -0.3 -8.4 -1.2 -1.8 -1.5 -0.6 -3 1.0 -2 2.9 -0.3 4.5 1.1 13.5 -0.4 2.1 -1.5 1.2 -10.5 -16.1 -1.5 -0.8 -4.5 2.3 -6 -3.0 -6 20.0 -1.5 2.3 -6 -4.4 -4.5 3.1 -1.5 -0.8 -4.6 -13.4 -1 -4.5 -0.4 -7.4 -1.5 -0.2 -1.5 1.3 -3 -1.4 -1.5 2.1 -1.5 -0.8 -1.5 -2.6 -2.6 -22.5 -1.3 -36.0 0.2 -7.5zM97.5 18.5l2.7 1.0 1.5 1.5 2.6 6.0 0.7 6.0 -0.2 30.0 1.3 6.0 3.8 10.5 0.8 4.5 0.5 46.5 -1.6 16.8 -2 -7.8 -3.3 -31.5 -1 -3.0 -4.3 -4.6 -2 -4.4 -1.9 -7.5 -1.7 -12.0 -2.9 -46.5 0.7 -4.5 1.8 -4.4 1.5 -1.6zM345.0 20.5l3 1.1 2.2 2.4 1.2 3.0 0.3 4.5 -2.6 42.0 -2.2 10.5 -2 3.1 -1.5 -0.9 -1 -2.2 -2.6 -12.0 -3.1 -40.5 0.4 -4.5 1.5 -3.0 3.2 -2.9zM369.0 21.0l4.5 1.5 1.5 2.7 0.3 3.3 -1.3 28.5 -2 5.5 -1.5 1.5 -1.5 0.1 -1.5 -1.1 -1.5 -2.6 -1.4 -4.9 -1.7 -28.5 0.9 -3.0 1.3 -1.5z" fill="#b6aed3"/><path d="M522.0 1.0l1.6 0.5 -0.6 19.5 -1 3.2 -1 -3.2 -0.5 -19.5zM219.9 15.0l3.6 -1.4 3 0.3 3 1.6 4.5 3.9 1.5 -0.4 4.7 -3.9 7.3 -2.5 4.5 0.2 9 2.4 10.5 -1.6 4.5 0.0 13.5 3.7 10.5 -2.7 6 -0.5 7.5 1.6 7.5 3.6 4.8 4.7 1.5 3.0 -0.8 55.5 -0.6 3.0 -3.4 6.0 -6 14.5 -1.5 0.6 -4.5 -0.4 -6 -7.8 -1.5 -0.2 -4.5 0.8 -1.5 1.1 -4.5 6.4 -1.5 -1.2 -1.7 -4.8 -0.5 -12.0 -1.8 -3.0 -2 -0.6 -3 1.4 -2.4 3.7 -0.1 7.5 1.2 9.0 -0.2 2.0 -1.5 1.5 -10.5 -15.9 -1.5 -0.8 -4.5 2.3 -6 -2.7 -6 20.1 -1.5 2.2 -6 -4.6 -4.5 2.8 -1.5 -1.0 -2.2 -8.8 -0.8 -40.5 -1.5 -1.1 -2.2 13.1 -1.6 6.0 -2.1 4.6 -3 1.4 -1.5 -1.5 -1.7 -4.5 -2.1 -18.0 -1.1 -36.0 0.6 -7.5zM97.5 19.6l3 1.4 1.2 1.5 2.2 6.0 0.3 34.5 0.7 4.5 4.1 12.0 0.8 4.5 0.5 43.5 -1 14.8 -1.5 -3.2 -3.3 -32.6 -1.2 -3.6 -4.5 -4.1 -1.5 -3.0 -1.9 -7.3 -1.6 -10.5 -2.8 -48.0 2 -7.5 1.3 -1.7zM345.0 22.0l3 1.5 1.4 2.0 1 6.0 -1.7 37.5 -1.8 10.5 -2 3.8 -1.5 -1.3 -2.6 -11.4 -2.1 -39.0 0.5 -4.5 1.3 -2.6 2.3 -1.9zM369.0 24.7l2 0.8 0.8 3.0 -0.4 25.5 -0.8 2.7 -1.5 0.3 -1.3 -4.5 -0.6 -24.0 0.4 -2.5z" fill="#ada5ce"/><path d="M522.0 1.3l0.6 0.2 -0.6 21.3 -0.5 -21.3zM220.5 15.3l3 -1.0 3.7 0.7 2.3 1.6 4.5 5.2 7.5 -6.5 3 -1.4 4.5 -0.8 4.5 0.7 7.5 2.5 10.5 -1.9 4.5 0.0 13.5 4.4 12 -3.6 6 -0.1 6 1.7 7.5 4.6 2.9 4.3 0.5 3.0 -2.3 60.0 -1.1 4.6 -4.5 10.7 -6 1.2 -6 -7.5 -6 0.3 -1.5 0.9 -4.5 5.3 -1.7 -2.1 -0.5 -15.0 -1.3 -3.0 -2.5 -1.3 -3 1.1 -4 4.6 -0.7 4.5 1.1 13.5 -0.9 1.7 -10.5 -15.4 -1.5 -0.9 -4.5 2.2 -6 -2.4 -6 20.2 -1.5 2.2 -6 -4.9 -3 2.3 -1.5 0.1 -1.5 -2.0 -1 -45.2 -2 -22.3 -1.5 3.9 -2.4 22.9 -3.1 12.0 -2.1 3.1 -1.5 0.1 -1.5 -1.8 -1.5 -4.0 -2 -17.0 -1 -34.5 0.6 -7.5zM97.5 20.7l3.2 1.8 2.6 6.0 0.5 4.5 -0.1 30.0 1.2 6.6 4.3 14.4 0.2 51.4 -1.5 -1.5 -2.5 -28.8 -1.9 -4.5 -4.6 -3.3 -1.5 -3.1 -3.1 -16.0 -2.7 -46.5 1.6 -7.5 1.2 -1.9zM345.0 23.7l3 2.1 1.3 5.7 -1.2 36.0 -1.5 9.4 -1.5 2.6 -1.9 -3.0 -1.6 -9.0 -1.4 -36.0 1.5 -6.0 1.9 -1.6z" fill="#a39cca"/><path d="M240.0 17.2l4.5 -2.6 4.5 -0.9 4.5 0.8 7.5 2.9 13.5 -2.3 6 1.3 9 4.1 10.5 -4.1 6 -0.7 4.5 0.9 3.4 1.5 7.1 5.8 1.2 4.7 -1.7 27.0 -3.3 27.0 -4.3 19.5 -2.3 1.6 -3 -2.7 -3 -4.2 -7.5 0.4 -1.4 -1.1 -6.1 -31.9 -1.5 1.1 -3.6 14.4 -4.9 7.5 -1.3 3.0 -0.7 4.7 -1.5 2.5 -1.5 0.8 -1.5 -1.1 -4.5 -5.7 -1.5 -1.0 -4.5 2.0 -6 -1.7 -6 20.4 -1.5 2.1 -6 -5.3 -3 2.0 -0.7 -0.3 -0.6 -1.5 -1.8 -52.5 -1.4 -21.1 -1.1 -7.4 1.8 -4.5zM223.5 15.1l3 0.4 3.2 2.5 1.8 3.0 1.9 6.0 -1 4.0 -2.1 29.0 -1.4 10.5 -2.4 8.8 -1.5 2.3 -1.5 0.2 -2.7 -5.3 -1.4 -9.0 -1.5 -40.5 1 -8.4 1.5 -2.3zM97.5 21.9l1.5 0.4 1.8 1.7 1.5 3.0 0.9 4.5 0.1 31.5 1 6.0 4.2 15.0 -0.5 25.1 -0.4 -4.1 -2.6 -5.5 -1.5 -1.5 -3 -0.9 -2.7 -4.0 -2.9 -13.5 -2.7 -48.0 0.7 -4.5 1.3 -3.0 1.8 -1.8zM345.0 25.6l1.5 0.8 1.1 2.1 0.5 4.5 -0.9 33.0 -0.7 6.2 -1.5 3.4 -1.5 -2.3 -1.1 -7.2 -1 -34.5 1.2 -4.5z" fill="#9a93c6"/><path d="M240.4 18.0l4.1 -2.7 4.5 -1.0 4.5 0.8 7.5 3.4 9 -2.4 4.5 -0.4 6 1.5 7.5 4.8 1.5 0.3 10.5 -5.2 6 -0.8 6 1.6 5.7 4.4 2.4 4.5 -4.6 52.5 -2.7 15.0 -2.3 7.2 -1.5 -0.3 -4.5 -5.5 -4.5 -0.1 -2.6 -1.2 -2.7 -13.5 -3.7 -31.0 -1.5 -4.9 -1.5 1.2 -1.5 6.3 -2.4 16.3 -2.4 10.5 -5.7 11.4 -3 1.1 -3 -1.5 -3.5 -5.0 -4 -9.1 -1.5 0.2 -2.5 11.9 -2 0.8 -6 20.7 -1.5 2.0 -3 -2.5 -3.7 -4.5 -2.2 -10.5 -3.9 -67.5 1.2 -4.5zM223.5 15.8l3 0.5 3 2.7 1.6 3.5 0.6 4.5 -2.9 40.5 -2.2 9.2 -1.5 2.7 -1.5 0.2 -2.3 -4.6 -1.5 -9.0 -1.3 -39.0 0.8 -7.5 1.3 -2.3zM97.5 23.0l3 2.0 2.1 6.5 0.2 31.5 5 22.5 -1.3 10.0 -6 -0.0 -1.5 -1.4 -2 -5.5 -1.8 -10.5 -2.4 -46.5 1.7 -6.4 1.5 -1.6zM345.0 28.4l1.5 2.2 -0.3 34.0 -1.2 6.0 -1.5 -4.7 -0.5 -32.8 0.5 -3.6z" fill="#9089c1"/><path d="M241.6 18.0l2.9 -2.0 4.5 -1.1 4.5 0.9 7.5 4.0 1.5 0.0 9 -3.2 4.5 0.0 6.2 2.7 7.3 7.2 3.7 -4.2 3.8 -2.9 6 -2.3 4.5 0.1 3 0.9 5.5 4.1 1.8 3.0 0.4 3.0 -3.7 48.0 -3 18.0 -1.3 4.5 -1.1 1.1 -4.5 -5.1 -4.5 -0.4 -1.7 -1.6 -2.4 -13.5 -3.4 -35.9 -1.5 -10.3 -1.5 -4.8 -1.5 1.2 -1.5 6.4 -4.9 37.4 -1.6 6.0 -2.5 5.6 -3 3.1 -3 -0.7 -1.5 -1.7 -3.6 -7.8 -3.9 -15.0 -1.5 -1.6 -1.5 5.6 -2.3 18.5 -6.7 23.4 -1.5 1.9 -1.7 -1.2 -2.1 -3.0 -1.8 -6.0 -2.7 -15.0 -1 -10.5 -2.4 -48.0 1.7 -6.0zM223.5 16.6l3 0.6 2.4 2.3 1.3 3.0 0.5 4.5 -2.2 37.5 -2 9.6 -1.5 3.1 -1.5 0.3 -1.9 -4.0 -1.6 -9.0 -1.2 -37.5 1 -7.5 0.9 -1.5zM97.5 24.3l1.5 0.5 1.5 1.8 1.5 4.9 0.3 31.6 4.6 21.0 -0.4 4.4 -1.1 3.1 -3.4 2.3 -1.5 -0.0 -1.5 -1.4 -1.5 -3.6 -2.2 -13.7 -1.9 -43.5 1.1 -4.7 1.5 -2.0z" fill="#8680bd"/><path d="M277.5 18.0l4.8 3.0 2.2 3.0 0.8 3.0 -3.4 37.5 -2.4 12.0 -2 5.1 -3 3.4 -1.5 0.0 -2.6 -2.6 -3.9 -10.5 -4 -22.8 -1.5 -0.6 -1.5 6.2 -3.6 32.2 -3.9 16.1 -1.5 4.4 -1.5 1.4 -2.4 -2.4 -1.6 -4.5 -3.9 -22.5 -2.9 -51.0 0.5 -4.5 1.2 -3.0 4.6 -4.2 3 -1.1 5.8 0.8 7.7 4.9 1.5 0.1 9 -3.9zM223.5 17.4l2.8 0.6 1.7 1.6 1.3 2.9 0.5 4.5 -2 37.5 -1.5 7.5 -1.3 3.0 -1.5 0.3 -1.5 -2.8 -1.6 -8.0 -1.1 -37.5 1.1 -7.5zM304.5 18.0l4.5 0.7 3 1.5 3.6 3.8 1 3.0 -3.6 52.5 -1.7 10.5 -2.3 8.2 -1.5 -0.2 -3 -3.8 -4.5 -0.9 -1 -1.7 -2.4 -15.0 -4 -48.0 0.4 -3.0 3.7 -4.5 3.2 -1.9zM97.5 25.6l2.2 1.4 1.7 4.5 0.5 31.5 4.1 21.0 -1.9 6.0 -2.1 1.9 -1.5 0.2 -1.5 -1.4 -1.5 -3.9 -1.8 -11.8 -1.8 -42.0 0.7 -4.5 1.3 -2.2z" fill="#7d77b8"/><path d="M277.5 19.0l4.5 3.5 1.5 4.5 -2.5 36.0 -2.3 12.0 -1.8 4.5 -2.3 2.6 -1.5 -0.0 -1.4 -1.1 -1.6 -2.6 -3.4 -12.4 -2.6 -24.0 -1.5 -6.3 -1.5 0.8 -1.5 7.1 -4.8 46.4 -2.7 11.6 -1.5 3.8 -1.5 1.1 -1.5 -1.1 -2 -5.0 -3.3 -18.0 -2.4 -34.5 -0.8 -19.5 0.4 -4.5 2.7 -4.5 2.4 -2.0 3 -1.2 3 -0.0 3 1.0 7.5 6.2 1.5 0.2 7.5 -4.8 4.5 -0.6zM223.5 18.3l3 0.8 1.5 1.8 1 6.0 -1.5 36.0 -2.4 9.8 -1.5 0.4 -1.5 -3.2 -1.4 -8.5 -0.8 -34.5 0.7 -6.3zM304.5 18.9l4.2 0.6 2.8 1.5 2.8 3.0 1.1 3.0 -3.1 51.0 -3.3 17.1 -1.5 1.7 -3 -3.5 -3 -0.5 -1.4 -1.3 -2.5 -15.0 -3.3 -48.0 0.4 -3.0 2 -3.0 3.3 -2.5zM97.5 27.0l1.5 0.7 1.7 3.8 0.6 31.5 3.7 19.5 -0.3 3.0 -1.1 2.6 -1.5 1.8 -1.5 0.5 -1.5 -1.4 -1.5 -4.2 -1.3 -9.8 -1.6 -42.0 1.1 -4.5z" fill="#736eb4"/><path d="M249.0 16.8l3 0.6 3.5 2.2 3.7 4.5 1.1 3.0 -2.3 18.9 -3.7 42.6 -2.3 10.9 -1.5 3.7 -1.5 1.2 -1.5 -1.2 -2 -5.6 -2.7 -16.5 -3.1 -54.0 1.2 -4.5 2.2 -3.0 3 -2.1zM223.5 19.3l1.5 0.1 2 1.7 1.2 6.0 -1.4 36.0 -1.8 7.4 -1.5 0.5 -1.5 -3.8 -0.8 -5.6 -0.9 -34.5 0.4 -4.5 1.3 -2.3zM273.0 19.3l3 0.3 3 1.5 2.3 3.0 0.6 3.0 -2.3 39.0 -2.1 8.8 -1.5 3.1 -1.5 1.4 -1.5 -0.0 -1.5 -1.5 -1.9 -4.3 -1.5 -6.0 -3.8 -40.5 2.2 -4.5 3.5 -2.5zM304.5 19.7l3 0.3 3 1.4 2.4 2.5 1.2 3.0 -2.7 51.0 -1.6 10.5 -2.3 6.8 -1.5 -0.8 -1.5 -2.2 -3 -0.8 -1.8 -6.0 -1.3 -10.5 -2.7 -46.5 0.4 -3.0 2.1 -3.0 3.3 -2.1zM97.5 28.8l1.5 0.9 1 3.3 0.6 30.0 3.3 18.0 -0.6 4.5 -1.4 2.3 -1.5 0.7 -1.5 -1.4 -1.5 -4.6 -0.8 -7.5 -1.2 -42.0 0.5 -2.8z" fill="#6965af"/><path d="M249.0 17.4l3 0.6 3 2.0 2.1 2.5 1.7 4.5 -4.4 57.0 -2.4 12.9 -1.5 4.1 -1.5 1.3 -1.5 -1.3 -1.5 -4.1 -2.6 -14.4 -3.2 -55.5 0.6 -3.0 2.1 -3.5 3 -2.4zM223.5 20.5l1.5 0.1 1.5 1.6 0.8 4.9 -0.8 33.0 -1.5 7.8 -1.5 0.6 -1.8 -8.3 -0.7 -33.0 0.6 -4.5zM273.0 20.3l3 0.3 2.9 1.9 1.6 4.5 -1.8 37.5 -1.6 7.5 -2.6 4.4 -1.5 -0.1 -1.5 -1.8 -2.5 -8.5 -2.6 -37.5 0.3 -3.0 1.7 -3.0 2.1 -1.5zM304.5 20.6l3 0.4 3 1.7 2 2.8 0.5 3.0 -2.6 51.0 -2.9 13.3 -1.5 0.5 -1.5 -2.0 -3 -1.7 -1.7 -8.7 -2.9 -52.5 0.5 -3.0 1.1 -1.8 3 -2.3zM97.5 31.3l1.5 3.2 0.5 28.5 3.5 16.5 -0.3 4.5 -0.7 1.6 -1.5 1.0 -1.5 -1.4 -1.7 -8.6 -0.5 -42.0z" fill="#605cab"/><path d="M249.0 18.0l3 0.7 3 2.3 1.9 3.0 0.7 3.0 -3.6 55.5 -2.1 11.9 -1.5 4.4 -1.5 1.4 -1.5 -1.4 -1.5 -4.4 -2.2 -13.4 -2.8 -54.0 0.7 -3.0 1.7 -3.0 2.6 -2.2zM223.5 22.1l1.7 0.4 1.1 6.0 -0.7 31.5 -0.6 4.4 -1.5 0.8 -0.9 -5.2 -0.5 -34.5zM273.0 21.5l3.8 1.0 1.3 1.5 0.9 3.0 -1.4 37.5 -1.6 6.6 -1.5 2.0 -1.5 -0.1 -1.5 -2.2 -1.6 -6.3 -1.8 -36.0 1 -4.5 1.4 -1.5zM304.5 21.6l3 0.4 2.8 1.9 1.6 4.5 -2.1 49.5 -1.5 9.0 -2.2 4.8 -3.7 -3.3 -1.9 -9.0 -2.3 -51.0 0.4 -2.6 1.1 -1.9 1.9 -1.5zM99.0 67.3l3.1 10.7 -0.1 3.8 -1.5 2.6 -1.5 -1.6 -1.1 -6.2z" fill="#5956a8"/><path d="M249.0 18.6l3 0.7 2.1 1.6 2 3.0 0.7 3.0 -3.1 54.0 -2 12.0 -1.2 3.8 -1.5 1.5 -1.5 -1.5 -1.5 -4.8 -1.9 -12.5 -2.4 -52.5 0.7 -3.0 1.9 -3.0 1.8 -1.5zM273.0 23.3l3 0.9 1.3 4.3 -0.8 34.5 -0.4 3.1 -1.5 3.2 -1.5 -0.1 -0.8 -1.6 -1.1 -6.0 -1 -34.5 1.4 -3.0zM304.5 22.7l3 0.6 1.5 1.0 1.5 2.5 -1.5 50.5 -1.4 8.3 -1.6 3.8 -3 -1.9 -1.8 -7.9 -2 -51.0 0.7 -3.0 1.3 -1.5zM99.0 73.7l1.5 1.3 -0 5.9 -1.5 -2.2z" fill="#5555a7"/><path d="M249.0 19.3l3 0.8 1.5 1.2 1.8 2.7 0.8 3.0 -2.6 52.5 -2 12.0 -1 3.3 -1.5 1.7 -1.5 -1.7 -1 -3.3 -2 -12.0 -2.3 -51.0 0.2 -3.0 1.3 -3.0 2.2 -2.2zM304.5 23.9l1.5 0.1 2.3 1.5 1 3.0 -1.4 49.5 -1.8 7.5 -1.6 0.8 -1.5 -2.9 -1.1 -6.9 -1.3 -48.0 1 -3.0z" fill="#5154a6"/><path d="M249.0 20.0l3 0.9 1.5 1.4 1.9 4.7 -2.4 52.5 -2.5 13.2 -1.5 1.8 -1.5 -1.8 -2.5 -13.2 -2.1 -51.0 0.3 -3.0 1.4 -3.0 1.5 -1.5zM304.5 25.6l1.5 0.2 1.4 1.2 -0.6 49.5 -0.8 4.6 -1.5 0.8 -1.5 -6.9 -0.4 -48.0z" fill="#4e54a5"/><path d="M249.0 20.7l3 1.1 1.5 1.7 1.2 5.1 -2 49.5 -2.2 12.6 -1.5 2.0 -1.5 -2.0 -2.2 -12.6 -1.8 -49.5 1 -4.7 1.5 -1.9z" fill="#4a53a4"/><path d="M249.0 21.4l2.8 1.1 1.2 1.5 1 4.5 -1.8 49.5 -1.8 10.4 -1.5 2.1 -1.5 -2.1 -1.8 -10.4 -1.6 -49.5 1 -4.5 1.2 -1.5z" fill="#4752a3"/><path d="M249.0 22.2l1.5 0.3 1.7 1.5 1.2 4.5 -1.4 48.0 -1.5 9.5 -1.5 2.4 -1.5 -2.4 -1.5 -9.5 -1.3 -48.0 1.2 -4.5z" fill="#4352a2"/><path d="M249.0 23.1l1.5 0.4 1.5 1.6 0.7 3.4 -1.3 48.0 -0.9 6.8 -1.5 2.8 -1.5 -2.8 -1 -8.3 -1.1 -46.5 0.6 -3.2 1.5 -1.7z" fill="#4051a1"/><path d="M249.0 24.1l2.2 1.4 0.7 3.0 -1.4 51.4 -1.5 3.6 -1.5 -3.6 -1.3 -51.4 0.7 -3.0z" fill="#3c50a0"/><path d="M249.0 25.5l1.5 1.0 0.3 2.0 -0.7 45.0 -1.2 6.5 -1.2 -6.5 -0.3 -46.9z" fill="#394e9f"/>
</g>
<polyline points="0.0,182.3 1.3,182.1 6.1,180.7 13.3,183.9 19.2,182.5 25.3,193.5 31.2,177.1 37.5,150.6 43.2,147.0 49.5,138.6 55.7,147.5 61.6,132.7 67.9,143.5 73.6,147.5 79.9,157.8 85.8,152.9 92.0,164.2 97.9,137.4 104.0,152.4 110.4,215.1 122.4,138.6 128.3,169.9 134.2,128.5 140.9,138.8 146.8,128.1 152.7,147.3 158.4,182.2 164.7,123.1 171.3,119.0 176.7,120.4 183.5,126.3 189.2,125.8 195.1,127.6 201.0,126.3 207.1,143.1 213.0,144.9 218.9,144.6 225.5,125.8 231.8,140.6 237.5,151.4 243.4,146.4 249.7,151.4 256.0,127.6 261.9,132.4 267.7,129.4 279.7,148.5 285.6,131.7 291.9,145.5 298.2,134.7 304.1,128.1 310.2,142.4 316.1,144.9 322.3,130.3 329.1,122.7 334.0,122.7 340.6,132.9 346.5,131.1 352.4,124.5 358.5,132.4 364.4,124.0 370.7,144.9 376.9,138.8 382.8,142.4 389.2,126.5 394.4,127.1 400.8,130.4 407.2,134.8 413.4,125.7 418.8,93.1 425.1,75.7 430.9,50.4 437.1,47.5 443.4,41.1 449.8,44.2 455.6,38.8 461.4,61.1 467.3,63.6 473.5,56.3 479.3,40.3 485.5,33.4 491.9,43.6 497.7,33.4 504.1,29.5 510.3,45.0 516.2,46.2 522.4,43.6 528.8,63.0 530.2,66.5" fill="none" stroke="#000" stroke-width="2.1" stroke-linejoin="round"/>
</g>
<line x1="812.4" y1="380.4" x2="1342.6" y2="380.4" stroke="#8c8c8c" stroke-width="1.3"/>
<path d="M812.4,379.79999999999995 V605.4 H1342.6 V379.79999999999995" fill="none" stroke="#2b2b2b" stroke-width="2.2"/>
<text transform="translate(842.70,633.90) scale(1.015,1)" text-anchor="middle" font-size="25.0" font-weight="normal" >750</text>
<text transform="translate(994.18,633.90) scale(1.015,1)" text-anchor="middle" font-size="25.0" font-weight="normal" >700</text>
<text transform="translate(1145.67,633.90) scale(1.015,1)" text-anchor="middle" font-size="25.0" font-weight="normal" >650</text>
<text transform="translate(1297.15,633.90) scale(1.015,1)" text-anchor="middle" font-size="25.0" font-weight="normal" >600</text>
<text transform="translate(804.40,388.60) scale(1.015,1)" text-anchor="end" font-size="25.0" font-weight="normal" >0</text>
<text transform="translate(804.40,463.60) scale(1.015,1)" text-anchor="end" font-size="25.0" font-weight="normal" >-10</text>
<text transform="translate(804.40,538.60) scale(1.015,1)" text-anchor="end" font-size="25.0" font-weight="normal" >-20</text>
<text transform="translate(804.40,613.60) scale(1.015,1)" text-anchor="end" font-size="25.0" font-weight="normal" >-30</text>
<text transform="translate(1077.50,662.40) scale(1.08,1)" text-anchor="middle" font-size="25.0" font-weight="normal" >distance[km]</text>
<text transform="translate(758.0,492.9) rotate(-90) scale(1.27,1)" text-anchor="middle" font-size="22">depth [m]</text>
<text x="731.6" y="372.5" font-size="28.8" font-weight="bold">D</text>
<linearGradient id="cbgD" x1="0" y1="1" x2="0" y2="0"><stop offset="0.0000" stop-color="#28308a"/><stop offset="0.1250" stop-color="#3a50a0"/><stop offset="0.2500" stop-color="#5a56a8"/><stop offset="0.3750" stop-color="#b0a8d0"/><stop offset="0.5000" stop-color="#ffffff"/><stop offset="0.6250" stop-color="#f4a8a8"/><stop offset="0.7500" stop-color="#ee5a5a"/><stop offset="0.8500" stop-color="#e81c24"/><stop offset="0.9250" stop-color="#b01c22"/><stop offset="1.0000" stop-color="#7a1a1a"/></linearGradient><rect x="1350.85" y="381.45" width="14.300000000000091" height="223.4" fill="url(#cbgD)" stroke="#1e2626" stroke-width="2.1"/>
<text transform="translate(1372.00,614.90) scale(1.015,1)" text-anchor="start" font-size="25.0" font-weight="normal" >-0.01</text>
<text transform="translate(1372.00,558.52) scale(1.015,1)" text-anchor="start" font-size="25.0" font-weight="normal" >-0.005</text>
<text transform="translate(1372.00,502.15) scale(1.015,1)" text-anchor="start" font-size="25.0" font-weight="normal" >0</text>
<text transform="translate(1372.00,445.77) scale(1.015,1)" text-anchor="start" font-size="25.0" font-weight="normal" >0.005</text>
<text transform="translate(1372.00,389.40) scale(1.015,1)" text-anchor="start" font-size="25.0" font-weight="normal" >0.01</text>
<path d="M1365.2,549.5 h-4 M1365.2,493.1 h-4 M1365.2,436.8 h-4" stroke="#222" stroke-width="1.6" fill="none"/>
</svg></body></html>
